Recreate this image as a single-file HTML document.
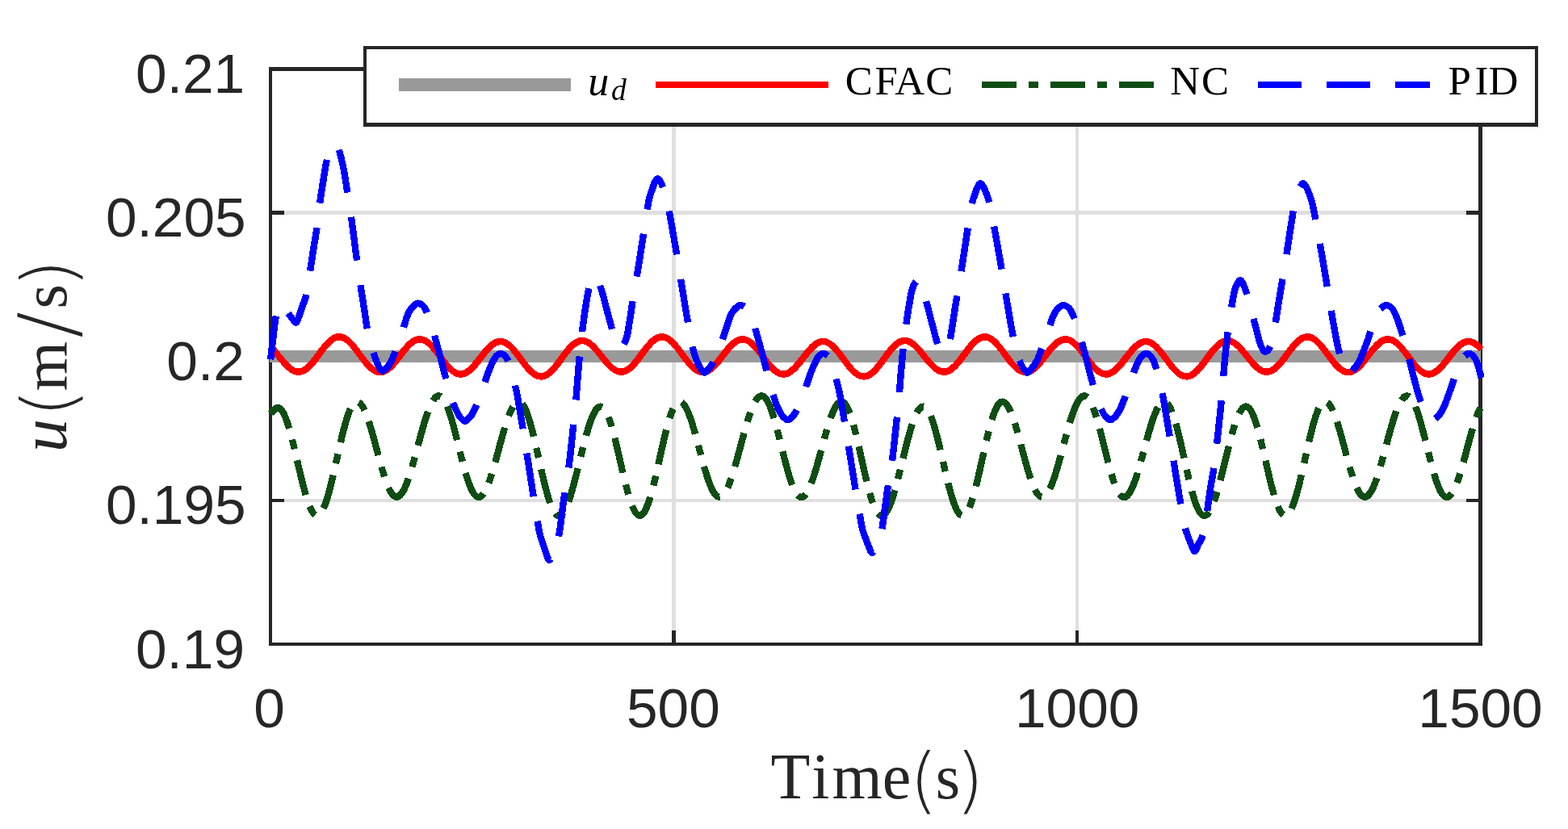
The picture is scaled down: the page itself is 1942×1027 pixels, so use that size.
<!DOCTYPE html>
<html lang="en"><head><meta charset="utf-8"><title>u (m/s) versus Time (s)</title>
<style>html,body{margin:0;padding:0;background:#fff;overflow:hidden}svg{display:block}.tk{font-family:"Liberation Sans","DejaVu Sans",sans-serif;font-size:69.4px;fill:#262626}.lb{font-family:"Liberation Serif","DejaVu Serif",serif;font-size:80px;fill:#262626}.lg{font-family:"Liberation Serif","DejaVu Serif",serif;font-size:51px;fill:#000}</style></head><body>
<svg width="1942" height="1027" viewBox="0 0 1942 1027">
<defs><clipPath id="ax"><rect x="331" y="83" width="1507" height="717"/></clipPath></defs>
<rect x="0" y="0" width="1942" height="1027" fill="#fff"/>
<g shape-rendering="crispEdges">
<rect x="832" y="88" width="5" height="708" fill="#dfdfdf"/>
<rect x="1332" y="88" width="4" height="708" fill="#dfdfdf"/>
<rect x="337" y="261" width="1494" height="5" fill="#dfdfdf"/>
<rect x="337" y="439" width="1494" height="5" fill="#dfdfdf"/>
<rect x="337" y="618" width="1494" height="4" fill="#dfdfdf"/>
<rect x="333" y="83" width="1503" height="5" fill="#262626"/>
<rect x="333" y="796" width="1503" height="4" fill="#262626"/>
<rect x="333" y="83" width="4" height="717" fill="#262626"/>
<rect x="1831" y="83" width="5" height="717" fill="#262626"/>
<rect x="832" y="781" width="5" height="15" fill="#262626"/>
<rect x="832" y="88" width="5" height="15" fill="#262626"/>
<rect x="1332" y="781" width="4" height="15" fill="#262626"/>
<rect x="1332" y="88" width="4" height="15" fill="#262626"/>
<rect x="337" y="261" width="15" height="5" fill="#262626"/>
<rect x="1816" y="261" width="15" height="5" fill="#262626"/>
<rect x="337" y="439" width="15" height="5" fill="#262626"/>
<rect x="1816" y="439" width="15" height="5" fill="#262626"/>
<rect x="337" y="618" width="15" height="4" fill="#262626"/>
<rect x="1816" y="618" width="15" height="4" fill="#262626"/>
</g>
<g clip-path="url(#ax)" fill="none" stroke-linejoin="round" stroke-linecap="butt" shape-rendering="crispEdges">
<rect x="333.6" y="434" width="1500.7" height="15" fill="#999999"/>
<path d="M335.0,429.3 L336.0,430.3 L337.0,431.4 L338.0,432.5 L339.0,433.6 L340.0,434.8 L341.0,436.0 L342.0,437.2 L343.0,438.4 L344.0,439.7 L345.0,440.9 L346.0,442.2 L347.0,443.4 L348.0,444.6 L349.0,445.9 L350.0,447.1 L351.0,448.3 L352.0,449.4 L353.0,450.5 L354.0,451.6 L355.0,452.6 L356.0,453.6 L357.0,454.5 L358.0,455.4 L359.0,456.2 L360.0,457.0 L361.0,457.7 L362.0,458.3 L363.0,458.9 L364.0,459.3 L365.0,459.7 L366.0,460.1 L367.0,460.3 L368.0,460.5 L369.0,460.5 L370.0,460.5 L371.0,460.5 L372.0,460.3 L373.0,460.0 L374.0,459.7 L375.0,459.3 L376.0,458.8 L377.0,458.3 L378.0,457.6 L379.0,456.9 L380.0,456.1 L381.0,455.3 L382.0,454.4 L383.0,453.4 L384.0,452.4 L385.0,451.3 L386.0,450.2 L387.0,449.0 L388.0,447.8 L389.0,446.5 L390.0,445.3 L391.0,444.0 L392.0,442.6 L393.0,441.3 L394.0,440.0 L395.0,438.6 L396.0,437.3 L397.0,435.9 L398.0,434.6 L399.0,433.3 L400.0,432.0 L401.0,430.7 L402.0,429.5 L403.0,428.3 L404.0,427.1 L405.0,426.0 L406.0,424.9 L407.0,423.9 L408.0,423.0 L409.0,422.1 L410.0,421.3 L411.0,420.5 L412.0,419.8 L413.0,419.2 L414.0,418.7 L415.0,418.2 L416.0,417.8 L417.0,417.5 L418.0,417.3 L419.0,417.2 L420.0,417.2 L421.0,417.2 L422.0,417.3 L423.0,417.5 L424.0,417.8 L425.0,418.2 L426.0,418.7 L427.0,419.2 L428.0,419.8 L429.0,420.5 L430.0,421.3 L431.0,422.1 L432.0,423.0 L433.0,423.9 L434.0,424.9 L435.0,426.0 L436.0,427.1 L437.0,428.3 L438.0,429.5 L439.0,430.7 L440.0,432.0 L441.0,433.3 L442.0,434.6 L443.0,436.0 L444.0,437.3 L445.0,438.7 L446.0,440.1 L447.0,441.4 L448.0,442.8 L449.0,444.1 L450.0,445.4 L451.0,446.7 L452.0,447.9 L453.0,449.2 L454.0,450.4 L455.0,451.5 L456.0,452.6 L457.0,453.6 L458.0,454.6 L459.0,455.5 L460.0,456.4 L461.0,457.2 L462.0,457.9 L463.0,458.5 L464.0,459.1 L465.0,459.6 L466.0,460.0 L467.0,460.4 L468.0,460.6 L469.0,460.8 L470.0,460.9 L471.0,460.9 L472.0,460.8 L473.0,460.6 L474.0,460.4 L475.0,460.1 L476.0,459.7 L477.0,459.2 L478.0,458.6 L479.0,458.0 L480.0,457.3 L481.0,456.5 L482.0,455.7 L483.0,454.8 L484.0,453.8 L485.0,452.8 L486.0,451.8 L487.0,450.7 L488.0,449.5 L489.0,448.3 L490.0,447.1 L491.0,445.9 L492.0,444.6 L493.0,443.3 L494.0,442.1 L495.0,440.8 L496.0,439.5 L497.0,438.2 L498.0,436.9 L499.0,435.6 L500.0,434.4 L501.0,433.2 L502.0,432.0 L503.0,430.8 L504.0,429.7 L505.0,428.6 L506.0,427.6 L507.0,426.6 L508.0,425.7 L509.0,424.8 L510.0,424.0 L511.0,423.3 L512.0,422.7 L513.0,422.1 L514.0,421.6 L515.0,421.1 L516.0,420.8 L517.0,420.5 L518.0,420.3 L519.0,420.2 L520.0,420.2 L521.0,420.2 L522.0,420.4 L523.0,420.6 L524.0,420.9 L525.0,421.3 L526.0,421.7 L527.0,422.3 L528.0,422.9 L529.0,423.6 L530.0,424.3 L531.0,425.2 L532.0,426.1 L533.0,427.0 L534.0,428.0 L535.0,429.1 L536.0,430.2 L537.0,431.4 L538.0,432.6 L539.0,433.8 L540.0,435.1 L541.0,436.3 L542.0,437.7 L543.0,439.0 L544.0,440.3 L545.0,441.7 L546.0,443.0 L547.0,444.4 L548.0,445.7 L549.0,447.0 L550.0,448.3 L551.0,449.6 L552.0,450.8 L553.0,452.0 L554.0,453.2 L555.0,454.3 L556.0,455.4 L557.0,456.4 L558.0,457.3 L559.0,458.2 L560.0,459.1 L561.0,459.8 L562.0,460.5 L563.0,461.2 L564.0,461.7 L565.0,462.2 L566.0,462.6 L567.0,462.9 L568.0,463.1 L569.0,463.3 L570.0,463.4 L571.0,463.3 L572.0,463.2 L573.0,463.1 L574.0,462.8 L575.0,462.5 L576.0,462.1 L577.0,461.6 L578.0,461.0 L579.0,460.3 L580.0,459.6 L581.0,458.8 L582.0,458.0 L583.0,457.1 L584.0,456.1 L585.0,455.1 L586.0,454.1 L587.0,452.9 L588.0,451.8 L589.0,450.6 L590.0,449.4 L591.0,448.2 L592.0,446.9 L593.0,445.6 L594.0,444.3 L595.0,443.1 L596.0,441.8 L597.0,440.5 L598.0,439.2 L599.0,438.0 L600.0,436.7 L601.0,435.5 L602.0,434.3 L603.0,433.2 L604.0,432.1 L605.0,431.0 L606.0,430.0 L607.0,429.1 L608.0,428.2 L609.0,427.3 L610.0,426.6 L611.0,425.8 L612.0,425.2 L613.0,424.7 L614.0,424.2 L615.0,423.8 L616.0,423.4 L617.0,423.2 L618.0,423.0 L619.0,422.9 L620.0,422.9 L621.0,423.0 L622.0,423.2 L623.0,423.4 L624.0,423.7 L625.0,424.2 L626.0,424.6 L627.0,425.2 L628.0,425.9 L629.0,426.6 L630.0,427.3 L631.0,428.2 L632.0,429.1 L633.0,430.1 L634.0,431.1 L635.0,432.2 L636.0,433.3 L637.0,434.5 L638.0,435.7 L639.0,437.0 L640.0,438.2 L641.0,439.5 L642.0,440.9 L643.0,442.2 L644.0,443.6 L645.0,444.9 L646.0,446.3 L647.0,447.6 L648.0,448.9 L649.0,450.2 L650.0,451.5 L651.0,452.8 L652.0,454.0 L653.0,455.2 L654.0,456.4 L655.0,457.5 L656.0,458.6 L657.0,459.6 L658.0,460.5 L659.0,461.4 L660.0,462.2 L661.0,463.0 L662.0,463.6 L663.0,464.2 L664.0,464.8 L665.0,465.2 L666.0,465.6 L667.0,465.9 L668.0,466.1 L669.0,466.2 L670.0,466.2 L671.0,466.2 L672.0,466.0 L673.0,465.8 L674.0,465.5 L675.0,465.1 L676.0,464.6 L677.0,464.1 L678.0,463.5 L679.0,462.8 L680.0,462.0 L681.0,461.2 L682.0,460.3 L683.0,459.3 L684.0,458.3 L685.0,457.2 L686.0,456.1 L687.0,454.9 L688.0,453.7 L689.0,452.4 L690.0,451.1 L691.0,449.8 L692.0,448.5 L693.0,447.1 L694.0,445.8 L695.0,444.4 L696.0,443.0 L697.0,441.7 L698.0,440.3 L699.0,439.0 L700.0,437.6 L701.0,436.3 L702.0,435.1 L703.0,433.9 L704.0,432.7 L705.0,431.5 L706.0,430.4 L707.0,429.4 L708.0,428.4 L709.0,427.4 L710.0,426.6 L711.0,425.8 L712.0,425.0 L713.0,424.4 L714.0,423.8 L715.0,423.3 L716.0,422.8 L717.0,422.5 L718.0,422.2 L719.0,422.0 L720.0,421.9 L721.0,421.9 L722.0,422.0 L723.0,422.1 L724.0,422.3 L725.0,422.6 L726.0,423.0 L727.0,423.5 L728.0,424.0 L729.0,424.6 L730.0,425.3 L731.0,426.0 L732.0,426.9 L733.0,427.7 L734.0,428.6 L735.0,429.6 L736.0,430.6 L737.0,431.7 L738.0,432.8 L739.0,434.0 L740.0,435.1 L741.0,436.3 L742.0,437.6 L743.0,438.8 L744.0,440.0 L745.0,441.3 L746.0,442.5 L747.0,443.8 L748.0,445.0 L749.0,446.2 L750.0,447.4 L751.0,448.6 L752.0,449.7 L753.0,450.8 L754.0,451.9 L755.0,452.9 L756.0,453.9 L757.0,454.8 L758.0,455.7 L759.0,456.5 L760.0,457.2 L761.0,457.9 L762.0,458.5 L763.0,459.0 L764.0,459.5 L765.0,459.8 L766.0,460.1 L767.0,460.4 L768.0,460.5 L769.0,460.6 L770.0,460.5 L771.0,460.4 L772.0,460.2 L773.0,460.0 L774.0,459.6 L775.0,459.2 L776.0,458.7 L777.0,458.1 L778.0,457.4 L779.0,456.7 L780.0,455.9 L781.0,455.0 L782.0,454.1 L783.0,453.1 L784.0,452.1 L785.0,451.0 L786.0,449.8 L787.0,448.6 L788.0,447.4 L789.0,446.2 L790.0,444.9 L791.0,443.6 L792.0,442.2 L793.0,440.9 L794.0,439.6 L795.0,438.2 L796.0,436.9 L797.0,435.5 L798.0,434.2 L799.0,432.9 L800.0,431.6 L801.0,430.3 L802.0,429.1 L803.0,427.9 L804.0,426.8 L805.0,425.7 L806.0,424.6 L807.0,423.6 L808.0,422.7 L809.0,421.8 L810.0,421.0 L811.0,420.3 L812.0,419.6 L813.0,419.0 L814.0,418.5 L815.0,418.1 L816.0,417.7 L817.0,417.5 L818.0,417.3 L819.0,417.2 L820.0,417.2 L821.0,417.2 L822.0,417.4 L823.0,417.6 L824.0,417.9 L825.0,418.3 L826.0,418.8 L827.0,419.4 L828.0,420.0 L829.0,420.7 L830.0,421.5 L831.0,422.3 L832.0,423.3 L833.0,424.2 L834.0,425.3 L835.0,426.3 L836.0,427.5 L837.0,428.7 L838.0,429.9 L839.0,431.1 L840.0,432.4 L841.0,433.7 L842.0,435.0 L843.0,436.4 L844.0,437.7 L845.0,439.1 L846.0,440.5 L847.0,441.8 L848.0,443.2 L849.0,444.5 L850.0,445.8 L851.0,447.1 L852.0,448.3 L853.0,449.5 L854.0,450.7 L855.0,451.8 L856.0,452.9 L857.0,453.9 L858.0,454.9 L859.0,455.8 L860.0,456.6 L861.0,457.4 L862.0,458.1 L863.0,458.7 L864.0,459.3 L865.0,459.8 L866.0,460.1 L867.0,460.5 L868.0,460.7 L869.0,460.8 L870.0,460.9 L871.0,460.9 L872.0,460.8 L873.0,460.6 L874.0,460.3 L875.0,460.0 L876.0,459.5 L877.0,459.0 L878.0,458.5 L879.0,457.8 L880.0,457.1 L881.0,456.3 L882.0,455.4 L883.0,454.5 L884.0,453.5 L885.0,452.5 L886.0,451.4 L887.0,450.3 L888.0,449.2 L889.0,448.0 L890.0,446.8 L891.0,445.5 L892.0,444.2 L893.0,443.0 L894.0,441.7 L895.0,440.4 L896.0,439.1 L897.0,437.8 L898.0,436.5 L899.0,435.2 L900.0,434.0 L901.0,432.8 L902.0,431.6 L903.0,430.5 L904.0,429.4 L905.0,428.3 L906.0,427.3 L907.0,426.3 L908.0,425.4 L909.0,424.6 L910.0,423.8 L911.0,423.1 L912.0,422.5 L913.0,421.9 L914.0,421.4 L915.0,421.0 L916.0,420.7 L917.0,420.4 L918.0,420.3 L919.0,420.2 L920.0,420.2 L921.0,420.3 L922.0,420.4 L923.0,420.7 L924.0,421.0 L925.0,421.4 L926.0,421.9 L927.0,422.5 L928.0,423.1 L929.0,423.8 L930.0,424.6 L931.0,425.4 L932.0,426.3 L933.0,427.3 L934.0,428.3 L935.0,429.4 L936.0,430.5 L937.0,431.7 L938.0,432.9 L939.0,434.2 L940.0,435.4 L941.0,436.7 L942.0,438.1 L943.0,439.4 L944.0,440.7 L945.0,442.1 L946.0,443.4 L947.0,444.8 L948.0,446.1 L949.0,447.4 L950.0,448.7 L951.0,449.9 L952.0,451.2 L953.0,452.4 L954.0,453.5 L955.0,454.6 L956.0,455.7 L957.0,456.7 L958.0,457.6 L959.0,458.5 L960.0,459.3 L961.0,460.1 L962.0,460.7 L963.0,461.3 L964.0,461.9 L965.0,462.3 L966.0,462.7 L967.0,463.0 L968.0,463.2 L969.0,463.3 L970.0,463.4 L971.0,463.3 L972.0,463.2 L973.0,463.0 L974.0,462.7 L975.0,462.4 L976.0,461.9 L977.0,461.4 L978.0,460.8 L979.0,460.1 L980.0,459.4 L981.0,458.6 L982.0,457.7 L983.0,456.8 L984.0,455.8 L985.0,454.8 L986.0,453.7 L987.0,452.6 L988.0,451.4 L989.0,450.3 L990.0,449.0 L991.0,447.8 L992.0,446.5 L993.0,445.2 L994.0,444.0 L995.0,442.7 L996.0,441.4 L997.0,440.1 L998.0,438.8 L999.0,437.6 L1000.0,436.4 L1001.0,435.2 L1002.0,434.0 L1003.0,432.9 L1004.0,431.8 L1005.0,430.7 L1006.0,429.7 L1007.0,428.8 L1008.0,427.9 L1009.0,427.1 L1010.0,426.3 L1011.0,425.7 L1012.0,425.0 L1013.0,424.5 L1014.0,424.0 L1015.0,423.7 L1016.0,423.3 L1017.0,423.1 L1018.0,423.0 L1019.0,422.9 L1020.0,422.9 L1021.0,423.0 L1022.0,423.2 L1023.0,423.5 L1024.0,423.9 L1025.0,424.3 L1026.0,424.8 L1027.0,425.4 L1028.0,426.1 L1029.0,426.8 L1030.0,427.6 L1031.0,428.5 L1032.0,429.4 L1033.0,430.4 L1034.0,431.4 L1035.0,432.5 L1036.0,433.7 L1037.0,434.9 L1038.0,436.1 L1039.0,437.3 L1040.0,438.6 L1041.0,439.9 L1042.0,441.3 L1043.0,442.6 L1044.0,444.0 L1045.0,445.3 L1046.0,446.7 L1047.0,448.0 L1048.0,449.3 L1049.0,450.6 L1050.0,451.9 L1051.0,453.2 L1052.0,454.4 L1053.0,455.6 L1054.0,456.7 L1055.0,457.8 L1056.0,458.9 L1057.0,459.9 L1058.0,460.8 L1059.0,461.6 L1060.0,462.4 L1061.0,463.2 L1062.0,463.8 L1063.0,464.4 L1064.0,464.9 L1065.0,465.3 L1066.0,465.7 L1067.0,465.9 L1068.0,466.1 L1069.0,466.2 L1070.0,466.2 L1071.0,466.1 L1072.0,466.0 L1073.0,465.7 L1074.0,465.4 L1075.0,465.0 L1076.0,464.5 L1077.0,463.9 L1078.0,463.3 L1079.0,462.5 L1080.0,461.8 L1081.0,460.9 L1082.0,460.0 L1083.0,459.0 L1084.0,457.9 L1085.0,456.9 L1086.0,455.7 L1087.0,454.5 L1088.0,453.3 L1089.0,452.0 L1090.0,450.7 L1091.0,449.4 L1092.0,448.1 L1093.0,446.7 L1094.0,445.4 L1095.0,444.0 L1096.0,442.6 L1097.0,441.3 L1098.0,439.9 L1099.0,438.6 L1100.0,437.3 L1101.0,436.0 L1102.0,434.7 L1103.0,433.5 L1104.0,432.3 L1105.0,431.2 L1106.0,430.1 L1107.0,429.1 L1108.0,428.1 L1109.0,427.2 L1110.0,426.3 L1111.0,425.5 L1112.0,424.8 L1113.0,424.2 L1114.0,423.6 L1115.0,423.1 L1116.0,422.7 L1117.0,422.4 L1118.0,422.2 L1119.0,422.0 L1120.0,421.9 L1121.0,421.9 L1122.0,422.0 L1123.0,422.2 L1124.0,422.4 L1125.0,422.8 L1126.0,423.2 L1127.0,423.6 L1128.0,424.2 L1129.0,424.8 L1130.0,425.5 L1131.0,426.3 L1132.0,427.1 L1133.0,428.0 L1134.0,428.9 L1135.0,429.9 L1136.0,431.0 L1137.0,432.0 L1138.0,433.2 L1139.0,434.3 L1140.0,435.5 L1141.0,436.7 L1142.0,437.9 L1143.0,439.2 L1144.0,440.4 L1145.0,441.7 L1146.0,442.9 L1147.0,444.2 L1148.0,445.4 L1149.0,446.6 L1150.0,447.8 L1151.0,448.9 L1152.0,450.1 L1153.0,451.2 L1154.0,452.2 L1155.0,453.2 L1156.0,454.2 L1157.0,455.1 L1158.0,455.9 L1159.0,456.7 L1160.0,457.4 L1161.0,458.1 L1162.0,458.7 L1163.0,459.2 L1164.0,459.6 L1165.0,459.9 L1166.0,460.2 L1167.0,460.4 L1168.0,460.5 L1169.0,460.6 L1170.0,460.5 L1171.0,460.4 L1172.0,460.2 L1173.0,459.9 L1174.0,459.5 L1175.0,459.0 L1176.0,458.5 L1177.0,457.9 L1178.0,457.2 L1179.0,456.4 L1180.0,455.6 L1181.0,454.7 L1182.0,453.8 L1183.0,452.8 L1184.0,451.7 L1185.0,450.6 L1186.0,449.5 L1187.0,448.3 L1188.0,447.0 L1189.0,445.8 L1190.0,444.5 L1191.0,443.2 L1192.0,441.8 L1193.0,440.5 L1194.0,439.1 L1195.0,437.8 L1196.0,436.5 L1197.0,435.1 L1198.0,433.8 L1199.0,432.5 L1200.0,431.2 L1201.0,430.0 L1202.0,428.7 L1203.0,427.6 L1204.0,426.4 L1205.0,425.4 L1206.0,424.3 L1207.0,423.3 L1208.0,422.4 L1209.0,421.6 L1210.0,420.8 L1211.0,420.1 L1212.0,419.4 L1213.0,418.9 L1214.0,418.4 L1215.0,418.0 L1216.0,417.6 L1217.0,417.4 L1218.0,417.2 L1219.0,417.2 L1220.0,417.2 L1221.0,417.3 L1222.0,417.4 L1223.0,417.7 L1224.0,418.0 L1225.0,418.5 L1226.0,419.0 L1227.0,419.6 L1228.0,420.2 L1229.0,420.9 L1230.0,421.7 L1231.0,422.6 L1232.0,423.5 L1233.0,424.5 L1234.0,425.6 L1235.0,426.7 L1236.0,427.8 L1237.0,429.0 L1238.0,430.2 L1239.0,431.5 L1240.0,432.8 L1241.0,434.1 L1242.0,435.4 L1243.0,436.8 L1244.0,438.2 L1245.0,439.5 L1246.0,440.9 L1247.0,442.2 L1248.0,443.6 L1249.0,444.9 L1250.0,446.2 L1251.0,447.5 L1252.0,448.7 L1253.0,449.9 L1254.0,451.0 L1255.0,452.2 L1256.0,453.2 L1257.0,454.2 L1258.0,455.2 L1259.0,456.1 L1260.0,456.9 L1261.0,457.6 L1262.0,458.3 L1263.0,458.9 L1264.0,459.4 L1265.0,459.9 L1266.0,460.2 L1267.0,460.5 L1268.0,460.7 L1269.0,460.9 L1270.0,460.9 L1271.0,460.9 L1272.0,460.7 L1273.0,460.5 L1274.0,460.2 L1275.0,459.8 L1276.0,459.4 L1277.0,458.9 L1278.0,458.3 L1279.0,457.6 L1280.0,456.8 L1281.0,456.0 L1282.0,455.2 L1283.0,454.2 L1284.0,453.2 L1285.0,452.2 L1286.0,451.1 L1287.0,450.0 L1288.0,448.8 L1289.0,447.6 L1290.0,446.4 L1291.0,445.1 L1292.0,443.9 L1293.0,442.6 L1294.0,441.3 L1295.0,440.0 L1296.0,438.7 L1297.0,437.4 L1298.0,436.1 L1299.0,434.9 L1300.0,433.6 L1301.0,432.4 L1302.0,431.3 L1303.0,430.1 L1304.0,429.0 L1305.0,428.0 L1306.0,427.0 L1307.0,426.0 L1308.0,425.2 L1309.0,424.3 L1310.0,423.6 L1311.0,422.9 L1312.0,422.3 L1313.0,421.8 L1314.0,421.3 L1315.0,420.9 L1316.0,420.6 L1317.0,420.4 L1318.0,420.2 L1319.0,420.2 L1320.0,420.2 L1321.0,420.3 L1322.0,420.5 L1323.0,420.8 L1324.0,421.1 L1325.0,421.5 L1326.0,422.1 L1327.0,422.6 L1328.0,423.3 L1329.0,424.0 L1330.0,424.8 L1331.0,425.7 L1332.0,426.6 L1333.0,427.6 L1334.0,428.7 L1335.0,429.8 L1336.0,430.9 L1337.0,432.1 L1338.0,433.3 L1339.0,434.5 L1340.0,435.8 L1341.0,437.1 L1342.0,438.5 L1343.0,439.8 L1344.0,441.1 L1345.0,442.5 L1346.0,443.8 L1347.0,445.2 L1348.0,446.5 L1349.0,447.8 L1350.0,449.1 L1351.0,450.3 L1352.0,451.5 L1353.0,452.7 L1354.0,453.8 L1355.0,454.9 L1356.0,456.0 L1357.0,457.0 L1358.0,457.9 L1359.0,458.7 L1360.0,459.5 L1361.0,460.3 L1362.0,460.9 L1363.0,461.5 L1364.0,462.0 L1365.0,462.4 L1366.0,462.8 L1367.0,463.1 L1368.0,463.2 L1369.0,463.3 L1370.0,463.4 L1371.0,463.3 L1372.0,463.2 L1373.0,462.9 L1374.0,462.6 L1375.0,462.2 L1376.0,461.8 L1377.0,461.2 L1378.0,460.6 L1379.0,459.9 L1380.0,459.2 L1381.0,458.3 L1382.0,457.5 L1383.0,456.5 L1384.0,455.5 L1385.0,454.5 L1386.0,453.4 L1387.0,452.3 L1388.0,451.1 L1389.0,449.9 L1390.0,448.7 L1391.0,447.4 L1392.0,446.1 L1393.0,444.9 L1394.0,443.6 L1395.0,442.3 L1396.0,441.0 L1397.0,439.7 L1398.0,438.5 L1399.0,437.2 L1400.0,436.0 L1401.0,434.8 L1402.0,433.6 L1403.0,432.5 L1404.0,431.4 L1405.0,430.4 L1406.0,429.4 L1407.0,428.5 L1408.0,427.7 L1409.0,426.9 L1410.0,426.1 L1411.0,425.5 L1412.0,424.9 L1413.0,424.4 L1414.0,423.9 L1415.0,423.6 L1416.0,423.3 L1417.0,423.1 L1418.0,423.0 L1419.0,422.9 L1420.0,423.0 L1421.0,423.1 L1422.0,423.3 L1423.0,423.6 L1424.0,424.0 L1425.0,424.4 L1426.0,425.0 L1427.0,425.6 L1428.0,426.3 L1429.0,427.0 L1430.0,427.9 L1431.0,428.7 L1432.0,429.7 L1433.0,430.7 L1434.0,431.8 L1435.0,432.9 L1436.0,434.0 L1437.0,435.2 L1438.0,436.5 L1439.0,437.7 L1440.0,439.0 L1441.0,440.3 L1442.0,441.7 L1443.0,443.0 L1444.0,444.4 L1445.0,445.7 L1446.0,447.1 L1447.0,448.4 L1448.0,449.7 L1449.0,451.0 L1450.0,452.3 L1451.0,453.5 L1452.0,454.8 L1453.0,455.9 L1454.0,457.1 L1455.0,458.1 L1456.0,459.2 L1457.0,460.1 L1458.0,461.0 L1459.0,461.9 L1460.0,462.7 L1461.0,463.4 L1462.0,464.0 L1463.0,464.6 L1464.0,465.0 L1465.0,465.4 L1466.0,465.8 L1467.0,466.0 L1468.0,466.1 L1469.0,466.2 L1470.0,466.2 L1471.0,466.1 L1472.0,465.9 L1473.0,465.6 L1474.0,465.3 L1475.0,464.8 L1476.0,464.3 L1477.0,463.7 L1478.0,463.1 L1479.0,462.3 L1480.0,461.5 L1481.0,460.6 L1482.0,459.7 L1483.0,458.7 L1484.0,457.6 L1485.0,456.5 L1486.0,455.4 L1487.0,454.2 L1488.0,452.9 L1489.0,451.6 L1490.0,450.3 L1491.0,449.0 L1492.0,447.7 L1493.0,446.3 L1494.0,444.9 L1495.0,443.6 L1496.0,442.2 L1497.0,440.9 L1498.0,439.5 L1499.0,438.2 L1500.0,436.9 L1501.0,435.6 L1502.0,434.3 L1503.0,433.1 L1504.0,432.0 L1505.0,430.8 L1506.0,429.8 L1507.0,428.8 L1508.0,427.8 L1509.0,426.9 L1510.0,426.1 L1511.0,425.3 L1512.0,424.6 L1513.0,424.0 L1514.0,423.5 L1515.0,423.0 L1516.0,422.6 L1517.0,422.3 L1518.0,422.1 L1519.0,422.0 L1520.0,421.9 L1521.0,421.9 L1522.0,422.0 L1523.0,422.2 L1524.0,422.5 L1525.0,422.9 L1526.0,423.3 L1527.0,423.8 L1528.0,424.4 L1529.0,425.0 L1530.0,425.7 L1531.0,426.5 L1532.0,427.4 L1533.0,428.3 L1534.0,429.2 L1535.0,430.2 L1536.0,431.3 L1537.0,432.4 L1538.0,433.5 L1539.0,434.7 L1540.0,435.9 L1541.0,437.1 L1542.0,438.3 L1543.0,439.5 L1544.0,440.8 L1545.0,442.0 L1546.0,443.3 L1547.0,444.5 L1548.0,445.7 L1549.0,447.0 L1550.0,448.1 L1551.0,449.3 L1552.0,450.4 L1553.0,451.5 L1554.0,452.5 L1555.0,453.5 L1556.0,454.5 L1557.0,455.3 L1558.0,456.2 L1559.0,456.9 L1560.0,457.6 L1561.0,458.3 L1562.0,458.8 L1563.0,459.3 L1564.0,459.7 L1565.0,460.0 L1566.0,460.3 L1567.0,460.5 L1568.0,460.5 L1569.0,460.5 L1570.0,460.5 L1571.0,460.3 L1572.0,460.1 L1573.0,459.7 L1574.0,459.3 L1575.0,458.9 L1576.0,458.3 L1577.0,457.7 L1578.0,457.0 L1579.0,456.2 L1580.0,455.4 L1581.0,454.5 L1582.0,453.5 L1583.0,452.5 L1584.0,451.4 L1585.0,450.3 L1586.0,449.1 L1587.0,447.9 L1588.0,446.7 L1589.0,445.4 L1590.0,444.1 L1591.0,442.8 L1592.0,441.4 L1593.0,440.1 L1594.0,438.7 L1595.0,437.4 L1596.0,436.0 L1597.0,434.7 L1598.0,433.4 L1599.0,432.1 L1600.0,430.8 L1601.0,429.6 L1602.0,428.4 L1603.0,427.2 L1604.0,426.1 L1605.0,425.0 L1606.0,424.0 L1607.0,423.1 L1608.0,422.2 L1609.0,421.3 L1610.0,420.6 L1611.0,419.9 L1612.0,419.3 L1613.0,418.7 L1614.0,418.3 L1615.0,417.9 L1616.0,417.6 L1617.0,417.3 L1618.0,417.2 L1619.0,417.2 L1620.0,417.2 L1621.0,417.3 L1622.0,417.5 L1623.0,417.8 L1624.0,418.2 L1625.0,418.6 L1626.0,419.1 L1627.0,419.7 L1628.0,420.4 L1629.0,421.2 L1630.0,422.0 L1631.0,422.9 L1632.0,423.8 L1633.0,424.8 L1634.0,425.9 L1635.0,427.0 L1636.0,428.2 L1637.0,429.4 L1638.0,430.6 L1639.0,431.9 L1640.0,433.2 L1641.0,434.5 L1642.0,435.9 L1643.0,437.2 L1644.0,438.6 L1645.0,439.9 L1646.0,441.3 L1647.0,442.6 L1648.0,444.0 L1649.0,445.3 L1650.0,446.6 L1651.0,447.8 L1652.0,449.1 L1653.0,450.2 L1654.0,451.4 L1655.0,452.5 L1656.0,453.5 L1657.0,454.5 L1658.0,455.4 L1659.0,456.3 L1660.0,457.1 L1661.0,457.8 L1662.0,458.5 L1663.0,459.1 L1664.0,459.6 L1665.0,460.0 L1666.0,460.3 L1667.0,460.6 L1668.0,460.8 L1669.0,460.9 L1670.0,460.9 L1671.0,460.8 L1672.0,460.7 L1673.0,460.4 L1674.0,460.1 L1675.0,459.7 L1676.0,459.2 L1677.0,458.7 L1678.0,458.1 L1679.0,457.4 L1680.0,456.6 L1681.0,455.8 L1682.0,454.9 L1683.0,453.9 L1684.0,452.9 L1685.0,451.9 L1686.0,450.8 L1687.0,449.6 L1688.0,448.5 L1689.0,447.2 L1690.0,446.0 L1691.0,444.7 L1692.0,443.5 L1693.0,442.2 L1694.0,440.9 L1695.0,439.6 L1696.0,438.3 L1697.0,437.0 L1698.0,435.7 L1699.0,434.5 L1700.0,433.3 L1701.0,432.1 L1702.0,430.9 L1703.0,429.8 L1704.0,428.7 L1705.0,427.7 L1706.0,426.7 L1707.0,425.8 L1708.0,424.9 L1709.0,424.1 L1710.0,423.4 L1711.0,422.7 L1712.0,422.1 L1713.0,421.6 L1714.0,421.2 L1715.0,420.8 L1716.0,420.5 L1717.0,420.3 L1718.0,420.2 L1719.0,420.2 L1720.0,420.2 L1721.0,420.4 L1722.0,420.6 L1723.0,420.9 L1724.0,421.2 L1725.0,421.7 L1726.0,422.2 L1727.0,422.8 L1728.0,423.5 L1729.0,424.3 L1730.0,425.1 L1731.0,426.0 L1732.0,426.9 L1733.0,427.9 L1734.0,429.0 L1735.0,430.1 L1736.0,431.2 L1737.0,432.4 L1738.0,433.7 L1739.0,434.9 L1740.0,436.2 L1741.0,437.5 L1742.0,438.9 L1743.0,440.2 L1744.0,441.5 L1745.0,442.9 L1746.0,444.2 L1747.0,445.6 L1748.0,446.9 L1749.0,448.2 L1750.0,449.4 L1751.0,450.7 L1752.0,451.9 L1753.0,453.0 L1754.0,454.2 L1755.0,455.2 L1756.0,456.3 L1757.0,457.2 L1758.0,458.1 L1759.0,459.0 L1760.0,459.8 L1761.0,460.5 L1762.0,461.1 L1763.0,461.7 L1764.0,462.1 L1765.0,462.6 L1766.0,462.9 L1767.0,463.1 L1768.0,463.3 L1769.0,463.4 L1770.0,463.4 L1771.0,463.3 L1772.0,463.1 L1773.0,462.8 L1774.0,462.5 L1775.0,462.1 L1776.0,461.6 L1777.0,461.0 L1778.0,460.4 L1779.0,459.7 L1780.0,458.9 L1781.0,458.1 L1782.0,457.2 L1783.0,456.2 L1784.0,455.2 L1785.0,454.2 L1786.0,453.1 L1787.0,451.9 L1788.0,450.7 L1789.0,449.5 L1790.0,448.3 L1791.0,447.0 L1792.0,445.8 L1793.0,444.5 L1794.0,443.2 L1795.0,441.9 L1796.0,440.6 L1797.0,439.3 L1798.0,438.1 L1799.0,436.8 L1800.0,435.6 L1801.0,434.4 L1802.0,433.3 L1803.0,432.2 L1804.0,431.1 L1805.0,430.1 L1806.0,429.2 L1807.0,428.3 L1808.0,427.4 L1809.0,426.6 L1810.0,425.9 L1811.0,425.3 L1812.0,424.7 L1813.0,424.2 L1814.0,423.8 L1815.0,423.5 L1816.0,423.2 L1817.0,423.0 L1818.0,422.9 L1819.0,422.9 L1820.0,423.0 L1821.0,423.2 L1822.0,423.4 L1823.0,423.7 L1824.0,424.1 L1825.0,424.6 L1826.0,425.2 L1827.0,425.8 L1828.0,426.5 L1829.0,427.3 L1830.0,428.1 L1831.0,429.0 L1832.0,430.0 L1833.0,431.0 L1834.0,432.1 L1834.4,432.5" stroke="#ff0000" stroke-width="8.1"/>
<path d="M335.0,429.3 L336.0,430.3 L337.0,431.4 L338.0,432.5 L339.0,433.6 L340.0,434.8 L341.0,436.0 L342.0,437.2 L343.0,438.4 L344.0,439.7 L345.0,440.9 L346.0,442.2 L347.0,443.4 L348.0,444.6 L349.0,445.9 L350.0,447.1 L351.0,448.3 L352.0,449.4 L353.0,450.5 L354.0,451.6 L355.0,452.6 L356.0,453.6 L357.0,454.5 L358.0,455.4 L359.0,456.2 L360.0,457.0 L361.0,457.7 L362.0,458.3 L363.0,458.9 L364.0,459.3 L365.0,459.7 L366.0,460.1 L367.0,460.3 L368.0,460.5 L369.0,460.5 L370.0,460.5 L371.0,460.5 L372.0,460.3 L373.0,460.0 L374.0,459.7 L375.0,459.3 L376.0,458.8 L377.0,458.3 L378.0,457.6 L379.0,456.9 L380.0,456.1 L381.0,455.3 L382.0,454.4 L383.0,453.4 L384.0,452.4 L385.0,451.3 L386.0,450.2 L387.0,449.0 L388.0,447.8 L389.0,446.5 L390.0,445.3 L391.0,444.0 L392.0,442.6 L393.0,441.3 L394.0,440.0 L395.0,438.6 L396.0,437.3 L397.0,435.9 L398.0,434.6 L399.0,433.3 L400.0,432.0 L401.0,430.7 L402.0,429.5 L403.0,428.3 L404.0,427.1 L405.0,426.0 L406.0,424.9 L407.0,423.9 L408.0,423.0 L409.0,422.1 L410.0,421.3 L411.0,420.5 L412.0,419.8 L413.0,419.2 L414.0,418.7 L415.0,418.2 L416.0,417.8 L417.0,417.5 L418.0,417.3 L419.0,417.2 L420.0,417.2 L421.0,417.2 L422.0,417.3 L423.0,417.5 L424.0,417.8 L425.0,418.2 L426.0,418.7 L427.0,419.2 L428.0,419.8 L429.0,420.5 L430.0,421.3 L431.0,422.1 L432.0,423.0 L433.0,423.9 L434.0,424.9 L435.0,426.0 L436.0,427.1 L437.0,428.3 L438.0,429.5 L439.0,430.7 L440.0,432.0 L441.0,433.3 L442.0,434.6 L443.0,436.0 L444.0,437.3 L445.0,438.7 L446.0,440.1 L447.0,441.4 L448.0,442.8 L449.0,444.1 L450.0,445.4 L451.0,446.7 L452.0,447.9 L453.0,449.2 L454.0,450.4 L455.0,451.5 L456.0,452.6 L457.0,453.6 L458.0,454.6 L459.0,455.5 L460.0,456.4 L461.0,457.2 L462.0,457.9 L463.0,458.5 L464.0,459.1 L465.0,459.6 L466.0,460.0 L467.0,460.4 L468.0,460.6 L469.0,460.8 L470.0,460.9 L471.0,460.9 L472.0,460.8 L473.0,460.6 L474.0,460.4 L475.0,460.1 L476.0,459.7 L477.0,459.2 L478.0,458.6 L479.0,458.0 L480.0,457.3 L481.0,456.5 L482.0,455.7 L483.0,454.8 L484.0,453.8 L485.0,452.8 L486.0,451.8 L487.0,450.7 L488.0,449.5 L489.0,448.3 L490.0,447.1 L491.0,445.9 L492.0,444.6 L493.0,443.3 L494.0,442.1 L495.0,440.8 L496.0,439.5 L497.0,438.2 L498.0,436.9 L499.0,435.6 L500.0,434.4 L501.0,433.2 L502.0,432.0 L503.0,430.8 L504.0,429.7 L505.0,428.6 L506.0,427.6 L507.0,426.6 L508.0,425.7 L509.0,424.8 L510.0,424.0 L511.0,423.3 L512.0,422.7 L513.0,422.1 L514.0,421.6 L515.0,421.1 L516.0,420.8 L517.0,420.5 L518.0,420.3 L519.0,420.2 L520.0,420.2 L521.0,420.2 L522.0,420.4 L523.0,420.6 L524.0,420.9 L525.0,421.3 L526.0,421.7 L527.0,422.3 L528.0,422.9 L529.0,423.6 L530.0,424.3 L531.0,425.2 L532.0,426.1 L533.0,427.0 L534.0,428.0 L535.0,429.1 L536.0,430.2 L537.0,431.4 L538.0,432.6 L539.0,433.8 L540.0,435.1 L541.0,436.3 L542.0,437.7 L543.0,439.0 L544.0,440.3 L545.0,441.7 L546.0,443.0 L547.0,444.4 L548.0,445.7 L549.0,447.0 L550.0,448.3 L551.0,449.6 L552.0,450.8 L553.0,452.0 L554.0,453.2 L555.0,454.3 L556.0,455.4 L557.0,456.4 L558.0,457.3 L559.0,458.2 L560.0,459.1 L561.0,459.8 L562.0,460.5 L563.0,461.2 L564.0,461.7 L565.0,462.2 L566.0,462.6 L567.0,462.9 L568.0,463.1 L569.0,463.3 L570.0,463.4 L571.0,463.3 L572.0,463.2 L573.0,463.1 L574.0,462.8 L575.0,462.5 L576.0,462.1 L577.0,461.6 L578.0,461.0 L579.0,460.3 L580.0,459.6 L581.0,458.8 L582.0,458.0 L583.0,457.1 L584.0,456.1 L585.0,455.1 L586.0,454.1 L587.0,452.9 L588.0,451.8 L589.0,450.6 L590.0,449.4 L591.0,448.2 L592.0,446.9 L593.0,445.6 L594.0,444.3 L595.0,443.1 L596.0,441.8 L597.0,440.5 L598.0,439.2 L599.0,438.0 L600.0,436.7 L601.0,435.5 L602.0,434.3 L603.0,433.2 L604.0,432.1 L605.0,431.0 L606.0,430.0 L607.0,429.1 L608.0,428.2 L609.0,427.3 L610.0,426.6 L611.0,425.8 L612.0,425.2 L613.0,424.7 L614.0,424.2 L615.0,423.8 L616.0,423.4 L617.0,423.2 L618.0,423.0 L619.0,422.9 L620.0,422.9 L621.0,423.0 L622.0,423.2 L623.0,423.4 L624.0,423.7 L625.0,424.2 L626.0,424.6 L627.0,425.2 L628.0,425.9 L629.0,426.6 L630.0,427.3 L631.0,428.2 L632.0,429.1 L633.0,430.1 L634.0,431.1 L635.0,432.2 L636.0,433.3 L637.0,434.5 L638.0,435.7 L639.0,437.0 L640.0,438.2 L641.0,439.5 L642.0,440.9 L643.0,442.2 L644.0,443.6 L645.0,444.9 L646.0,446.3 L647.0,447.6 L648.0,448.9 L649.0,450.2 L650.0,451.5 L651.0,452.8 L652.0,454.0 L653.0,455.2 L654.0,456.4 L655.0,457.5 L656.0,458.6 L657.0,459.6 L658.0,460.5 L659.0,461.4 L660.0,462.2 L661.0,463.0 L662.0,463.6 L663.0,464.2 L664.0,464.8 L665.0,465.2 L666.0,465.6 L667.0,465.9 L668.0,466.1 L669.0,466.2 L670.0,466.2 L671.0,466.2 L672.0,466.0 L673.0,465.8 L674.0,465.5 L675.0,465.1 L676.0,464.6 L677.0,464.1 L678.0,463.5 L679.0,462.8 L680.0,462.0 L681.0,461.2 L682.0,460.3 L683.0,459.3 L684.0,458.3 L685.0,457.2 L686.0,456.1 L687.0,454.9 L688.0,453.7 L689.0,452.4 L690.0,451.1 L691.0,449.8 L692.0,448.5 L693.0,447.1 L694.0,445.8 L695.0,444.4 L696.0,443.0 L697.0,441.7 L698.0,440.3 L699.0,439.0 L700.0,437.6 L701.0,436.3 L702.0,435.1 L703.0,433.9 L704.0,432.7 L705.0,431.5 L706.0,430.4 L707.0,429.4 L708.0,428.4 L709.0,427.4 L710.0,426.6 L711.0,425.8 L712.0,425.0 L713.0,424.4 L714.0,423.8 L715.0,423.3 L716.0,422.8 L717.0,422.5 L718.0,422.2 L719.0,422.0 L720.0,421.9 L721.0,421.9 L722.0,422.0 L723.0,422.1 L724.0,422.3 L725.0,422.6 L726.0,423.0 L727.0,423.5 L728.0,424.0 L729.0,424.6 L730.0,425.3 L731.0,426.0 L732.0,426.9 L733.0,427.7 L734.0,428.6 L735.0,429.6 L736.0,430.6 L737.0,431.7 L738.0,432.8 L739.0,434.0 L740.0,435.1 L741.0,436.3 L742.0,437.6 L743.0,438.8 L744.0,440.0 L745.0,441.3 L746.0,442.5 L747.0,443.8 L748.0,445.0 L749.0,446.2 L750.0,447.4 L751.0,448.6 L752.0,449.7 L753.0,450.8 L754.0,451.9 L755.0,452.9 L756.0,453.9 L757.0,454.8 L758.0,455.7 L759.0,456.5 L760.0,457.2 L761.0,457.9 L762.0,458.5 L763.0,459.0 L764.0,459.5 L765.0,459.8 L766.0,460.1 L767.0,460.4 L768.0,460.5 L769.0,460.6 L770.0,460.5 L771.0,460.4 L772.0,460.2 L773.0,460.0 L774.0,459.6 L775.0,459.2 L776.0,458.7 L777.0,458.1 L778.0,457.4 L779.0,456.7 L780.0,455.9 L781.0,455.0 L782.0,454.1 L783.0,453.1 L784.0,452.1 L785.0,451.0 L786.0,449.8 L787.0,448.6 L788.0,447.4 L789.0,446.2 L790.0,444.9 L791.0,443.6 L792.0,442.2 L793.0,440.9 L794.0,439.6 L795.0,438.2 L796.0,436.9 L797.0,435.5 L798.0,434.2 L799.0,432.9 L800.0,431.6 L801.0,430.3 L802.0,429.1 L803.0,427.9 L804.0,426.8 L805.0,425.7 L806.0,424.6 L807.0,423.6 L808.0,422.7 L809.0,421.8 L810.0,421.0 L811.0,420.3 L812.0,419.6 L813.0,419.0 L814.0,418.5 L815.0,418.1 L816.0,417.7 L817.0,417.5 L818.0,417.3 L819.0,417.2 L820.0,417.2 L821.0,417.2 L822.0,417.4 L823.0,417.6 L824.0,417.9 L825.0,418.3 L826.0,418.8 L827.0,419.4 L828.0,420.0 L829.0,420.7 L830.0,421.5 L831.0,422.3 L832.0,423.3 L833.0,424.2 L834.0,425.3 L835.0,426.3 L836.0,427.5 L837.0,428.7 L838.0,429.9 L839.0,431.1 L840.0,432.4 L841.0,433.7 L842.0,435.0 L843.0,436.4 L844.0,437.7 L845.0,439.1 L846.0,440.5 L847.0,441.8 L848.0,443.2 L849.0,444.5 L850.0,445.8 L851.0,447.1 L852.0,448.3 L853.0,449.5 L854.0,450.7 L855.0,451.8 L856.0,452.9 L857.0,453.9 L858.0,454.9 L859.0,455.8 L860.0,456.6 L861.0,457.4 L862.0,458.1 L863.0,458.7 L864.0,459.3 L865.0,459.8 L866.0,460.1 L867.0,460.5 L868.0,460.7 L869.0,460.8 L870.0,460.9 L871.0,460.9 L872.0,460.8 L873.0,460.6 L874.0,460.3 L875.0,460.0 L876.0,459.5 L877.0,459.0 L878.0,458.5 L879.0,457.8 L880.0,457.1 L881.0,456.3 L882.0,455.4 L883.0,454.5 L884.0,453.5 L885.0,452.5 L886.0,451.4 L887.0,450.3 L888.0,449.2 L889.0,448.0 L890.0,446.8 L891.0,445.5 L892.0,444.2 L893.0,443.0 L894.0,441.7 L895.0,440.4 L896.0,439.1 L897.0,437.8 L898.0,436.5 L899.0,435.2 L900.0,434.0 L901.0,432.8 L902.0,431.6 L903.0,430.5 L904.0,429.4 L905.0,428.3 L906.0,427.3 L907.0,426.3 L908.0,425.4 L909.0,424.6 L910.0,423.8 L911.0,423.1 L912.0,422.5 L913.0,421.9 L914.0,421.4 L915.0,421.0 L916.0,420.7 L917.0,420.4 L918.0,420.3 L919.0,420.2 L920.0,420.2 L921.0,420.3 L922.0,420.4 L923.0,420.7 L924.0,421.0 L925.0,421.4 L926.0,421.9 L927.0,422.5 L928.0,423.1 L929.0,423.8 L930.0,424.6 L931.0,425.4 L932.0,426.3 L933.0,427.3 L934.0,428.3 L935.0,429.4 L936.0,430.5 L937.0,431.7 L938.0,432.9 L939.0,434.2 L940.0,435.4 L941.0,436.7 L942.0,438.1 L943.0,439.4 L944.0,440.7 L945.0,442.1 L946.0,443.4 L947.0,444.8 L948.0,446.1 L949.0,447.4 L950.0,448.7 L951.0,449.9 L952.0,451.2 L953.0,452.4 L954.0,453.5 L955.0,454.6 L956.0,455.7 L957.0,456.7 L958.0,457.6 L959.0,458.5 L960.0,459.3 L961.0,460.1 L962.0,460.7 L963.0,461.3 L964.0,461.9 L965.0,462.3 L966.0,462.7 L967.0,463.0 L968.0,463.2 L969.0,463.3 L970.0,463.4 L971.0,463.3 L972.0,463.2 L973.0,463.0 L974.0,462.7 L975.0,462.4 L976.0,461.9 L977.0,461.4 L978.0,460.8 L979.0,460.1 L980.0,459.4 L981.0,458.6 L982.0,457.7 L983.0,456.8 L984.0,455.8 L985.0,454.8 L986.0,453.7 L987.0,452.6 L988.0,451.4 L989.0,450.3 L990.0,449.0 L991.0,447.8 L992.0,446.5 L993.0,445.2 L994.0,444.0 L995.0,442.7 L996.0,441.4 L997.0,440.1 L998.0,438.8 L999.0,437.6 L1000.0,436.4 L1001.0,435.2 L1002.0,434.0 L1003.0,432.9 L1004.0,431.8 L1005.0,430.7 L1006.0,429.7 L1007.0,428.8 L1008.0,427.9 L1009.0,427.1 L1010.0,426.3 L1011.0,425.7 L1012.0,425.0 L1013.0,424.5 L1014.0,424.0 L1015.0,423.7 L1016.0,423.3 L1017.0,423.1 L1018.0,423.0 L1019.0,422.9 L1020.0,422.9 L1021.0,423.0 L1022.0,423.2 L1023.0,423.5 L1024.0,423.9 L1025.0,424.3 L1026.0,424.8 L1027.0,425.4 L1028.0,426.1 L1029.0,426.8 L1030.0,427.6 L1031.0,428.5 L1032.0,429.4 L1033.0,430.4 L1034.0,431.4 L1035.0,432.5 L1036.0,433.7 L1037.0,434.9 L1038.0,436.1 L1039.0,437.3 L1040.0,438.6 L1041.0,439.9 L1042.0,441.3 L1043.0,442.6 L1044.0,444.0 L1045.0,445.3 L1046.0,446.7 L1047.0,448.0 L1048.0,449.3 L1049.0,450.6 L1050.0,451.9 L1051.0,453.2 L1052.0,454.4 L1053.0,455.6 L1054.0,456.7 L1055.0,457.8 L1056.0,458.9 L1057.0,459.9 L1058.0,460.8 L1059.0,461.6 L1060.0,462.4 L1061.0,463.2 L1062.0,463.8 L1063.0,464.4 L1064.0,464.9 L1065.0,465.3 L1066.0,465.7 L1067.0,465.9 L1068.0,466.1 L1069.0,466.2 L1070.0,466.2 L1071.0,466.1 L1072.0,466.0 L1073.0,465.7 L1074.0,465.4 L1075.0,465.0 L1076.0,464.5 L1077.0,463.9 L1078.0,463.3 L1079.0,462.5 L1080.0,461.8 L1081.0,460.9 L1082.0,460.0 L1083.0,459.0 L1084.0,457.9 L1085.0,456.9 L1086.0,455.7 L1087.0,454.5 L1088.0,453.3 L1089.0,452.0 L1090.0,450.7 L1091.0,449.4 L1092.0,448.1 L1093.0,446.7 L1094.0,445.4 L1095.0,444.0 L1096.0,442.6 L1097.0,441.3 L1098.0,439.9 L1099.0,438.6 L1100.0,437.3 L1101.0,436.0 L1102.0,434.7 L1103.0,433.5 L1104.0,432.3 L1105.0,431.2 L1106.0,430.1 L1107.0,429.1 L1108.0,428.1 L1109.0,427.2 L1110.0,426.3 L1111.0,425.5 L1112.0,424.8 L1113.0,424.2 L1114.0,423.6 L1115.0,423.1 L1116.0,422.7 L1117.0,422.4 L1118.0,422.2 L1119.0,422.0 L1120.0,421.9 L1121.0,421.9 L1122.0,422.0 L1123.0,422.2 L1124.0,422.4 L1125.0,422.8 L1126.0,423.2 L1127.0,423.6 L1128.0,424.2 L1129.0,424.8 L1130.0,425.5 L1131.0,426.3 L1132.0,427.1 L1133.0,428.0 L1134.0,428.9 L1135.0,429.9 L1136.0,431.0 L1137.0,432.0 L1138.0,433.2 L1139.0,434.3 L1140.0,435.5 L1141.0,436.7 L1142.0,437.9 L1143.0,439.2 L1144.0,440.4 L1145.0,441.7 L1146.0,442.9 L1147.0,444.2 L1148.0,445.4 L1149.0,446.6 L1150.0,447.8 L1151.0,448.9 L1152.0,450.1 L1153.0,451.2 L1154.0,452.2 L1155.0,453.2 L1156.0,454.2 L1157.0,455.1 L1158.0,455.9 L1159.0,456.7 L1160.0,457.4 L1161.0,458.1 L1162.0,458.7 L1163.0,459.2 L1164.0,459.6 L1165.0,459.9 L1166.0,460.2 L1167.0,460.4 L1168.0,460.5 L1169.0,460.6 L1170.0,460.5 L1171.0,460.4 L1172.0,460.2 L1173.0,459.9 L1174.0,459.5 L1175.0,459.0 L1176.0,458.5 L1177.0,457.9 L1178.0,457.2 L1179.0,456.4 L1180.0,455.6 L1181.0,454.7 L1182.0,453.8 L1183.0,452.8 L1184.0,451.7 L1185.0,450.6 L1186.0,449.5 L1187.0,448.3 L1188.0,447.0 L1189.0,445.8 L1190.0,444.5 L1191.0,443.2 L1192.0,441.8 L1193.0,440.5 L1194.0,439.1 L1195.0,437.8 L1196.0,436.5 L1197.0,435.1 L1198.0,433.8 L1199.0,432.5 L1200.0,431.2 L1201.0,430.0 L1202.0,428.7 L1203.0,427.6 L1204.0,426.4 L1205.0,425.4 L1206.0,424.3 L1207.0,423.3 L1208.0,422.4 L1209.0,421.6 L1210.0,420.8 L1211.0,420.1 L1212.0,419.4 L1213.0,418.9 L1214.0,418.4 L1215.0,418.0 L1216.0,417.6 L1217.0,417.4 L1218.0,417.2 L1219.0,417.2 L1220.0,417.2 L1221.0,417.3 L1222.0,417.4 L1223.0,417.7 L1224.0,418.0 L1225.0,418.5 L1226.0,419.0 L1227.0,419.6 L1228.0,420.2 L1229.0,420.9 L1230.0,421.7 L1231.0,422.6 L1232.0,423.5 L1233.0,424.5 L1234.0,425.6 L1235.0,426.7 L1236.0,427.8 L1237.0,429.0 L1238.0,430.2 L1239.0,431.5 L1240.0,432.8 L1241.0,434.1 L1242.0,435.4 L1243.0,436.8 L1244.0,438.2 L1245.0,439.5 L1246.0,440.9 L1247.0,442.2 L1248.0,443.6 L1249.0,444.9 L1250.0,446.2 L1251.0,447.5 L1252.0,448.7 L1253.0,449.9 L1254.0,451.0 L1255.0,452.2 L1256.0,453.2 L1257.0,454.2 L1258.0,455.2 L1259.0,456.1 L1260.0,456.9 L1261.0,457.6 L1262.0,458.3 L1263.0,458.9 L1264.0,459.4 L1265.0,459.9 L1266.0,460.2 L1267.0,460.5 L1268.0,460.7 L1269.0,460.9 L1270.0,460.9 L1271.0,460.9 L1272.0,460.7 L1273.0,460.5 L1274.0,460.2 L1275.0,459.8 L1276.0,459.4 L1277.0,458.9 L1278.0,458.3 L1279.0,457.6 L1280.0,456.8 L1281.0,456.0 L1282.0,455.2 L1283.0,454.2 L1284.0,453.2 L1285.0,452.2 L1286.0,451.1 L1287.0,450.0 L1288.0,448.8 L1289.0,447.6 L1290.0,446.4 L1291.0,445.1 L1292.0,443.9 L1293.0,442.6 L1294.0,441.3 L1295.0,440.0 L1296.0,438.7 L1297.0,437.4 L1298.0,436.1 L1299.0,434.9 L1300.0,433.6 L1301.0,432.4 L1302.0,431.3 L1303.0,430.1 L1304.0,429.0 L1305.0,428.0 L1306.0,427.0 L1307.0,426.0 L1308.0,425.2 L1309.0,424.3 L1310.0,423.6 L1311.0,422.9 L1312.0,422.3 L1313.0,421.8 L1314.0,421.3 L1315.0,420.9 L1316.0,420.6 L1317.0,420.4 L1318.0,420.2 L1319.0,420.2 L1320.0,420.2 L1321.0,420.3 L1322.0,420.5 L1323.0,420.8 L1324.0,421.1 L1325.0,421.5 L1326.0,422.1 L1327.0,422.6 L1328.0,423.3 L1329.0,424.0 L1330.0,424.8 L1331.0,425.7 L1332.0,426.6 L1333.0,427.6 L1334.0,428.7 L1335.0,429.8 L1336.0,430.9 L1337.0,432.1 L1338.0,433.3 L1339.0,434.5 L1340.0,435.8 L1341.0,437.1 L1342.0,438.5 L1343.0,439.8 L1344.0,441.1 L1345.0,442.5 L1346.0,443.8 L1347.0,445.2 L1348.0,446.5 L1349.0,447.8 L1350.0,449.1 L1351.0,450.3 L1352.0,451.5 L1353.0,452.7 L1354.0,453.8 L1355.0,454.9 L1356.0,456.0 L1357.0,457.0 L1358.0,457.9 L1359.0,458.7 L1360.0,459.5 L1361.0,460.3 L1362.0,460.9 L1363.0,461.5 L1364.0,462.0 L1365.0,462.4 L1366.0,462.8 L1367.0,463.1 L1368.0,463.2 L1369.0,463.3 L1370.0,463.4 L1371.0,463.3 L1372.0,463.2 L1373.0,462.9 L1374.0,462.6 L1375.0,462.2 L1376.0,461.8 L1377.0,461.2 L1378.0,460.6 L1379.0,459.9 L1380.0,459.2 L1381.0,458.3 L1382.0,457.5 L1383.0,456.5 L1384.0,455.5 L1385.0,454.5 L1386.0,453.4 L1387.0,452.3 L1388.0,451.1 L1389.0,449.9 L1390.0,448.7 L1391.0,447.4 L1392.0,446.1 L1393.0,444.9 L1394.0,443.6 L1395.0,442.3 L1396.0,441.0 L1397.0,439.7 L1398.0,438.5 L1399.0,437.2 L1400.0,436.0 L1401.0,434.8 L1402.0,433.6 L1403.0,432.5 L1404.0,431.4 L1405.0,430.4 L1406.0,429.4 L1407.0,428.5 L1408.0,427.7 L1409.0,426.9 L1410.0,426.1 L1411.0,425.5 L1412.0,424.9 L1413.0,424.4 L1414.0,423.9 L1415.0,423.6 L1416.0,423.3 L1417.0,423.1 L1418.0,423.0 L1419.0,422.9 L1420.0,423.0 L1421.0,423.1 L1422.0,423.3 L1423.0,423.6 L1424.0,424.0 L1425.0,424.4 L1426.0,425.0 L1427.0,425.6 L1428.0,426.3 L1429.0,427.0 L1430.0,427.9 L1431.0,428.7 L1432.0,429.7 L1433.0,430.7 L1434.0,431.8 L1435.0,432.9 L1436.0,434.0 L1437.0,435.2 L1438.0,436.5 L1439.0,437.7 L1440.0,439.0 L1441.0,440.3 L1442.0,441.7 L1443.0,443.0 L1444.0,444.4 L1445.0,445.7 L1446.0,447.1 L1447.0,448.4 L1448.0,449.7 L1449.0,451.0 L1450.0,452.3 L1451.0,453.5 L1452.0,454.8 L1453.0,455.9 L1454.0,457.1 L1455.0,458.1 L1456.0,459.2 L1457.0,460.1 L1458.0,461.0 L1459.0,461.9 L1460.0,462.7 L1461.0,463.4 L1462.0,464.0 L1463.0,464.6 L1464.0,465.0 L1465.0,465.4 L1466.0,465.8 L1467.0,466.0 L1468.0,466.1 L1469.0,466.2 L1470.0,466.2 L1471.0,466.1 L1472.0,465.9 L1473.0,465.6 L1474.0,465.3 L1475.0,464.8 L1476.0,464.3 L1477.0,463.7 L1478.0,463.1 L1479.0,462.3 L1480.0,461.5 L1481.0,460.6 L1482.0,459.7 L1483.0,458.7 L1484.0,457.6 L1485.0,456.5 L1486.0,455.4 L1487.0,454.2 L1488.0,452.9 L1489.0,451.6 L1490.0,450.3 L1491.0,449.0 L1492.0,447.7 L1493.0,446.3 L1494.0,444.9 L1495.0,443.6 L1496.0,442.2 L1497.0,440.9 L1498.0,439.5 L1499.0,438.2 L1500.0,436.9 L1501.0,435.6 L1502.0,434.3 L1503.0,433.1 L1504.0,432.0 L1505.0,430.8 L1506.0,429.8 L1507.0,428.8 L1508.0,427.8 L1509.0,426.9 L1510.0,426.1 L1511.0,425.3 L1512.0,424.6 L1513.0,424.0 L1514.0,423.5 L1515.0,423.0 L1516.0,422.6 L1517.0,422.3 L1518.0,422.1 L1519.0,422.0 L1520.0,421.9 L1521.0,421.9 L1522.0,422.0 L1523.0,422.2 L1524.0,422.5 L1525.0,422.9 L1526.0,423.3 L1527.0,423.8 L1528.0,424.4 L1529.0,425.0 L1530.0,425.7 L1531.0,426.5 L1532.0,427.4 L1533.0,428.3 L1534.0,429.2 L1535.0,430.2 L1536.0,431.3 L1537.0,432.4 L1538.0,433.5 L1539.0,434.7 L1540.0,435.9 L1541.0,437.1 L1542.0,438.3 L1543.0,439.5 L1544.0,440.8 L1545.0,442.0 L1546.0,443.3 L1547.0,444.5 L1548.0,445.7 L1549.0,447.0 L1550.0,448.1 L1551.0,449.3 L1552.0,450.4 L1553.0,451.5 L1554.0,452.5 L1555.0,453.5 L1556.0,454.5 L1557.0,455.3 L1558.0,456.2 L1559.0,456.9 L1560.0,457.6 L1561.0,458.3 L1562.0,458.8 L1563.0,459.3 L1564.0,459.7 L1565.0,460.0 L1566.0,460.3 L1567.0,460.5 L1568.0,460.5 L1569.0,460.5 L1570.0,460.5 L1571.0,460.3 L1572.0,460.1 L1573.0,459.7 L1574.0,459.3 L1575.0,458.9 L1576.0,458.3 L1577.0,457.7 L1578.0,457.0 L1579.0,456.2 L1580.0,455.4 L1581.0,454.5 L1582.0,453.5 L1583.0,452.5 L1584.0,451.4 L1585.0,450.3 L1586.0,449.1 L1587.0,447.9 L1588.0,446.7 L1589.0,445.4 L1590.0,444.1 L1591.0,442.8 L1592.0,441.4 L1593.0,440.1 L1594.0,438.7 L1595.0,437.4 L1596.0,436.0 L1597.0,434.7 L1598.0,433.4 L1599.0,432.1 L1600.0,430.8 L1601.0,429.6 L1602.0,428.4 L1603.0,427.2 L1604.0,426.1 L1605.0,425.0 L1606.0,424.0 L1607.0,423.1 L1608.0,422.2 L1609.0,421.3 L1610.0,420.6 L1611.0,419.9 L1612.0,419.3 L1613.0,418.7 L1614.0,418.3 L1615.0,417.9 L1616.0,417.6 L1617.0,417.3 L1618.0,417.2 L1619.0,417.2 L1620.0,417.2 L1621.0,417.3 L1622.0,417.5 L1623.0,417.8 L1624.0,418.2 L1625.0,418.6 L1626.0,419.1 L1627.0,419.7 L1628.0,420.4 L1629.0,421.2 L1630.0,422.0 L1631.0,422.9 L1632.0,423.8 L1633.0,424.8 L1634.0,425.9 L1635.0,427.0 L1636.0,428.2 L1637.0,429.4 L1638.0,430.6 L1639.0,431.9 L1640.0,433.2 L1641.0,434.5 L1642.0,435.9 L1643.0,437.2 L1644.0,438.6 L1645.0,439.9 L1646.0,441.3 L1647.0,442.6 L1648.0,444.0 L1649.0,445.3 L1650.0,446.6 L1651.0,447.8 L1652.0,449.1 L1653.0,450.2 L1654.0,451.4 L1655.0,452.5 L1656.0,453.5 L1657.0,454.5 L1658.0,455.4 L1659.0,456.3 L1660.0,457.1 L1661.0,457.8 L1662.0,458.5 L1663.0,459.1 L1664.0,459.6 L1665.0,460.0 L1666.0,460.3 L1667.0,460.6 L1668.0,460.8 L1669.0,460.9 L1670.0,460.9 L1671.0,460.8 L1672.0,460.7 L1673.0,460.4 L1674.0,460.1 L1675.0,459.7 L1676.0,459.2 L1677.0,458.7 L1678.0,458.1 L1679.0,457.4 L1680.0,456.6 L1681.0,455.8 L1682.0,454.9 L1683.0,453.9 L1684.0,452.9 L1685.0,451.9 L1686.0,450.8 L1687.0,449.6 L1688.0,448.5 L1689.0,447.2 L1690.0,446.0 L1691.0,444.7 L1692.0,443.5 L1693.0,442.2 L1694.0,440.9 L1695.0,439.6 L1696.0,438.3 L1697.0,437.0 L1698.0,435.7 L1699.0,434.5 L1700.0,433.3 L1701.0,432.1 L1702.0,430.9 L1703.0,429.8 L1704.0,428.7 L1705.0,427.7 L1706.0,426.7 L1707.0,425.8 L1708.0,424.9 L1709.0,424.1 L1710.0,423.4 L1711.0,422.7 L1712.0,422.1 L1713.0,421.6 L1714.0,421.2 L1715.0,420.8 L1716.0,420.5 L1717.0,420.3 L1718.0,420.2 L1719.0,420.2 L1720.0,420.2 L1721.0,420.4 L1722.0,420.6 L1723.0,420.9 L1724.0,421.2 L1725.0,421.7 L1726.0,422.2 L1727.0,422.8 L1728.0,423.5 L1729.0,424.3 L1730.0,425.1 L1731.0,426.0 L1732.0,426.9 L1733.0,427.9 L1734.0,429.0 L1735.0,430.1 L1736.0,431.2 L1737.0,432.4 L1738.0,433.7 L1739.0,434.9 L1740.0,436.2 L1741.0,437.5 L1742.0,438.9 L1743.0,440.2 L1744.0,441.5 L1745.0,442.9 L1746.0,444.2 L1747.0,445.6 L1748.0,446.9 L1749.0,448.2 L1750.0,449.4 L1751.0,450.7 L1752.0,451.9 L1753.0,453.0 L1754.0,454.2 L1755.0,455.2 L1756.0,456.3 L1757.0,457.2 L1758.0,458.1 L1759.0,459.0 L1760.0,459.8 L1761.0,460.5 L1762.0,461.1 L1763.0,461.7 L1764.0,462.1 L1765.0,462.6 L1766.0,462.9 L1767.0,463.1 L1768.0,463.3 L1769.0,463.4 L1770.0,463.4 L1771.0,463.3 L1772.0,463.1 L1773.0,462.8 L1774.0,462.5 L1775.0,462.1 L1776.0,461.6 L1777.0,461.0 L1778.0,460.4 L1779.0,459.7 L1780.0,458.9 L1781.0,458.1 L1782.0,457.2 L1783.0,456.2 L1784.0,455.2 L1785.0,454.2 L1786.0,453.1 L1787.0,451.9 L1788.0,450.7 L1789.0,449.5 L1790.0,448.3 L1791.0,447.0 L1792.0,445.8 L1793.0,444.5 L1794.0,443.2 L1795.0,441.9 L1796.0,440.6 L1797.0,439.3 L1798.0,438.1 L1799.0,436.8 L1800.0,435.6 L1801.0,434.4 L1802.0,433.3 L1803.0,432.2 L1804.0,431.1 L1805.0,430.1 L1806.0,429.2 L1807.0,428.3 L1808.0,427.4 L1809.0,426.6 L1810.0,425.9 L1811.0,425.3 L1812.0,424.7 L1813.0,424.2 L1814.0,423.8 L1815.0,423.5 L1816.0,423.2 L1817.0,423.0 L1818.0,422.9 L1819.0,422.9 L1820.0,423.0 L1821.0,423.2 L1822.0,423.4 L1823.0,423.7 L1824.0,424.1 L1825.0,424.6 L1826.0,425.2 L1827.0,425.8 L1828.0,426.5 L1829.0,427.3 L1830.0,428.1 L1831.0,429.0 L1832.0,430.0 L1833.0,431.0 L1834.0,432.1 L1834.4,432.5" stroke="#ff0000" stroke-width="8.1" transform="translate(0.3,0.3)"/>
<g stroke="#0f4d14" stroke-width="8.1">
<path d="M335.0,512.2 L336.0,511.0 L337.0,509.8 L338.0,508.7 L339.0,507.7 L340.0,506.8 L341.0,506.0 L342.0,505.5 L343.0,505.1 L344.0,505.0 L345.0,505.1 L346.0,505.6 L347.0,506.3 L348.0,507.2 L349.0,508.5 L350.0,510.0 L351.0,511.7 L352.0,513.8 L353.0,516.0 L354.0,518.5 L355.0,521.2 L356.0,524.2 L357.0,527.3 L358.0,530.6 L359.0,534.1 L360.0,537.8 L361.0,541.5 L362.0,545.5 L363.0,549.5 L364.0,553.6 L365.0,557.8 L366.0,562.1 L367.0,566.4 L367.9,570.2" stroke-dasharray="41.98 14.65 11.72 14.65"/>
<path d="M367.9,570.2 L368.9,574.6 L369.9,578.9 L370.9,583.2 L371.9,587.4 L372.9,591.6 L373.9,595.6 L374.9,599.6 L375.9,603.5 L376.9,607.2 L377.9,610.8 L378.9,614.2 L379.9,617.5 L380.9,620.5 L381.9,623.4 L382.9,626.0 L383.9,628.4 L384.9,630.6 L385.9,632.5 L386.9,634.2 L387.9,635.6 L388.9,636.7 L389.9,637.6 L390.9,638.1 L391.9,638.4 L392.9,638.5 L393.9,638.2 L394.9,637.7 L395.9,636.9 L396.9,635.7 L397.9,634.4 L398.9,632.7 L399.9,630.8 L400.5,629.5" stroke-dasharray="43.92 15.32 12.26 15.32"/>
<path d="M400.5,629.5 L401.5,627.2 L402.5,624.7 L403.5,621.9 L404.5,618.9 L405.5,615.7 L406.5,612.3 L407.5,608.7 L408.5,604.9 L409.5,601.0 L410.5,597.0 L411.5,592.8 L412.5,588.6 L413.5,584.3 L414.5,579.8 L415.5,575.4 L416.5,570.9 L417.5,566.4 L418.5,561.9 L419.5,557.5 L420.5,553.1 L421.5,548.7 L421.7,547.8" stroke-dasharray="42.75 14.91 11.93 14.91"/>
<path d="M421.7,547.8 L422.7,543.6 L423.7,539.4 L424.7,535.4 L425.7,531.5 L426.7,527.7 L427.7,524.1 L428.7,520.7 L429.7,517.4 L430.7,514.4 L431.7,511.6 L432.7,509.0 L433.7,506.7 L434.7,504.6 L435.7,502.8 L436.7,501.2 L437.7,499.9 L438.7,498.9 L439.7,498.1 L440.7,497.7 L441.7,497.5 L442.7,497.6 L443.7,497.9 L444.7,498.5 L445.7,499.3 L446.7,500.4 L447.7,501.6 L448.7,503.1 L449.7,504.8 L450.7,506.8 L451.7,508.9 L452.7,511.2 L453.7,513.7 L454.7,516.4 L455.7,519.3 L456.6,521.9" stroke-dasharray="43.23 15.08 12.06 15.08"/>
<path d="M456.6,521.9 L457.6,525.1 L458.6,528.3 L459.6,531.7 L460.6,535.1 L461.6,538.7 L462.6,542.3 L463.6,546.0 L464.6,549.7 L465.6,553.5 L466.6,557.3 L467.6,561.0 L468.6,564.8 L469.6,568.5 L470.6,572.1 L471.6,575.7 L472.6,579.3 L473.6,582.7 L474.6,586.0 L475.6,589.2 L476.6,592.3 L477.6,595.2 L478.6,598.0 L479.6,600.5 L480.6,603.0 L481.2,604.3" stroke-dasharray="43.52 15.18 12.15 15.18"/>
<path d="M481.2,604.3 L482.2,606.4 L483.2,608.3 L484.2,610.0 L485.2,611.5 L486.2,612.8 L487.2,613.8 L488.2,614.6 L489.2,615.1 L490.2,615.4 L491.2,615.5 L492.2,615.3 L493.2,615.0 L494.2,614.4 L495.2,613.5 L496.2,612.5 L497.2,611.2 L498.2,609.8 L499.2,608.1 L500.2,606.3 L501.2,604.2 L502.2,602.0 L503.2,599.5 L504.2,597.0 L505.2,594.2 L506.2,591.3 L507.2,588.3 L508.2,585.2 L509.2,581.9 L510.2,578.5 L511.2,575.1 L512.2,571.5 L513.2,567.9 L514.2,564.3 L515.2,560.6 L516.2,556.8 L517.2,553.1 L517.6,551.6" stroke-dasharray="43.81 15.28 12.23 15.28"/>
<path d="M517.6,551.6 L518.6,547.8 L519.6,544.1 L520.6,540.4 L521.6,536.8 L522.6,533.2 L523.6,529.7 L524.6,526.2 L525.6,522.9 L526.6,519.7 L527.6,516.6 L528.6,513.6 L529.6,510.7 L530.6,508.0 L531.6,505.5 L532.6,503.2 L533.6,501.0 L534.6,499.0 L535.6,497.2 L536.6,495.6 L537.6,494.2 L538.6,493.0 L539.6,492.0 L540.6,491.2 L541.6,490.7 L542.6,490.4 L543.6,490.3 L544.6,490.5 L545.6,490.9 L546.6,491.5 L547.6,492.5 L548.6,493.6 L549.6,495.0 L550.6,496.7 L551.6,498.6 L552.6,500.7 L553.6,503.0 L553.8,503.5" stroke-dasharray="43.43 15.15 12.12 15.15"/>
<path d="M553.8,503.5 L554.8,506.1 L555.8,508.8 L556.8,511.8 L557.8,514.9 L558.8,518.1 L559.8,521.6 L560.8,525.1 L561.8,528.8 L562.8,532.5 L563.8,536.4 L564.8,540.3 L565.8,544.2 L566.8,548.2 L567.8,552.2 L568.8,556.3 L569.8,560.3 L570.8,564.3 L571.8,568.2 L572.8,572.1 L573.8,575.9 L574.8,579.5 L575.8,583.1 L576.6,585.9" stroke-dasharray="43.29 15.10 12.08 15.10"/>
<path d="M576.6,585.9 L577.6,589.3 L578.6,592.5 L579.6,595.5 L580.6,598.4 L581.6,601.1 L582.6,603.6 L583.6,605.9 L584.6,607.9 L585.6,609.8 L586.6,611.4 L587.6,612.7 L588.6,613.8 L589.6,614.7 L590.6,615.3 L591.6,615.7 L592.6,615.8 L593.6,615.7 L594.6,615.3 L595.6,614.7 L596.6,613.8 L597.6,612.8 L598.6,611.5 L599.6,610.0 L600.6,608.3 L601.6,606.4 L602.6,604.3 L603.6,602.0 L604.6,599.5 L605.6,596.9 L606.6,594.1 L607.6,591.1 L608.6,588.0 L609.6,584.8 L610.6,581.5 L611.6,578.1 L612.6,574.6 L613.2,572.4" stroke-dasharray="42.85 14.95 11.96 14.95"/>
<path d="M613.2,572.4 L614.2,568.8 L615.2,565.2 L616.2,561.5 L617.2,557.8 L618.2,554.0 L619.2,550.3 L620.2,546.7 L621.2,543.0 L622.2,539.4 L623.2,535.9 L624.2,532.5 L625.2,529.1 L626.2,525.9 L627.2,522.8 L628.2,519.8 L629.2,517.0 L630.2,514.3 L631.2,511.8 L632.2,509.5 L633.2,507.3 L634.2,505.4 L635.2,503.6 L636.2,502.1 L637.2,500.7 L638.2,499.6 L639.2,498.8 L640.2,498.1 L641.2,497.7 L642.2,497.5 L643.2,497.6 L644.2,497.9 L645.2,498.5 L646.2,499.5 L646.8,500.1" stroke-dasharray="44.28 15.45 12.36 15.45"/>
<path d="M646.8,500.1 L647.8,501.5 L648.8,503.1 L649.8,505.0 L650.8,507.1 L651.8,509.5 L652.8,512.2 L653.8,515.0 L654.8,518.1 L655.8,521.4 L656.8,524.8 L657.8,528.5 L658.8,532.3 L659.8,536.2 L660.8,540.3 L661.8,544.5 L662.8,548.8 L663.8,553.1 L664.8,557.6 L665.8,562.0 L666.8,566.5 L667.8,571.0 L668.8,575.5 L669.8,580.0 L670.1,581.3" stroke-dasharray="42.90 14.96 11.97 14.96"/>
<path d="M670.1,581.3 L671.1,585.7 L672.1,590.0 L673.1,594.2 L674.1,598.4 L675.1,602.4 L676.1,606.2 L677.1,609.9 L678.1,613.5 L679.1,616.8 L680.1,620.0 L681.1,622.9 L682.1,625.6 L683.1,628.1 L684.1,630.4 L685.1,632.4 L686.1,634.1 L687.1,635.6 L688.1,636.7 L689.1,637.7 L690.1,638.3 L691.1,638.6 L692.1,638.7 L693.1,638.5 L694.1,638.0 L695.1,637.4 L696.1,636.4 L697.1,635.3 L698.1,633.8 L699.1,632.2 L700.1,630.3 L701.1,628.3 L702.1,626.0 L703.1,623.5 L703.9,621.4" stroke-dasharray="43.02 15.01 12.00 15.01"/>
<path d="M703.9,621.4 L704.9,618.5 L705.9,615.5 L706.9,612.4 L707.9,609.1 L708.9,605.6 L709.9,602.0 L710.9,598.3 L711.9,594.5 L712.9,590.7 L713.9,586.7 L714.9,582.7 L715.9,578.7 L716.9,574.6 L717.9,570.5 L718.9,566.4 L719.9,562.3 L720.9,558.3 L721.9,554.3 L722.9,550.4 L723.9,546.5 L724.9,542.7 L725.8,539.4" stroke-dasharray="42.91 14.97 11.97 14.97"/>
<path d="M725.8,539.4 L726.8,535.9 L727.8,532.5 L728.8,529.2 L729.8,526.0 L730.8,523.1 L731.8,520.3 L732.8,517.7 L733.8,515.3 L734.8,513.1 L735.8,511.1 L736.8,509.3 L737.8,507.8 L738.8,506.5 L739.8,505.4 L740.8,504.5 L741.8,503.9 L742.8,503.6 L743.8,503.5 L744.8,503.7 L745.8,504.1 L746.8,504.9 L747.8,505.9 L748.8,507.1 L749.8,508.7 L750.8,510.5 L751.8,512.6 L752.8,514.9 L753.8,517.4 L754.8,520.2 L755.8,523.2 L756.8,526.4 L757.8,529.7 L758.8,533.3 L759.8,537.0 L760.8,540.8 L761.3,542.8" stroke-dasharray="43.51 15.18 12.14 15.18"/>
<path d="M761.3,542.8 L762.3,546.8 L763.3,551.0 L764.3,555.2 L765.3,559.5 L766.3,563.8 L767.3,568.2 L768.3,572.5 L769.3,576.9 L770.3,581.2 L771.3,585.5 L772.3,589.8 L773.3,593.9 L774.3,598.0 L775.3,601.9 L776.3,605.8 L777.3,609.4 L778.3,612.9 L779.3,616.3 L780.3,619.4 L781.3,622.4 L782.3,625.1 L782.9,626.6" stroke-dasharray="43.81 15.28 12.23 15.28"/>
<path d="M782.9,626.6 L783.9,629.0 L784.9,631.1 L785.9,633.0 L786.9,634.6 L787.9,635.9 L788.9,637.0 L789.9,637.8 L790.9,638.3 L791.9,638.5 L792.9,638.4 L793.9,638.1 L794.9,637.5 L795.9,636.5 L796.9,635.4 L797.9,633.9 L798.9,632.2 L799.9,630.2 L800.9,627.9 L801.9,625.5 L802.9,622.7 L803.9,619.8 L804.9,616.6 L805.9,613.3 L806.9,609.8 L807.9,606.1 L808.9,602.2 L809.9,598.2 L810.9,594.1 L811.9,589.9 L812.9,585.6 L813.9,581.2 L814.9,576.7 L815.3,575.0" stroke-dasharray="43.02 15.01 12.01 15.01"/>
<path d="M815.3,575.0 L816.3,570.5 L817.3,566.0 L818.3,561.5 L819.3,557.0 L820.3,552.6 L821.3,548.3 L822.3,544.0 L823.3,539.8 L824.3,535.8 L825.3,531.8 L826.3,528.1 L827.3,524.4 L828.3,521.0 L829.3,517.8 L830.3,514.7 L831.3,511.9 L832.3,509.3 L833.3,506.9 L834.3,504.8 L835.3,502.9 L836.3,501.3 L837.3,500.0 L838.3,499.0 L839.3,498.2 L840.3,497.7 L841.3,497.5 L842.3,497.6 L843.3,497.9 L844.2,498.4" stroke-dasharray="43.71 15.25 12.20 15.25"/>
<path d="M844.2,498.4 L845.2,499.1 L846.2,500.1 L847.2,501.4 L848.2,502.8 L849.2,504.5 L850.2,506.4 L851.2,508.5 L852.2,510.7 L853.2,513.2 L854.2,515.9 L855.2,518.7 L856.2,521.6 L857.2,524.7 L858.2,528.0 L859.2,531.3 L860.2,534.8 L861.2,538.3 L862.2,542.0 L863.2,545.6 L864.2,549.4 L865.2,553.1 L866.2,556.9 L867.2,560.6 L868.2,564.4 L869.2,568.1 L870.2,571.8 L871.2,575.4 L871.9,577.9" stroke-dasharray="42.95 14.98 11.98 14.98"/>
<path d="M871.9,577.9 L872.9,581.3 L873.9,584.7 L874.9,587.9 L875.9,591.1 L876.9,594.0 L877.9,596.9 L878.9,599.5 L879.9,602.0 L880.9,604.3 L881.9,606.4 L882.9,608.3 L883.9,610.0 L884.9,611.5 L885.9,612.8 L886.9,613.8 L887.9,614.6 L888.9,615.1 L889.9,615.4 L890.9,615.5 L891.9,615.3 L892.9,615.0 L893.9,614.4 L894.9,613.5 L895.9,612.5 L896.9,611.2 L897.9,609.8 L898.9,608.1 L899.9,606.3 L900.9,604.2 L901.9,602.0 L902.9,599.5 L903.9,597.0 L904.9,594.2 L905.9,591.3 L906.9,588.3 L907.9,585.2 L908.9,581.9 L909.9,578.5 L910.1,577.8" stroke-dasharray="44.19 15.42 12.33 15.42"/>
<path d="M910.1,577.8 L911.1,574.4 L912.1,570.8 L913.1,567.2 L914.1,563.5 L915.1,559.8 L916.1,556.1 L917.1,552.3 L918.1,548.6 L919.1,544.9 L920.1,541.2 L921.1,537.5 L922.1,533.9 L923.1,530.4 L924.1,526.9 L925.1,523.6 L926.1,520.3 L927.1,517.2 L928.1,514.2 L929.1,511.3 L930.1,508.6 L931.1,506.0 L932.1,503.6 L933.1,501.4 L934.1,499.4 L935.1,497.5 L935.2,497.3" stroke-dasharray="42.74 14.91 11.93 14.91"/>
<path d="M935.2,497.3 L936.2,495.7 L937.2,494.3 L938.2,493.1 L939.2,492.1 L940.2,491.3 L941.2,490.7 L942.2,490.4 L943.2,490.3 L944.2,490.4 L945.2,490.8 L946.2,491.5 L947.2,492.4 L948.2,493.5 L949.2,494.9 L950.2,496.5 L951.2,498.4 L952.2,500.5 L953.2,502.8 L954.2,505.3 L955.2,508.0 L956.2,510.9 L957.2,513.9 L958.2,517.1 L959.2,520.5 L960.2,524.0 L961.2,527.6 L962.2,531.4 L963.2,535.2 L964.2,539.1 L965.2,543.0 L966.2,547.0 L967.2,551.0 L968.2,555.1 L969.2,559.1" stroke-dasharray="43.70 15.25 12.20 15.25"/>
<path d="M969.2,559.1 L970.2,563.1 L971.2,567.0 L972.2,570.9 L973.2,574.7 L974.2,578.5 L975.2,582.1 L976.2,585.6 L977.2,589.0 L978.2,592.2 L979.2,595.2 L980.2,598.1 L981.2,600.8 L982.2,603.3 L983.2,605.6 L984.2,607.7 L985.2,609.6 L986.2,611.2 L987.2,612.6 L988.2,613.7 L989.2,614.6 L990.2,615.3 L991.2,615.7 L992.2,615.8 L993.2,615.7 L994.2,615.3 L995.2,614.8 L996.2,613.9 L997.2,612.9 L998.2,611.6 L999.2,610.2 L1000.2,608.5 L1001.2,606.6 L1002.2,604.5 L1003.2,602.2 L1004.2,599.8 L1004.6,598.7" stroke-dasharray="42.94 14.98 11.98 14.98"/>
<path d="M1004.6,598.7 L1005.6,596.0 L1006.6,593.2 L1007.6,590.2 L1008.6,587.1 L1009.6,583.8 L1010.6,580.5 L1011.6,577.0 L1012.6,573.5 L1013.6,569.9 L1014.6,566.3 L1015.6,562.6 L1016.6,558.9 L1017.6,555.2 L1018.6,551.5 L1019.6,547.8 L1020.6,544.1 L1021.6,540.5 L1022.6,537.0 L1023.6,533.5 L1024.6,530.1 L1025.6,526.9 L1026.6,523.7 L1027.6,520.7 L1028.6,517.8" stroke-dasharray="42.71 14.90 11.92 14.90"/>
<path d="M1028.6,517.8 L1029.6,515.1 L1030.6,512.5 L1031.6,510.1 L1032.6,507.9 L1033.6,505.9 L1034.6,504.1 L1035.6,502.5 L1036.6,501.1 L1037.6,500.0 L1038.6,499.0 L1039.6,498.3 L1040.6,497.8 L1041.6,497.5 L1042.6,497.5 L1043.6,497.8 L1044.6,498.3 L1045.6,499.2 L1046.6,500.3 L1047.6,501.6 L1048.6,503.3 L1049.6,505.2 L1050.6,507.4 L1051.6,509.8 L1052.6,512.4 L1053.6,515.3 L1054.6,518.4 L1055.6,521.7 L1056.6,525.2 L1057.6,528.9 L1058.6,532.7 L1059.6,536.6 L1060.6,540.7 L1061.6,544.9 L1062.6,549.2 L1063.5,553.1" stroke-dasharray="43.83 15.29 12.23 15.29"/>
<path d="M1063.5,553.1 L1064.5,557.6 L1065.5,562.0 L1066.5,566.5 L1067.5,571.0 L1068.5,575.5 L1069.5,580.0 L1070.5,584.4 L1071.5,588.7 L1072.5,593.0 L1073.5,597.1 L1074.5,601.2 L1075.5,605.1 L1076.5,608.8 L1077.5,612.4 L1078.5,615.8 L1079.5,619.0 L1080.5,622.1 L1081.5,624.8 L1082.5,627.4 L1083.5,629.7 L1084.5,631.8 L1085.5,633.6 L1086.5,635.1 L1087.5,636.4" stroke-dasharray="44.05 15.37 12.29 15.37"/>
<path d="M1087.5,636.4 L1088.5,637.4 L1089.5,638.1 L1090.5,638.6 L1091.5,638.7 L1092.5,638.6 L1093.5,638.2 L1094.5,637.6 L1095.5,636.7 L1096.5,635.6 L1097.5,634.3 L1098.5,632.7 L1099.5,630.9 L1100.5,628.9 L1101.5,626.7 L1102.5,624.3 L1103.5,621.6 L1104.5,618.8 L1105.5,615.8 L1106.5,612.7 L1107.5,609.4 L1108.5,606.0 L1109.5,602.4 L1110.5,598.7 L1111.5,594.9 L1112.5,591.1 L1113.5,587.1 L1114.5,583.1 L1115.5,579.1 L1116.5,575.0 L1117.5,570.9 L1118.3,567.6" stroke-dasharray="41.76 14.57 11.65 14.57"/>
<path d="M1118.3,567.6 L1119.3,563.5 L1120.3,559.5 L1121.3,555.5 L1122.3,551.5 L1123.3,547.7 L1124.3,543.9 L1125.3,540.2 L1126.3,536.6 L1127.3,533.1 L1128.3,529.8 L1129.3,526.7 L1130.3,523.7 L1131.3,520.8 L1132.3,518.2 L1133.3,515.7 L1134.3,513.5 L1135.3,511.5 L1136.3,509.6 L1137.3,508.1 L1138.3,506.7 L1139.3,505.6 L1140.3,504.7 L1141.3,504.0 L1142.3,503.6 L1143.3,503.5 L1144.3,503.6 L1145.3,504.0 L1146.3,504.7 L1147.3,505.6 L1148.3,506.9 L1149.3,508.4 L1150.3,510.1 L1151.3,512.1 L1152.3,514.4 L1152.7,515.4" stroke-dasharray="43.71 15.25 12.20 15.25"/>
<path d="M1152.7,515.4 L1153.7,518.0 L1154.7,520.8 L1155.7,523.8 L1156.7,527.0 L1157.7,530.4 L1158.7,534.0 L1159.7,537.8 L1160.7,541.6 L1161.7,545.6 L1162.7,549.7 L1163.7,553.9 L1164.7,558.2 L1165.7,562.5 L1166.7,566.8 L1167.7,571.2 L1168.7,575.6 L1169.7,579.9 L1170.7,584.2 L1171.7,588.5 L1172.7,592.7 L1173.7,596.8 L1174.1,598.4" stroke-dasharray="43.39 15.14 12.11 15.14"/>
<path d="M1174.1,598.4 L1175.1,602.3 L1176.1,606.1 L1177.1,609.8 L1178.1,613.3 L1179.1,616.6 L1180.1,619.7 L1181.1,622.6 L1182.1,625.4 L1183.1,627.8 L1184.1,630.1 L1185.1,632.1 L1186.1,633.8 L1187.1,635.3 L1188.1,636.5 L1189.1,637.4 L1190.1,638.0 L1191.1,638.4 L1192.1,638.5 L1193.1,638.3 L1194.1,637.8 L1195.1,637.0 L1196.1,636.0 L1197.1,634.7 L1198.1,633.1 L1199.1,631.2 L1200.1,629.1 L1201.1,626.7 L1202.1,624.1 L1203.1,621.3 L1204.1,618.2 L1205.1,615.0 L1206.1,611.6 L1207.1,607.9 L1208.1,604.2 L1208.6,602.2" stroke-dasharray="43.78 15.27 12.22 15.27"/>
<path d="M1208.6,602.2 L1209.6,598.2 L1210.6,594.1 L1211.6,589.9 L1212.6,585.6 L1213.6,581.2 L1214.6,576.7 L1215.6,572.3 L1216.6,567.8 L1217.6,563.3 L1218.6,558.8 L1219.6,554.4 L1220.6,550.0 L1221.6,545.7 L1222.6,541.5 L1223.6,537.4 L1224.6,533.4 L1225.6,529.6 L1226.6,525.9 L1227.6,522.4 L1228.4,519.7" stroke-dasharray="42.94 14.98 11.98 14.98"/>
<path d="M1228.4,519.7 L1229.4,516.5 L1230.4,513.5 L1231.4,510.8 L1232.4,508.3 L1233.4,506.0 L1234.4,504.0 L1235.4,502.3 L1236.4,500.8 L1237.4,499.6 L1238.4,498.6 L1239.4,498.0 L1240.4,497.6 L1241.4,497.5 L1242.4,497.7 L1243.4,498.1 L1244.4,498.7 L1245.4,499.6 L1246.4,500.7 L1247.4,502.1 L1248.4,503.6 L1249.4,505.4 L1250.4,507.4 L1251.4,509.6 L1252.4,512.0 L1253.4,514.5 L1254.4,517.2 L1255.4,520.1 L1256.4,523.2 L1257.4,526.3 L1258.4,529.6 L1259.4,533.1 L1260.4,536.6 L1261.4,540.1 L1262.4,543.8 L1263.4,547.5 L1264.2,550.5" stroke-dasharray="43.53 15.19 12.15 15.19"/>
<path d="M1264.2,550.5 L1265.2,554.2 L1266.2,558.0 L1267.2,561.8 L1268.2,565.5 L1269.2,569.2 L1270.2,572.9 L1271.2,576.4 L1272.2,579.9 L1273.2,583.4 L1274.2,586.7 L1275.2,589.8 L1276.2,592.9 L1277.2,595.8 L1278.2,598.5 L1279.2,601.0 L1280.2,603.4 L1281.2,605.6 L1282.2,607.6 L1283.2,609.4 L1284.2,610.9 L1285.2,612.3 L1286.2,613.4 L1287.2,614.3 L1288.2,614.9 L1289.2,615.3 L1290.2,615.5 L1291.2,615.4 L1292.2,615.1 L1293.2,614.6 L1294.2,613.9 L1295.2,612.9 L1296.2,611.8 L1297.2,610.4 L1298.2,608.8 L1299.2,607.0 L1300.1,605.2" stroke-dasharray="43.82 15.29 12.23 15.29"/>
<path d="M1300.1,605.2 L1301.1,603.1 L1302.1,600.8 L1303.1,598.3 L1304.1,595.6 L1305.1,592.8 L1306.1,589.8 L1307.1,586.8 L1308.1,583.5 L1309.1,580.2 L1310.1,576.8 L1311.1,573.3 L1312.1,569.7 L1313.1,566.1 L1314.1,562.4 L1315.1,558.7 L1316.1,555.0 L1317.1,551.2 L1318.1,547.5 L1319.1,543.8 L1320.1,540.1 L1321.1,536.4 L1322.1,532.8 L1323.1,529.3 L1324.1,525.9 L1324.8,523.6" stroke-dasharray="43.21 15.07 12.06 15.07"/>
<path d="M1324.8,523.6 L1325.8,520.3 L1326.8,517.2 L1327.8,514.2 L1328.8,511.3 L1329.8,508.6 L1330.8,506.0 L1331.8,503.6 L1332.8,501.4 L1333.8,499.4 L1334.8,497.5 L1335.8,495.9 L1336.8,494.4 L1337.8,493.2 L1338.8,492.2 L1339.8,491.4 L1340.8,490.8 L1341.8,490.4 L1342.8,490.3 L1343.8,490.4 L1344.8,490.8 L1345.8,491.4 L1346.8,492.3 L1347.8,493.4 L1348.8,494.7 L1349.8,496.3 L1350.8,498.2 L1351.8,500.2 L1352.8,502.5 L1353.8,505.0 L1354.8,507.7 L1355.8,510.6 L1356.8,513.6 L1357.8,516.8 L1358.8,520.2 L1359.8,523.7 L1360.8,527.3 L1361.8,531.0" stroke-dasharray="43.30 15.10 12.08 15.10"/>
<path d="M1361.8,531.0 L1362.8,534.8 L1363.8,538.7 L1364.8,542.6 L1365.8,546.6 L1366.8,550.6 L1367.8,554.7 L1368.8,558.7 L1369.8,562.7 L1370.8,566.6 L1371.8,570.5 L1372.8,574.3 L1373.8,578.1 L1374.8,581.7 L1375.8,585.2 L1376.8,588.6 L1377.8,591.9 L1378.8,594.9 L1379.8,597.8 L1380.8,600.6 L1381.8,603.1 L1382.8,605.4 L1383.8,607.5 L1384.8,609.4 L1385.8,611.1 L1386.6,612.2" stroke-dasharray="43.10 15.03 12.03 15.03"/>
<path d="M1386.6,612.2 L1387.6,613.4 L1388.6,614.4 L1389.6,615.1 L1390.6,615.6 L1391.6,615.8 L1392.6,615.7 L1393.6,615.5 L1394.6,615.0 L1395.6,614.2 L1396.6,613.2 L1397.6,612.0 L1398.6,610.6 L1399.6,609.0 L1400.6,607.2 L1401.6,605.2 L1402.6,602.9 L1403.6,600.5 L1404.6,597.9 L1405.6,595.2 L1406.6,592.3 L1407.6,589.3 L1408.6,586.1 L1409.6,582.8 L1410.6,579.5 L1411.6,576.0 L1412.6,572.4 L1413.6,568.8 L1414.6,565.2 L1415.6,561.5 L1416.6,557.8 L1417.6,554.0 L1418.6,550.3 L1419.6,546.7 L1419.9,545.6" stroke-dasharray="42.53 14.84 11.87 14.84"/>
<path d="M1419.9,545.6 L1420.9,541.9 L1421.9,538.4 L1422.9,534.9 L1423.9,531.5 L1424.9,528.2 L1425.9,525.0 L1426.9,521.9 L1427.9,518.9 L1428.9,516.2 L1429.9,513.5 L1430.9,511.1 L1431.9,508.8 L1432.9,506.7 L1433.9,504.8 L1434.9,503.1 L1435.9,501.7 L1436.9,500.4 L1437.9,499.4 L1438.9,498.5 L1439.9,498.0 L1440.9,497.6 L1441.9,497.5 L1442.9,497.6 L1443.9,498.1 L1444.9,498.8 L1445.9,499.8 L1446.9,501.1 L1447.9,502.6 L1448.9,504.4 L1449.9,506.5 L1450.9,508.8 L1451.9,511.4 L1452.9,514.1 L1453.9,517.2 L1454.9,520.4 L1455.9,523.8 L1456.2,524.8" stroke-dasharray="43.75 15.26 12.21 15.26"/>
<path d="M1456.2,524.8 L1457.2,528.5 L1458.2,532.3 L1459.2,536.2 L1460.2,540.3 L1461.2,544.5 L1462.2,548.8 L1463.2,553.1 L1464.2,557.6 L1465.2,562.0 L1466.2,566.5 L1467.2,571.0 L1468.2,575.5 L1469.2,580.0 L1470.2,584.4 L1471.2,588.7 L1472.2,593.0 L1473.2,597.1 L1474.2,601.2 L1475.2,605.1 L1476.1,608.5" stroke-dasharray="43.49 15.17 12.14 15.17"/>
<path d="M1476.1,608.5 L1477.1,612.1 L1478.1,615.5 L1479.1,618.7 L1480.1,621.8 L1481.1,624.6 L1482.1,627.2 L1483.1,629.5 L1484.1,631.6 L1485.1,633.4 L1486.1,635.0 L1487.1,636.3 L1488.1,637.3 L1489.1,638.1 L1490.1,638.5 L1491.1,638.7 L1492.1,638.6 L1493.1,638.3 L1494.1,637.7 L1495.1,636.8 L1496.1,635.7 L1497.1,634.4 L1498.1,632.9 L1499.1,631.1 L1500.1,629.1 L1501.1,626.9 L1502.1,624.5 L1503.1,621.9 L1504.1,619.1 L1505.1,616.2 L1506.1,613.0 L1507.1,609.7 L1508.1,606.3 L1509.1,602.8 L1510.1,599.1 L1511.1,595.3 L1511.2,594.9" stroke-dasharray="42.84 14.94 11.95 14.94"/>
<path d="M1511.2,594.9 L1512.2,591.1 L1513.2,587.1 L1514.2,583.1 L1515.2,579.1 L1516.2,575.0 L1517.2,570.9 L1518.2,566.8 L1519.2,562.7 L1520.2,558.7 L1521.2,554.7 L1522.2,550.8 L1523.2,546.9 L1524.2,543.1 L1525.2,539.4 L1526.2,535.9 L1527.2,532.5 L1528.2,529.2 L1529.2,526.0 L1530.2,523.1 L1531.2,520.3 L1532.2,517.7 L1533.2,515.3 L1534.2,513.1 L1534.6,512.3" stroke-dasharray="43.52 15.18 12.15 15.18"/>
<path d="M1534.6,512.3 L1535.6,510.3 L1536.6,508.7 L1537.6,507.2 L1538.6,506.0 L1539.6,505.0 L1540.6,504.3 L1541.6,503.8 L1542.6,503.5 L1543.6,503.5 L1544.6,503.8 L1545.6,504.4 L1546.6,505.2 L1547.6,506.3 L1548.6,507.7 L1549.6,509.4 L1550.6,511.3 L1551.6,513.5 L1552.6,515.9 L1553.6,518.5 L1554.6,521.4 L1555.6,524.4 L1556.6,527.7 L1557.6,531.1 L1558.6,534.8 L1559.6,538.5 L1560.6,542.4 L1561.6,546.4 L1562.6,550.6 L1563.6,554.8 L1564.6,559.0 L1565.6,563.4 L1566.6,567.7 L1567.3,570.8" stroke-dasharray="43.47 15.16 12.13 15.16"/>
<path d="M1567.3,570.8 L1568.3,575.2 L1569.3,579.5 L1570.3,583.8 L1571.3,588.1 L1572.3,592.3 L1573.3,596.4 L1574.3,600.4 L1575.3,604.2 L1576.3,608.0 L1577.3,611.6 L1578.3,615.0 L1579.3,618.2 L1580.3,621.2 L1581.3,624.0 L1582.3,626.6 L1583.3,629.0 L1584.3,631.1 L1585.3,633.0 L1586.3,634.6 L1587.3,635.9 L1588.3,637.0 L1589.3,637.8 L1590.3,638.3 L1591.3,638.5 L1592.3,638.4 L1593.3,638.1 L1594.3,637.5 L1595.3,636.5 L1596.3,635.4 L1597.3,633.9 L1598.3,632.2 L1599.3,630.2 L1599.5,629.8" stroke-dasharray="43.48 15.17 12.14 15.17"/>
<path d="M1599.5,629.8 L1600.5,627.5 L1601.5,624.9 L1602.5,622.2 L1603.5,619.2 L1604.5,616.0 L1605.5,612.6 L1606.5,609.0 L1607.5,605.3 L1608.5,601.4 L1609.5,597.4 L1610.5,593.3 L1611.5,589.0 L1612.5,584.7 L1613.5,580.3 L1614.5,575.8 L1615.5,571.4 L1616.5,566.9 L1617.5,562.4 L1618.5,557.9 L1619.5,553.5 L1620.5,549.1 L1621.0,547.0" stroke-dasharray="43.31 15.11 12.09 15.11"/>
<path d="M1621.0,547.0 L1622.0,542.7 L1623.0,538.6 L1624.0,534.6 L1625.0,530.7 L1626.0,527.0 L1627.0,523.4 L1628.0,520.0 L1629.0,516.8 L1630.0,513.8 L1631.0,511.1 L1632.0,508.5 L1633.0,506.2 L1634.0,504.2 L1635.0,502.4 L1636.0,500.9 L1637.0,499.7 L1638.0,498.7 L1639.0,498.0 L1640.0,497.6 L1641.0,497.5 L1642.0,497.6 L1643.0,498.0 L1644.0,498.7 L1645.0,499.5 L1646.0,500.6 L1647.0,501.9 L1648.0,503.5 L1649.0,505.2 L1650.0,507.2 L1651.0,509.4 L1652.0,511.7 L1653.0,514.3 L1654.0,517.0 L1655.0,519.8 L1655.9,522.6" stroke-dasharray="43.11 15.04 12.03 15.04"/>
<path d="M1655.9,522.6 L1656.9,525.7 L1657.9,529.0 L1658.9,532.4 L1659.9,535.8 L1660.9,539.4 L1661.9,543.1 L1662.9,546.7 L1663.9,550.5 L1664.9,554.2 L1665.9,558.0 L1666.9,561.8 L1667.9,565.5 L1668.9,569.2 L1669.9,572.9 L1670.9,576.4 L1671.9,579.9 L1672.9,583.4 L1673.9,586.7 L1674.9,589.8 L1675.9,592.9 L1676.9,595.8 L1677.9,598.5 L1678.9,601.0 L1679.9,603.4 L1680.3,604.3" stroke-dasharray="43.19 15.07 12.05 15.07"/>
<path d="M1680.3,604.3 L1681.3,606.4 L1682.3,608.3 L1683.3,610.0 L1684.3,611.5 L1685.3,612.8 L1686.3,613.8 L1687.3,614.6 L1688.3,615.1 L1689.3,615.4 L1690.3,615.5 L1691.3,615.3 L1692.3,615.0 L1693.3,614.4 L1694.3,613.5 L1695.3,612.5 L1696.3,611.2 L1697.3,609.8 L1698.3,608.1 L1699.3,606.3 L1700.3,604.2 L1701.3,602.0 L1702.3,599.5 L1703.3,597.0 L1704.3,594.2 L1705.3,591.3 L1706.3,588.3 L1707.3,585.2 L1708.3,581.9 L1709.3,578.5 L1710.3,575.1 L1711.3,571.5 L1712.3,567.9 L1713.3,564.3 L1714.3,560.6 L1715.3,556.8 L1716.3,553.1 L1717.0,550.5" stroke-dasharray="44.40 15.49 12.39 15.49"/>
<path d="M1717.0,550.5 L1718.0,546.7 L1719.0,543.0 L1720.0,539.3 L1721.0,535.7 L1722.0,532.1 L1723.0,528.6 L1724.0,525.2 L1725.0,521.9 L1726.0,518.7 L1727.0,515.7 L1728.0,512.7 L1729.0,509.9 L1730.0,507.3 L1731.0,504.8 L1732.0,502.5 L1733.0,500.3 L1734.0,498.4 L1735.0,496.7 L1736.0,495.1 L1737.0,493.8 L1738.0,492.7 L1739.0,491.7 L1740.0,491.1 L1741.0,490.6 L1742.0,490.3 L1743.0,490.3 L1744.0,490.6 L1745.0,491.0 L1746.0,491.8 L1747.0,492.8 L1748.0,494.0 L1749.0,495.5 L1750.0,497.2 L1751.0,499.2 L1752.0,501.4 L1753.0,503.7 L1753.1,504.0" stroke-dasharray="43.11 15.04 12.03 15.04"/>
<path d="M1753.1,504.0 L1754.1,506.6 L1755.1,509.4 L1756.1,512.4 L1757.1,515.5 L1758.1,518.8 L1759.1,522.3 L1760.1,525.8 L1761.1,529.5 L1762.1,533.3 L1763.1,537.1 L1764.1,541.1 L1765.1,545.0 L1766.1,549.0 L1767.1,553.1 L1768.1,557.1 L1769.1,561.1 L1770.1,565.0 L1771.1,569.0 L1772.1,572.8 L1773.1,576.6 L1774.1,580.3 L1775.1,583.8 L1775.9,586.6" stroke-dasharray="43.38 15.13 12.11 15.13"/>
<path d="M1775.9,586.6 L1776.9,589.9 L1777.9,593.1 L1778.9,596.1 L1779.9,599.0 L1780.9,601.6 L1781.9,604.1 L1782.9,606.3 L1783.9,608.3 L1784.9,610.1 L1785.9,611.7 L1786.9,613.0 L1787.9,614.0 L1788.9,614.9 L1789.9,615.4 L1790.9,615.7 L1791.9,615.8 L1792.9,615.6 L1793.9,615.2 L1794.9,614.5 L1795.9,613.7 L1796.9,612.6 L1797.9,611.2 L1798.9,609.7 L1799.9,607.9 L1800.9,606.0 L1801.9,603.8 L1802.9,601.5 L1803.9,599.0 L1804.9,596.3 L1805.9,593.5 L1806.9,590.5 L1807.9,587.4 L1808.9,584.2 L1809.9,580.8 L1810.9,577.4 L1811.9,573.9 L1812.3,572.4" stroke-dasharray="42.49 14.82 11.86 14.82"/>
<path d="M1812.3,572.4 L1813.3,568.8 L1814.3,565.2 L1815.3,561.5 L1816.3,557.8 L1817.3,554.0 L1818.3,550.3 L1819.3,546.7 L1820.3,543.0 L1821.3,539.4 L1822.3,535.9 L1823.3,532.5 L1824.3,529.1 L1825.3,525.9 L1826.3,522.8 L1827.3,519.8 L1828.3,517.0 L1829.3,514.3 L1830.3,511.8 L1831.3,509.5 L1832.3,507.3 L1833.3,505.4 L1834.3,503.6 L1834.4,503.5" stroke-dasharray="43.00 15.00 12.00 15.00"/>
</g>
<g stroke="#0f4d14" stroke-width="8.1" transform="translate(0.3,0.3)">
<path d="M335.0,512.2 L336.0,511.0 L337.0,509.8 L338.0,508.7 L339.0,507.7 L340.0,506.8 L341.0,506.0 L342.0,505.5 L343.0,505.1 L344.0,505.0 L345.0,505.1 L346.0,505.6 L347.0,506.3 L348.0,507.2 L349.0,508.5 L350.0,510.0 L351.0,511.7 L352.0,513.8 L353.0,516.0 L354.0,518.5 L355.0,521.2 L356.0,524.2 L357.0,527.3 L358.0,530.6 L359.0,534.1 L360.0,537.8 L361.0,541.5 L362.0,545.5 L363.0,549.5 L364.0,553.6 L365.0,557.8 L366.0,562.1 L367.0,566.4 L367.9,570.2" stroke-dasharray="41.98 14.65 11.72 14.65"/>
<path d="M367.9,570.2 L368.9,574.6 L369.9,578.9 L370.9,583.2 L371.9,587.4 L372.9,591.6 L373.9,595.6 L374.9,599.6 L375.9,603.5 L376.9,607.2 L377.9,610.8 L378.9,614.2 L379.9,617.5 L380.9,620.5 L381.9,623.4 L382.9,626.0 L383.9,628.4 L384.9,630.6 L385.9,632.5 L386.9,634.2 L387.9,635.6 L388.9,636.7 L389.9,637.6 L390.9,638.1 L391.9,638.4 L392.9,638.5 L393.9,638.2 L394.9,637.7 L395.9,636.9 L396.9,635.7 L397.9,634.4 L398.9,632.7 L399.9,630.8 L400.5,629.5" stroke-dasharray="43.92 15.32 12.26 15.32"/>
<path d="M400.5,629.5 L401.5,627.2 L402.5,624.7 L403.5,621.9 L404.5,618.9 L405.5,615.7 L406.5,612.3 L407.5,608.7 L408.5,604.9 L409.5,601.0 L410.5,597.0 L411.5,592.8 L412.5,588.6 L413.5,584.3 L414.5,579.8 L415.5,575.4 L416.5,570.9 L417.5,566.4 L418.5,561.9 L419.5,557.5 L420.5,553.1 L421.5,548.7 L421.7,547.8" stroke-dasharray="42.75 14.91 11.93 14.91"/>
<path d="M421.7,547.8 L422.7,543.6 L423.7,539.4 L424.7,535.4 L425.7,531.5 L426.7,527.7 L427.7,524.1 L428.7,520.7 L429.7,517.4 L430.7,514.4 L431.7,511.6 L432.7,509.0 L433.7,506.7 L434.7,504.6 L435.7,502.8 L436.7,501.2 L437.7,499.9 L438.7,498.9 L439.7,498.1 L440.7,497.7 L441.7,497.5 L442.7,497.6 L443.7,497.9 L444.7,498.5 L445.7,499.3 L446.7,500.4 L447.7,501.6 L448.7,503.1 L449.7,504.8 L450.7,506.8 L451.7,508.9 L452.7,511.2 L453.7,513.7 L454.7,516.4 L455.7,519.3 L456.6,521.9" stroke-dasharray="43.23 15.08 12.06 15.08"/>
<path d="M456.6,521.9 L457.6,525.1 L458.6,528.3 L459.6,531.7 L460.6,535.1 L461.6,538.7 L462.6,542.3 L463.6,546.0 L464.6,549.7 L465.6,553.5 L466.6,557.3 L467.6,561.0 L468.6,564.8 L469.6,568.5 L470.6,572.1 L471.6,575.7 L472.6,579.3 L473.6,582.7 L474.6,586.0 L475.6,589.2 L476.6,592.3 L477.6,595.2 L478.6,598.0 L479.6,600.5 L480.6,603.0 L481.2,604.3" stroke-dasharray="43.52 15.18 12.15 15.18"/>
<path d="M481.2,604.3 L482.2,606.4 L483.2,608.3 L484.2,610.0 L485.2,611.5 L486.2,612.8 L487.2,613.8 L488.2,614.6 L489.2,615.1 L490.2,615.4 L491.2,615.5 L492.2,615.3 L493.2,615.0 L494.2,614.4 L495.2,613.5 L496.2,612.5 L497.2,611.2 L498.2,609.8 L499.2,608.1 L500.2,606.3 L501.2,604.2 L502.2,602.0 L503.2,599.5 L504.2,597.0 L505.2,594.2 L506.2,591.3 L507.2,588.3 L508.2,585.2 L509.2,581.9 L510.2,578.5 L511.2,575.1 L512.2,571.5 L513.2,567.9 L514.2,564.3 L515.2,560.6 L516.2,556.8 L517.2,553.1 L517.6,551.6" stroke-dasharray="43.81 15.28 12.23 15.28"/>
<path d="M517.6,551.6 L518.6,547.8 L519.6,544.1 L520.6,540.4 L521.6,536.8 L522.6,533.2 L523.6,529.7 L524.6,526.2 L525.6,522.9 L526.6,519.7 L527.6,516.6 L528.6,513.6 L529.6,510.7 L530.6,508.0 L531.6,505.5 L532.6,503.2 L533.6,501.0 L534.6,499.0 L535.6,497.2 L536.6,495.6 L537.6,494.2 L538.6,493.0 L539.6,492.0 L540.6,491.2 L541.6,490.7 L542.6,490.4 L543.6,490.3 L544.6,490.5 L545.6,490.9 L546.6,491.5 L547.6,492.5 L548.6,493.6 L549.6,495.0 L550.6,496.7 L551.6,498.6 L552.6,500.7 L553.6,503.0 L553.8,503.5" stroke-dasharray="43.43 15.15 12.12 15.15"/>
<path d="M553.8,503.5 L554.8,506.1 L555.8,508.8 L556.8,511.8 L557.8,514.9 L558.8,518.1 L559.8,521.6 L560.8,525.1 L561.8,528.8 L562.8,532.5 L563.8,536.4 L564.8,540.3 L565.8,544.2 L566.8,548.2 L567.8,552.2 L568.8,556.3 L569.8,560.3 L570.8,564.3 L571.8,568.2 L572.8,572.1 L573.8,575.9 L574.8,579.5 L575.8,583.1 L576.6,585.9" stroke-dasharray="43.29 15.10 12.08 15.10"/>
<path d="M576.6,585.9 L577.6,589.3 L578.6,592.5 L579.6,595.5 L580.6,598.4 L581.6,601.1 L582.6,603.6 L583.6,605.9 L584.6,607.9 L585.6,609.8 L586.6,611.4 L587.6,612.7 L588.6,613.8 L589.6,614.7 L590.6,615.3 L591.6,615.7 L592.6,615.8 L593.6,615.7 L594.6,615.3 L595.6,614.7 L596.6,613.8 L597.6,612.8 L598.6,611.5 L599.6,610.0 L600.6,608.3 L601.6,606.4 L602.6,604.3 L603.6,602.0 L604.6,599.5 L605.6,596.9 L606.6,594.1 L607.6,591.1 L608.6,588.0 L609.6,584.8 L610.6,581.5 L611.6,578.1 L612.6,574.6 L613.2,572.4" stroke-dasharray="42.85 14.95 11.96 14.95"/>
<path d="M613.2,572.4 L614.2,568.8 L615.2,565.2 L616.2,561.5 L617.2,557.8 L618.2,554.0 L619.2,550.3 L620.2,546.7 L621.2,543.0 L622.2,539.4 L623.2,535.9 L624.2,532.5 L625.2,529.1 L626.2,525.9 L627.2,522.8 L628.2,519.8 L629.2,517.0 L630.2,514.3 L631.2,511.8 L632.2,509.5 L633.2,507.3 L634.2,505.4 L635.2,503.6 L636.2,502.1 L637.2,500.7 L638.2,499.6 L639.2,498.8 L640.2,498.1 L641.2,497.7 L642.2,497.5 L643.2,497.6 L644.2,497.9 L645.2,498.5 L646.2,499.5 L646.8,500.1" stroke-dasharray="44.28 15.45 12.36 15.45"/>
<path d="M646.8,500.1 L647.8,501.5 L648.8,503.1 L649.8,505.0 L650.8,507.1 L651.8,509.5 L652.8,512.2 L653.8,515.0 L654.8,518.1 L655.8,521.4 L656.8,524.8 L657.8,528.5 L658.8,532.3 L659.8,536.2 L660.8,540.3 L661.8,544.5 L662.8,548.8 L663.8,553.1 L664.8,557.6 L665.8,562.0 L666.8,566.5 L667.8,571.0 L668.8,575.5 L669.8,580.0 L670.1,581.3" stroke-dasharray="42.90 14.96 11.97 14.96"/>
<path d="M670.1,581.3 L671.1,585.7 L672.1,590.0 L673.1,594.2 L674.1,598.4 L675.1,602.4 L676.1,606.2 L677.1,609.9 L678.1,613.5 L679.1,616.8 L680.1,620.0 L681.1,622.9 L682.1,625.6 L683.1,628.1 L684.1,630.4 L685.1,632.4 L686.1,634.1 L687.1,635.6 L688.1,636.7 L689.1,637.7 L690.1,638.3 L691.1,638.6 L692.1,638.7 L693.1,638.5 L694.1,638.0 L695.1,637.4 L696.1,636.4 L697.1,635.3 L698.1,633.8 L699.1,632.2 L700.1,630.3 L701.1,628.3 L702.1,626.0 L703.1,623.5 L703.9,621.4" stroke-dasharray="43.02 15.01 12.00 15.01"/>
<path d="M703.9,621.4 L704.9,618.5 L705.9,615.5 L706.9,612.4 L707.9,609.1 L708.9,605.6 L709.9,602.0 L710.9,598.3 L711.9,594.5 L712.9,590.7 L713.9,586.7 L714.9,582.7 L715.9,578.7 L716.9,574.6 L717.9,570.5 L718.9,566.4 L719.9,562.3 L720.9,558.3 L721.9,554.3 L722.9,550.4 L723.9,546.5 L724.9,542.7 L725.8,539.4" stroke-dasharray="42.91 14.97 11.97 14.97"/>
<path d="M725.8,539.4 L726.8,535.9 L727.8,532.5 L728.8,529.2 L729.8,526.0 L730.8,523.1 L731.8,520.3 L732.8,517.7 L733.8,515.3 L734.8,513.1 L735.8,511.1 L736.8,509.3 L737.8,507.8 L738.8,506.5 L739.8,505.4 L740.8,504.5 L741.8,503.9 L742.8,503.6 L743.8,503.5 L744.8,503.7 L745.8,504.1 L746.8,504.9 L747.8,505.9 L748.8,507.1 L749.8,508.7 L750.8,510.5 L751.8,512.6 L752.8,514.9 L753.8,517.4 L754.8,520.2 L755.8,523.2 L756.8,526.4 L757.8,529.7 L758.8,533.3 L759.8,537.0 L760.8,540.8 L761.3,542.8" stroke-dasharray="43.51 15.18 12.14 15.18"/>
<path d="M761.3,542.8 L762.3,546.8 L763.3,551.0 L764.3,555.2 L765.3,559.5 L766.3,563.8 L767.3,568.2 L768.3,572.5 L769.3,576.9 L770.3,581.2 L771.3,585.5 L772.3,589.8 L773.3,593.9 L774.3,598.0 L775.3,601.9 L776.3,605.8 L777.3,609.4 L778.3,612.9 L779.3,616.3 L780.3,619.4 L781.3,622.4 L782.3,625.1 L782.9,626.6" stroke-dasharray="43.81 15.28 12.23 15.28"/>
<path d="M782.9,626.6 L783.9,629.0 L784.9,631.1 L785.9,633.0 L786.9,634.6 L787.9,635.9 L788.9,637.0 L789.9,637.8 L790.9,638.3 L791.9,638.5 L792.9,638.4 L793.9,638.1 L794.9,637.5 L795.9,636.5 L796.9,635.4 L797.9,633.9 L798.9,632.2 L799.9,630.2 L800.9,627.9 L801.9,625.5 L802.9,622.7 L803.9,619.8 L804.9,616.6 L805.9,613.3 L806.9,609.8 L807.9,606.1 L808.9,602.2 L809.9,598.2 L810.9,594.1 L811.9,589.9 L812.9,585.6 L813.9,581.2 L814.9,576.7 L815.3,575.0" stroke-dasharray="43.02 15.01 12.01 15.01"/>
<path d="M815.3,575.0 L816.3,570.5 L817.3,566.0 L818.3,561.5 L819.3,557.0 L820.3,552.6 L821.3,548.3 L822.3,544.0 L823.3,539.8 L824.3,535.8 L825.3,531.8 L826.3,528.1 L827.3,524.4 L828.3,521.0 L829.3,517.8 L830.3,514.7 L831.3,511.9 L832.3,509.3 L833.3,506.9 L834.3,504.8 L835.3,502.9 L836.3,501.3 L837.3,500.0 L838.3,499.0 L839.3,498.2 L840.3,497.7 L841.3,497.5 L842.3,497.6 L843.3,497.9 L844.2,498.4" stroke-dasharray="43.71 15.25 12.20 15.25"/>
<path d="M844.2,498.4 L845.2,499.1 L846.2,500.1 L847.2,501.4 L848.2,502.8 L849.2,504.5 L850.2,506.4 L851.2,508.5 L852.2,510.7 L853.2,513.2 L854.2,515.9 L855.2,518.7 L856.2,521.6 L857.2,524.7 L858.2,528.0 L859.2,531.3 L860.2,534.8 L861.2,538.3 L862.2,542.0 L863.2,545.6 L864.2,549.4 L865.2,553.1 L866.2,556.9 L867.2,560.6 L868.2,564.4 L869.2,568.1 L870.2,571.8 L871.2,575.4 L871.9,577.9" stroke-dasharray="42.95 14.98 11.98 14.98"/>
<path d="M871.9,577.9 L872.9,581.3 L873.9,584.7 L874.9,587.9 L875.9,591.1 L876.9,594.0 L877.9,596.9 L878.9,599.5 L879.9,602.0 L880.9,604.3 L881.9,606.4 L882.9,608.3 L883.9,610.0 L884.9,611.5 L885.9,612.8 L886.9,613.8 L887.9,614.6 L888.9,615.1 L889.9,615.4 L890.9,615.5 L891.9,615.3 L892.9,615.0 L893.9,614.4 L894.9,613.5 L895.9,612.5 L896.9,611.2 L897.9,609.8 L898.9,608.1 L899.9,606.3 L900.9,604.2 L901.9,602.0 L902.9,599.5 L903.9,597.0 L904.9,594.2 L905.9,591.3 L906.9,588.3 L907.9,585.2 L908.9,581.9 L909.9,578.5 L910.1,577.8" stroke-dasharray="44.19 15.42 12.33 15.42"/>
<path d="M910.1,577.8 L911.1,574.4 L912.1,570.8 L913.1,567.2 L914.1,563.5 L915.1,559.8 L916.1,556.1 L917.1,552.3 L918.1,548.6 L919.1,544.9 L920.1,541.2 L921.1,537.5 L922.1,533.9 L923.1,530.4 L924.1,526.9 L925.1,523.6 L926.1,520.3 L927.1,517.2 L928.1,514.2 L929.1,511.3 L930.1,508.6 L931.1,506.0 L932.1,503.6 L933.1,501.4 L934.1,499.4 L935.1,497.5 L935.2,497.3" stroke-dasharray="42.74 14.91 11.93 14.91"/>
<path d="M935.2,497.3 L936.2,495.7 L937.2,494.3 L938.2,493.1 L939.2,492.1 L940.2,491.3 L941.2,490.7 L942.2,490.4 L943.2,490.3 L944.2,490.4 L945.2,490.8 L946.2,491.5 L947.2,492.4 L948.2,493.5 L949.2,494.9 L950.2,496.5 L951.2,498.4 L952.2,500.5 L953.2,502.8 L954.2,505.3 L955.2,508.0 L956.2,510.9 L957.2,513.9 L958.2,517.1 L959.2,520.5 L960.2,524.0 L961.2,527.6 L962.2,531.4 L963.2,535.2 L964.2,539.1 L965.2,543.0 L966.2,547.0 L967.2,551.0 L968.2,555.1 L969.2,559.1" stroke-dasharray="43.70 15.25 12.20 15.25"/>
<path d="M969.2,559.1 L970.2,563.1 L971.2,567.0 L972.2,570.9 L973.2,574.7 L974.2,578.5 L975.2,582.1 L976.2,585.6 L977.2,589.0 L978.2,592.2 L979.2,595.2 L980.2,598.1 L981.2,600.8 L982.2,603.3 L983.2,605.6 L984.2,607.7 L985.2,609.6 L986.2,611.2 L987.2,612.6 L988.2,613.7 L989.2,614.6 L990.2,615.3 L991.2,615.7 L992.2,615.8 L993.2,615.7 L994.2,615.3 L995.2,614.8 L996.2,613.9 L997.2,612.9 L998.2,611.6 L999.2,610.2 L1000.2,608.5 L1001.2,606.6 L1002.2,604.5 L1003.2,602.2 L1004.2,599.8 L1004.6,598.7" stroke-dasharray="42.94 14.98 11.98 14.98"/>
<path d="M1004.6,598.7 L1005.6,596.0 L1006.6,593.2 L1007.6,590.2 L1008.6,587.1 L1009.6,583.8 L1010.6,580.5 L1011.6,577.0 L1012.6,573.5 L1013.6,569.9 L1014.6,566.3 L1015.6,562.6 L1016.6,558.9 L1017.6,555.2 L1018.6,551.5 L1019.6,547.8 L1020.6,544.1 L1021.6,540.5 L1022.6,537.0 L1023.6,533.5 L1024.6,530.1 L1025.6,526.9 L1026.6,523.7 L1027.6,520.7 L1028.6,517.8" stroke-dasharray="42.71 14.90 11.92 14.90"/>
<path d="M1028.6,517.8 L1029.6,515.1 L1030.6,512.5 L1031.6,510.1 L1032.6,507.9 L1033.6,505.9 L1034.6,504.1 L1035.6,502.5 L1036.6,501.1 L1037.6,500.0 L1038.6,499.0 L1039.6,498.3 L1040.6,497.8 L1041.6,497.5 L1042.6,497.5 L1043.6,497.8 L1044.6,498.3 L1045.6,499.2 L1046.6,500.3 L1047.6,501.6 L1048.6,503.3 L1049.6,505.2 L1050.6,507.4 L1051.6,509.8 L1052.6,512.4 L1053.6,515.3 L1054.6,518.4 L1055.6,521.7 L1056.6,525.2 L1057.6,528.9 L1058.6,532.7 L1059.6,536.6 L1060.6,540.7 L1061.6,544.9 L1062.6,549.2 L1063.5,553.1" stroke-dasharray="43.83 15.29 12.23 15.29"/>
<path d="M1063.5,553.1 L1064.5,557.6 L1065.5,562.0 L1066.5,566.5 L1067.5,571.0 L1068.5,575.5 L1069.5,580.0 L1070.5,584.4 L1071.5,588.7 L1072.5,593.0 L1073.5,597.1 L1074.5,601.2 L1075.5,605.1 L1076.5,608.8 L1077.5,612.4 L1078.5,615.8 L1079.5,619.0 L1080.5,622.1 L1081.5,624.8 L1082.5,627.4 L1083.5,629.7 L1084.5,631.8 L1085.5,633.6 L1086.5,635.1 L1087.5,636.4" stroke-dasharray="44.05 15.37 12.29 15.37"/>
<path d="M1087.5,636.4 L1088.5,637.4 L1089.5,638.1 L1090.5,638.6 L1091.5,638.7 L1092.5,638.6 L1093.5,638.2 L1094.5,637.6 L1095.5,636.7 L1096.5,635.6 L1097.5,634.3 L1098.5,632.7 L1099.5,630.9 L1100.5,628.9 L1101.5,626.7 L1102.5,624.3 L1103.5,621.6 L1104.5,618.8 L1105.5,615.8 L1106.5,612.7 L1107.5,609.4 L1108.5,606.0 L1109.5,602.4 L1110.5,598.7 L1111.5,594.9 L1112.5,591.1 L1113.5,587.1 L1114.5,583.1 L1115.5,579.1 L1116.5,575.0 L1117.5,570.9 L1118.3,567.6" stroke-dasharray="41.76 14.57 11.65 14.57"/>
<path d="M1118.3,567.6 L1119.3,563.5 L1120.3,559.5 L1121.3,555.5 L1122.3,551.5 L1123.3,547.7 L1124.3,543.9 L1125.3,540.2 L1126.3,536.6 L1127.3,533.1 L1128.3,529.8 L1129.3,526.7 L1130.3,523.7 L1131.3,520.8 L1132.3,518.2 L1133.3,515.7 L1134.3,513.5 L1135.3,511.5 L1136.3,509.6 L1137.3,508.1 L1138.3,506.7 L1139.3,505.6 L1140.3,504.7 L1141.3,504.0 L1142.3,503.6 L1143.3,503.5 L1144.3,503.6 L1145.3,504.0 L1146.3,504.7 L1147.3,505.6 L1148.3,506.9 L1149.3,508.4 L1150.3,510.1 L1151.3,512.1 L1152.3,514.4 L1152.7,515.4" stroke-dasharray="43.71 15.25 12.20 15.25"/>
<path d="M1152.7,515.4 L1153.7,518.0 L1154.7,520.8 L1155.7,523.8 L1156.7,527.0 L1157.7,530.4 L1158.7,534.0 L1159.7,537.8 L1160.7,541.6 L1161.7,545.6 L1162.7,549.7 L1163.7,553.9 L1164.7,558.2 L1165.7,562.5 L1166.7,566.8 L1167.7,571.2 L1168.7,575.6 L1169.7,579.9 L1170.7,584.2 L1171.7,588.5 L1172.7,592.7 L1173.7,596.8 L1174.1,598.4" stroke-dasharray="43.39 15.14 12.11 15.14"/>
<path d="M1174.1,598.4 L1175.1,602.3 L1176.1,606.1 L1177.1,609.8 L1178.1,613.3 L1179.1,616.6 L1180.1,619.7 L1181.1,622.6 L1182.1,625.4 L1183.1,627.8 L1184.1,630.1 L1185.1,632.1 L1186.1,633.8 L1187.1,635.3 L1188.1,636.5 L1189.1,637.4 L1190.1,638.0 L1191.1,638.4 L1192.1,638.5 L1193.1,638.3 L1194.1,637.8 L1195.1,637.0 L1196.1,636.0 L1197.1,634.7 L1198.1,633.1 L1199.1,631.2 L1200.1,629.1 L1201.1,626.7 L1202.1,624.1 L1203.1,621.3 L1204.1,618.2 L1205.1,615.0 L1206.1,611.6 L1207.1,607.9 L1208.1,604.2 L1208.6,602.2" stroke-dasharray="43.78 15.27 12.22 15.27"/>
<path d="M1208.6,602.2 L1209.6,598.2 L1210.6,594.1 L1211.6,589.9 L1212.6,585.6 L1213.6,581.2 L1214.6,576.7 L1215.6,572.3 L1216.6,567.8 L1217.6,563.3 L1218.6,558.8 L1219.6,554.4 L1220.6,550.0 L1221.6,545.7 L1222.6,541.5 L1223.6,537.4 L1224.6,533.4 L1225.6,529.6 L1226.6,525.9 L1227.6,522.4 L1228.4,519.7" stroke-dasharray="42.94 14.98 11.98 14.98"/>
<path d="M1228.4,519.7 L1229.4,516.5 L1230.4,513.5 L1231.4,510.8 L1232.4,508.3 L1233.4,506.0 L1234.4,504.0 L1235.4,502.3 L1236.4,500.8 L1237.4,499.6 L1238.4,498.6 L1239.4,498.0 L1240.4,497.6 L1241.4,497.5 L1242.4,497.7 L1243.4,498.1 L1244.4,498.7 L1245.4,499.6 L1246.4,500.7 L1247.4,502.1 L1248.4,503.6 L1249.4,505.4 L1250.4,507.4 L1251.4,509.6 L1252.4,512.0 L1253.4,514.5 L1254.4,517.2 L1255.4,520.1 L1256.4,523.2 L1257.4,526.3 L1258.4,529.6 L1259.4,533.1 L1260.4,536.6 L1261.4,540.1 L1262.4,543.8 L1263.4,547.5 L1264.2,550.5" stroke-dasharray="43.53 15.19 12.15 15.19"/>
<path d="M1264.2,550.5 L1265.2,554.2 L1266.2,558.0 L1267.2,561.8 L1268.2,565.5 L1269.2,569.2 L1270.2,572.9 L1271.2,576.4 L1272.2,579.9 L1273.2,583.4 L1274.2,586.7 L1275.2,589.8 L1276.2,592.9 L1277.2,595.8 L1278.2,598.5 L1279.2,601.0 L1280.2,603.4 L1281.2,605.6 L1282.2,607.6 L1283.2,609.4 L1284.2,610.9 L1285.2,612.3 L1286.2,613.4 L1287.2,614.3 L1288.2,614.9 L1289.2,615.3 L1290.2,615.5 L1291.2,615.4 L1292.2,615.1 L1293.2,614.6 L1294.2,613.9 L1295.2,612.9 L1296.2,611.8 L1297.2,610.4 L1298.2,608.8 L1299.2,607.0 L1300.1,605.2" stroke-dasharray="43.82 15.29 12.23 15.29"/>
<path d="M1300.1,605.2 L1301.1,603.1 L1302.1,600.8 L1303.1,598.3 L1304.1,595.6 L1305.1,592.8 L1306.1,589.8 L1307.1,586.8 L1308.1,583.5 L1309.1,580.2 L1310.1,576.8 L1311.1,573.3 L1312.1,569.7 L1313.1,566.1 L1314.1,562.4 L1315.1,558.7 L1316.1,555.0 L1317.1,551.2 L1318.1,547.5 L1319.1,543.8 L1320.1,540.1 L1321.1,536.4 L1322.1,532.8 L1323.1,529.3 L1324.1,525.9 L1324.8,523.6" stroke-dasharray="43.21 15.07 12.06 15.07"/>
<path d="M1324.8,523.6 L1325.8,520.3 L1326.8,517.2 L1327.8,514.2 L1328.8,511.3 L1329.8,508.6 L1330.8,506.0 L1331.8,503.6 L1332.8,501.4 L1333.8,499.4 L1334.8,497.5 L1335.8,495.9 L1336.8,494.4 L1337.8,493.2 L1338.8,492.2 L1339.8,491.4 L1340.8,490.8 L1341.8,490.4 L1342.8,490.3 L1343.8,490.4 L1344.8,490.8 L1345.8,491.4 L1346.8,492.3 L1347.8,493.4 L1348.8,494.7 L1349.8,496.3 L1350.8,498.2 L1351.8,500.2 L1352.8,502.5 L1353.8,505.0 L1354.8,507.7 L1355.8,510.6 L1356.8,513.6 L1357.8,516.8 L1358.8,520.2 L1359.8,523.7 L1360.8,527.3 L1361.8,531.0" stroke-dasharray="43.30 15.10 12.08 15.10"/>
<path d="M1361.8,531.0 L1362.8,534.8 L1363.8,538.7 L1364.8,542.6 L1365.8,546.6 L1366.8,550.6 L1367.8,554.7 L1368.8,558.7 L1369.8,562.7 L1370.8,566.6 L1371.8,570.5 L1372.8,574.3 L1373.8,578.1 L1374.8,581.7 L1375.8,585.2 L1376.8,588.6 L1377.8,591.9 L1378.8,594.9 L1379.8,597.8 L1380.8,600.6 L1381.8,603.1 L1382.8,605.4 L1383.8,607.5 L1384.8,609.4 L1385.8,611.1 L1386.6,612.2" stroke-dasharray="43.10 15.03 12.03 15.03"/>
<path d="M1386.6,612.2 L1387.6,613.4 L1388.6,614.4 L1389.6,615.1 L1390.6,615.6 L1391.6,615.8 L1392.6,615.7 L1393.6,615.5 L1394.6,615.0 L1395.6,614.2 L1396.6,613.2 L1397.6,612.0 L1398.6,610.6 L1399.6,609.0 L1400.6,607.2 L1401.6,605.2 L1402.6,602.9 L1403.6,600.5 L1404.6,597.9 L1405.6,595.2 L1406.6,592.3 L1407.6,589.3 L1408.6,586.1 L1409.6,582.8 L1410.6,579.5 L1411.6,576.0 L1412.6,572.4 L1413.6,568.8 L1414.6,565.2 L1415.6,561.5 L1416.6,557.8 L1417.6,554.0 L1418.6,550.3 L1419.6,546.7 L1419.9,545.6" stroke-dasharray="42.53 14.84 11.87 14.84"/>
<path d="M1419.9,545.6 L1420.9,541.9 L1421.9,538.4 L1422.9,534.9 L1423.9,531.5 L1424.9,528.2 L1425.9,525.0 L1426.9,521.9 L1427.9,518.9 L1428.9,516.2 L1429.9,513.5 L1430.9,511.1 L1431.9,508.8 L1432.9,506.7 L1433.9,504.8 L1434.9,503.1 L1435.9,501.7 L1436.9,500.4 L1437.9,499.4 L1438.9,498.5 L1439.9,498.0 L1440.9,497.6 L1441.9,497.5 L1442.9,497.6 L1443.9,498.1 L1444.9,498.8 L1445.9,499.8 L1446.9,501.1 L1447.9,502.6 L1448.9,504.4 L1449.9,506.5 L1450.9,508.8 L1451.9,511.4 L1452.9,514.1 L1453.9,517.2 L1454.9,520.4 L1455.9,523.8 L1456.2,524.8" stroke-dasharray="43.75 15.26 12.21 15.26"/>
<path d="M1456.2,524.8 L1457.2,528.5 L1458.2,532.3 L1459.2,536.2 L1460.2,540.3 L1461.2,544.5 L1462.2,548.8 L1463.2,553.1 L1464.2,557.6 L1465.2,562.0 L1466.2,566.5 L1467.2,571.0 L1468.2,575.5 L1469.2,580.0 L1470.2,584.4 L1471.2,588.7 L1472.2,593.0 L1473.2,597.1 L1474.2,601.2 L1475.2,605.1 L1476.1,608.5" stroke-dasharray="43.49 15.17 12.14 15.17"/>
<path d="M1476.1,608.5 L1477.1,612.1 L1478.1,615.5 L1479.1,618.7 L1480.1,621.8 L1481.1,624.6 L1482.1,627.2 L1483.1,629.5 L1484.1,631.6 L1485.1,633.4 L1486.1,635.0 L1487.1,636.3 L1488.1,637.3 L1489.1,638.1 L1490.1,638.5 L1491.1,638.7 L1492.1,638.6 L1493.1,638.3 L1494.1,637.7 L1495.1,636.8 L1496.1,635.7 L1497.1,634.4 L1498.1,632.9 L1499.1,631.1 L1500.1,629.1 L1501.1,626.9 L1502.1,624.5 L1503.1,621.9 L1504.1,619.1 L1505.1,616.2 L1506.1,613.0 L1507.1,609.7 L1508.1,606.3 L1509.1,602.8 L1510.1,599.1 L1511.1,595.3 L1511.2,594.9" stroke-dasharray="42.84 14.94 11.95 14.94"/>
<path d="M1511.2,594.9 L1512.2,591.1 L1513.2,587.1 L1514.2,583.1 L1515.2,579.1 L1516.2,575.0 L1517.2,570.9 L1518.2,566.8 L1519.2,562.7 L1520.2,558.7 L1521.2,554.7 L1522.2,550.8 L1523.2,546.9 L1524.2,543.1 L1525.2,539.4 L1526.2,535.9 L1527.2,532.5 L1528.2,529.2 L1529.2,526.0 L1530.2,523.1 L1531.2,520.3 L1532.2,517.7 L1533.2,515.3 L1534.2,513.1 L1534.6,512.3" stroke-dasharray="43.52 15.18 12.15 15.18"/>
<path d="M1534.6,512.3 L1535.6,510.3 L1536.6,508.7 L1537.6,507.2 L1538.6,506.0 L1539.6,505.0 L1540.6,504.3 L1541.6,503.8 L1542.6,503.5 L1543.6,503.5 L1544.6,503.8 L1545.6,504.4 L1546.6,505.2 L1547.6,506.3 L1548.6,507.7 L1549.6,509.4 L1550.6,511.3 L1551.6,513.5 L1552.6,515.9 L1553.6,518.5 L1554.6,521.4 L1555.6,524.4 L1556.6,527.7 L1557.6,531.1 L1558.6,534.8 L1559.6,538.5 L1560.6,542.4 L1561.6,546.4 L1562.6,550.6 L1563.6,554.8 L1564.6,559.0 L1565.6,563.4 L1566.6,567.7 L1567.3,570.8" stroke-dasharray="43.47 15.16 12.13 15.16"/>
<path d="M1567.3,570.8 L1568.3,575.2 L1569.3,579.5 L1570.3,583.8 L1571.3,588.1 L1572.3,592.3 L1573.3,596.4 L1574.3,600.4 L1575.3,604.2 L1576.3,608.0 L1577.3,611.6 L1578.3,615.0 L1579.3,618.2 L1580.3,621.2 L1581.3,624.0 L1582.3,626.6 L1583.3,629.0 L1584.3,631.1 L1585.3,633.0 L1586.3,634.6 L1587.3,635.9 L1588.3,637.0 L1589.3,637.8 L1590.3,638.3 L1591.3,638.5 L1592.3,638.4 L1593.3,638.1 L1594.3,637.5 L1595.3,636.5 L1596.3,635.4 L1597.3,633.9 L1598.3,632.2 L1599.3,630.2 L1599.5,629.8" stroke-dasharray="43.48 15.17 12.14 15.17"/>
<path d="M1599.5,629.8 L1600.5,627.5 L1601.5,624.9 L1602.5,622.2 L1603.5,619.2 L1604.5,616.0 L1605.5,612.6 L1606.5,609.0 L1607.5,605.3 L1608.5,601.4 L1609.5,597.4 L1610.5,593.3 L1611.5,589.0 L1612.5,584.7 L1613.5,580.3 L1614.5,575.8 L1615.5,571.4 L1616.5,566.9 L1617.5,562.4 L1618.5,557.9 L1619.5,553.5 L1620.5,549.1 L1621.0,547.0" stroke-dasharray="43.31 15.11 12.09 15.11"/>
<path d="M1621.0,547.0 L1622.0,542.7 L1623.0,538.6 L1624.0,534.6 L1625.0,530.7 L1626.0,527.0 L1627.0,523.4 L1628.0,520.0 L1629.0,516.8 L1630.0,513.8 L1631.0,511.1 L1632.0,508.5 L1633.0,506.2 L1634.0,504.2 L1635.0,502.4 L1636.0,500.9 L1637.0,499.7 L1638.0,498.7 L1639.0,498.0 L1640.0,497.6 L1641.0,497.5 L1642.0,497.6 L1643.0,498.0 L1644.0,498.7 L1645.0,499.5 L1646.0,500.6 L1647.0,501.9 L1648.0,503.5 L1649.0,505.2 L1650.0,507.2 L1651.0,509.4 L1652.0,511.7 L1653.0,514.3 L1654.0,517.0 L1655.0,519.8 L1655.9,522.6" stroke-dasharray="43.11 15.04 12.03 15.04"/>
<path d="M1655.9,522.6 L1656.9,525.7 L1657.9,529.0 L1658.9,532.4 L1659.9,535.8 L1660.9,539.4 L1661.9,543.1 L1662.9,546.7 L1663.9,550.5 L1664.9,554.2 L1665.9,558.0 L1666.9,561.8 L1667.9,565.5 L1668.9,569.2 L1669.9,572.9 L1670.9,576.4 L1671.9,579.9 L1672.9,583.4 L1673.9,586.7 L1674.9,589.8 L1675.9,592.9 L1676.9,595.8 L1677.9,598.5 L1678.9,601.0 L1679.9,603.4 L1680.3,604.3" stroke-dasharray="43.19 15.07 12.05 15.07"/>
<path d="M1680.3,604.3 L1681.3,606.4 L1682.3,608.3 L1683.3,610.0 L1684.3,611.5 L1685.3,612.8 L1686.3,613.8 L1687.3,614.6 L1688.3,615.1 L1689.3,615.4 L1690.3,615.5 L1691.3,615.3 L1692.3,615.0 L1693.3,614.4 L1694.3,613.5 L1695.3,612.5 L1696.3,611.2 L1697.3,609.8 L1698.3,608.1 L1699.3,606.3 L1700.3,604.2 L1701.3,602.0 L1702.3,599.5 L1703.3,597.0 L1704.3,594.2 L1705.3,591.3 L1706.3,588.3 L1707.3,585.2 L1708.3,581.9 L1709.3,578.5 L1710.3,575.1 L1711.3,571.5 L1712.3,567.9 L1713.3,564.3 L1714.3,560.6 L1715.3,556.8 L1716.3,553.1 L1717.0,550.5" stroke-dasharray="44.40 15.49 12.39 15.49"/>
<path d="M1717.0,550.5 L1718.0,546.7 L1719.0,543.0 L1720.0,539.3 L1721.0,535.7 L1722.0,532.1 L1723.0,528.6 L1724.0,525.2 L1725.0,521.9 L1726.0,518.7 L1727.0,515.7 L1728.0,512.7 L1729.0,509.9 L1730.0,507.3 L1731.0,504.8 L1732.0,502.5 L1733.0,500.3 L1734.0,498.4 L1735.0,496.7 L1736.0,495.1 L1737.0,493.8 L1738.0,492.7 L1739.0,491.7 L1740.0,491.1 L1741.0,490.6 L1742.0,490.3 L1743.0,490.3 L1744.0,490.6 L1745.0,491.0 L1746.0,491.8 L1747.0,492.8 L1748.0,494.0 L1749.0,495.5 L1750.0,497.2 L1751.0,499.2 L1752.0,501.4 L1753.0,503.7 L1753.1,504.0" stroke-dasharray="43.11 15.04 12.03 15.04"/>
<path d="M1753.1,504.0 L1754.1,506.6 L1755.1,509.4 L1756.1,512.4 L1757.1,515.5 L1758.1,518.8 L1759.1,522.3 L1760.1,525.8 L1761.1,529.5 L1762.1,533.3 L1763.1,537.1 L1764.1,541.1 L1765.1,545.0 L1766.1,549.0 L1767.1,553.1 L1768.1,557.1 L1769.1,561.1 L1770.1,565.0 L1771.1,569.0 L1772.1,572.8 L1773.1,576.6 L1774.1,580.3 L1775.1,583.8 L1775.9,586.6" stroke-dasharray="43.38 15.13 12.11 15.13"/>
<path d="M1775.9,586.6 L1776.9,589.9 L1777.9,593.1 L1778.9,596.1 L1779.9,599.0 L1780.9,601.6 L1781.9,604.1 L1782.9,606.3 L1783.9,608.3 L1784.9,610.1 L1785.9,611.7 L1786.9,613.0 L1787.9,614.0 L1788.9,614.9 L1789.9,615.4 L1790.9,615.7 L1791.9,615.8 L1792.9,615.6 L1793.9,615.2 L1794.9,614.5 L1795.9,613.7 L1796.9,612.6 L1797.9,611.2 L1798.9,609.7 L1799.9,607.9 L1800.9,606.0 L1801.9,603.8 L1802.9,601.5 L1803.9,599.0 L1804.9,596.3 L1805.9,593.5 L1806.9,590.5 L1807.9,587.4 L1808.9,584.2 L1809.9,580.8 L1810.9,577.4 L1811.9,573.9 L1812.3,572.4" stroke-dasharray="42.49 14.82 11.86 14.82"/>
<path d="M1812.3,572.4 L1813.3,568.8 L1814.3,565.2 L1815.3,561.5 L1816.3,557.8 L1817.3,554.0 L1818.3,550.3 L1819.3,546.7 L1820.3,543.0 L1821.3,539.4 L1822.3,535.9 L1823.3,532.5 L1824.3,529.1 L1825.3,525.9 L1826.3,522.8 L1827.3,519.8 L1828.3,517.0 L1829.3,514.3 L1830.3,511.8 L1831.3,509.5 L1832.3,507.3 L1833.3,505.4 L1834.3,503.6 L1834.4,503.5" stroke-dasharray="43.00 15.00 12.00 15.00"/>
</g>
<g stroke="#0000ff" stroke-width="8.1">
<path d="M335.0,445.0 L336.0,436.5 L337.0,428.0 L338.0,419.4 L339.0,411.0 L340.0,402.8 L341.0,395.4 L342.0,390.0 L343.0,385.7 L344.0,382.5 L345.0,380.2 L346.0,378.5 L347.0,377.6 L348.0,377.1 L349.0,377.1 L350.0,377.7 L351.0,378.5 L352.0,379.7 L353.0,381.3 L354.0,383.0 L355.0,384.7 L356.0,386.5 L356.9,388.0" stroke-dasharray="53.94 30.96"/>
<path d="M356.9,388.0 L357.9,389.5 L358.9,390.8 L359.9,392.1 L360.9,393.4 L361.9,394.7 L362.9,396.1 L363.9,397.4 L364.9,398.6 L365.9,399.5 L366.9,399.4 L367.9,397.4 L368.9,395.1 L369.9,392.5 L370.9,389.7 L371.9,386.9 L372.9,383.9 L373.9,380.8 L374.9,377.8 L375.9,375.1 L376.9,372.7 L377.9,370.0 L378.9,366.6 L379.9,362.0 L380.9,356.1 L381.9,349.5 L382.9,342.7 L383.9,336.0 L384.0,335.4" stroke-dasharray="52.31 30.03"/>
<path d="M384.0,335.4 L385.0,328.9 L386.0,322.2 L387.0,315.5 L388.0,309.0 L389.0,302.8 L390.0,296.9 L391.0,290.8 L392.0,284.2 L393.0,276.6 L394.0,268.1 L395.0,259.4 L396.0,251.4" stroke-dasharray="53.92 30.95"/>
<path d="M396.0,251.4 L397.0,244.3 L398.0,237.6 L399.0,231.2 L400.0,225.0 L401.0,218.8 L402.0,212.5 L403.0,206.6 L404.0,201.4 L405.0,197.2 L406.0,193.7 L407.0,190.6 L408.0,188.0 L409.0,185.6 L410.0,183.4 L411.0,181.7 L412.0,180.4 L413.0,179.3 L414.0,178.6 L415.0,178.6 L416.0,179.4 L417.0,180.5 L418.0,182.1 L419.0,184.3 L419.5,185.6" stroke-dasharray="54.31 31.18"/>
<path d="M419.5,185.6 L420.5,188.5 L421.5,192.0 L422.5,196.0 L423.5,200.1 L424.5,204.6 L425.5,209.6 L426.5,215.0 L427.5,221.1 L428.5,227.8 L429.5,234.7 L430.5,241.2 L431.5,247.5 L432.5,253.8 L433.5,260.1 L434.5,266.7 L434.8,268.8" stroke-dasharray="53.80 30.89"/>
<path d="M434.8,268.8 L435.8,275.9 L436.8,283.5 L437.8,291.2 L438.8,299.1 L439.8,306.9 L440.8,314.6 L441.8,322.0 L442.8,329.1 L443.8,336.1 L444.8,343.0 L445.8,349.8 L446.3,353.1" stroke-dasharray="54.05 31.03"/>
<path d="M446.3,353.1 L447.3,359.6 L448.3,366.0 L449.3,372.4 L450.3,378.7 L451.3,385.3 L452.3,392.0 L453.3,398.7 L454.3,404.7 L455.3,410.1 L456.3,415.1 L457.3,419.7 L458.3,423.9 L459.3,427.5 L460.3,430.8 L461.3,433.8 L462.3,436.7 L462.4,437.0" stroke-dasharray="54.36 31.21"/>
<path d="M462.4,437.0 L463.4,439.9 L464.4,442.8 L465.4,445.5 L466.4,448.0 L467.4,450.5 L468.4,452.9 L469.4,454.8 L470.4,456.5 L471.4,458.1 L472.4,459.1 L473.4,459.3 L474.4,459.0 L475.4,458.5 L476.4,457.8 L477.4,457.0 L478.4,456.2 L479.4,455.1 L480.4,453.8 L481.4,452.3 L482.4,450.7 L483.4,448.9 L484.4,447.1 L485.4,445.1 L486.4,442.8 L487.4,440.3 L488.4,437.7 L489.4,435.0 L490.4,432.5 L491.4,430.0 L492.4,427.4 L493.4,424.9 L494.4,422.2 L495.4,419.3 L496.4,416.3 L497.4,413.0 L498.4,409.6 L499.4,406.3 L499.7,405.3" stroke-dasharray="55.18 31.68"/>
<path d="M499.7,405.3 L500.7,402.1 L501.7,398.9 L502.7,395.7 L503.7,392.7 L504.7,390.2 L505.7,388.0 L506.7,386.0 L507.7,384.2 L508.7,382.6 L509.7,381.3 L510.7,380.2 L511.7,379.2 L512.7,378.2 L513.7,377.3 L514.7,376.6 L515.7,376.0 L516.7,375.6 L517.7,375.5 L518.7,375.6 L519.7,375.9 L520.7,376.4 L521.7,377.1 L522.7,377.8 L523.7,378.6 L524.7,379.6 L525.7,381.1 L526.7,382.9 L527.7,385.0 L528.7,387.2 L529.7,389.5 L530.7,392.0 L531.7,394.7 L532.7,397.6 L533.7,400.6 L534.7,403.8 L535.7,407.1 L536.7,410.6 L537.7,414.3 L538.1,415.8" stroke-dasharray="52.96 30.40"/>
<path d="M538.1,415.8 L539.1,419.6 L540.1,423.3 L541.1,426.9 L542.1,430.6 L543.1,434.2 L544.1,437.9 L545.1,441.6 L546.1,445.4 L547.1,449.2 L548.1,453.2 L549.1,457.2 L550.1,461.2 L551.1,465.1 L552.1,468.9 L553.1,472.6 L554.1,476.4 L555.1,480.1 L556.1,483.7 L557.1,487.1 L558.1,490.3 L559.1,493.3 L560.1,496.2 L561.1,499.0" stroke-dasharray="54.87 31.50"/>
<path d="M561.1,499.0 L562.1,501.6 L563.1,504.1 L564.1,506.3 L565.1,508.5 L566.1,510.6 L567.1,512.5 L568.1,514.3 L569.1,515.8 L570.1,517.0 L571.1,518.2 L572.1,519.3 L573.1,520.2 L574.1,521.0 L575.1,521.4 L576.1,521.5 L577.1,521.1 L578.1,520.4 L579.1,519.5 L580.1,518.5 L581.1,517.5 L582.1,516.4 L583.1,515.1 L584.1,513.6 L585.1,511.9 L586.1,510.1 L587.1,508.2 L588.1,506.2 L589.1,503.9 L590.1,501.4 L591.1,498.9 L592.1,496.3 L593.1,493.7 L594.1,491.1 L595.1,488.3 L596.1,485.4 L597.1,482.5 L598.1,479.6 L599.1,476.7 L600.1,473.8 L600.4,473.0" stroke-dasharray="52.87 30.35"/>
<path d="M600.4,473.0 L601.4,470.0 L602.4,467.1 L603.4,464.3 L604.4,461.6 L605.4,459.0 L606.4,456.5 L607.4,454.1 L608.4,451.8 L609.4,449.7 L610.4,447.7 L611.4,445.8 L612.4,444.0 L613.4,442.4 L614.4,441.1 L615.4,440.2 L616.4,439.4 L617.4,438.7 L618.4,438.2 L619.4,437.9 L620.4,437.8 L621.4,438.1 L622.4,438.5 L623.4,439.1 L624.4,439.8 L625.4,440.7 L626.4,442.0 L627.4,443.5 L628.4,445.2 L629.4,447.5 L630.4,450.2 L631.4,453.1 L632.4,456.3 L633.4,459.9 L634.4,463.9 L635.4,468.1 L636.4,472.1 L637.4,476.0 L637.8,477.6" stroke-dasharray="55.25 31.72"/>
<path d="M637.8,477.6 L638.8,481.6 L639.8,486.1 L640.8,491.1 L641.8,496.7 L642.8,502.7 L643.8,508.9 L644.8,515.0 L645.8,521.1 L646.8,527.1 L647.8,533.3 L648.8,539.4 L649.8,545.7 L650.8,552.0 L651.8,558.3 L652.3,561.5" stroke-dasharray="54.15 31.09"/>
<path d="M652.3,561.5 L653.3,568.0 L654.3,574.4 L655.3,580.8 L656.3,587.3 L657.3,593.8 L658.3,600.2 L659.3,606.6 L660.3,612.9 L661.3,619.1 L662.3,625.3 L663.3,631.5 L664.3,637.6 L665.3,643.7 L665.6,645.5" stroke-dasharray="54.03 31.02"/>
<path d="M665.6,645.5 L666.6,651.8 L667.6,657.4 L668.6,661.8 L669.6,665.4 L670.6,668.7 L671.6,671.8 L672.6,674.8 L673.6,677.9 L674.6,680.8 L675.6,683.6 L676.6,686.3 L677.6,689.3 L678.6,691.9 L679.6,693.5 L680.6,693.4 L681.6,691.9 L682.6,689.5 L683.6,686.8 L684.6,684.4 L685.6,682.2 L686.6,680.2 L687.6,678.0 L688.6,675.5 L689.6,672.7 L690.6,669.4 L691.6,665.5 L691.9,664.2" stroke-dasharray="52.57 30.18"/>
<path d="M691.9,664.2 L692.9,658.8 L693.9,651.5 L694.9,643.3 L695.9,635.2 L696.9,627.6 L697.9,619.8 L698.9,612.3 L699.9,605.3 L700.9,599.2 L701.9,593.5 L702.9,587.8 L703.9,581.4 L704.2,579.2" stroke-dasharray="54.57 31.33"/>
<path d="M704.2,579.2 L705.2,571.4 L706.2,562.9 L707.2,553.8 L708.2,544.3 L709.2,534.6 L710.2,525.1 L711.2,515.6 L712.2,505.7 L713.2,495.2" stroke-dasharray="53.69 30.82"/>
<path d="M713.2,495.2 L714.2,483.3 L715.2,470.4 L716.2,457.9 L717.2,445.8 L718.2,434.7 L719.2,425.2 L720.2,416.4 L720.9,410.7" stroke-dasharray="53.89 30.94"/>
<path d="M720.9,410.7 L721.9,402.9 L722.9,395.4 L723.9,388.2 L724.9,381.6 L725.9,375.4 L726.9,369.4 L727.9,363.5 L728.9,358.4 L729.9,354.3 L730.9,351.2 L731.9,348.6 L732.9,346.5 L733.9,344.8 L734.9,343.5 L735.9,342.4 L736.9,342.0 L737.9,342.8 L738.9,344.3 L739.9,346.3 L740.9,348.3 L741.9,350.6 L742.9,353.3 L743.1,353.9" stroke-dasharray="54.18 31.10"/>
<path d="M743.1,353.9 L744.1,356.8 L745.1,360.0 L746.1,363.5 L747.1,367.2 L748.1,370.8 L749.1,374.6 L750.1,378.5 L751.1,382.4 L752.1,386.3 L753.1,390.1 L754.1,393.8 L755.1,397.5 L756.1,401.2 L757.1,405.0 L758.1,408.9 L759.1,413.0 L760.1,416.6 L761.1,419.7 L762.1,422.5 L763.1,425.0 L764.1,426.9 L765.1,428.3 L766.1,429.6 L767.1,430.0 L768.1,429.8 L769.1,429.3 L770.1,428.7 L771.1,427.7 L772.1,426.4 L772.4,426.0" stroke-dasharray="55.52 31.87"/>
<path d="M772.4,426.0 L773.4,424.3 L774.4,422.1 L775.4,419.5 L776.4,416.1 L777.4,411.8 L778.4,405.8 L779.4,399.2 L780.4,392.9 L781.4,386.3 L782.4,379.6 L783.4,373.1 L784.4,366.9 L785.4,360.9 L786.4,355.0 L787.4,349.0 L788.4,343.0 L788.5,342.4" stroke-dasharray="54.26 31.15"/>
<path d="M788.5,342.4 L789.5,336.5 L790.5,330.5 L791.5,324.4 L792.5,318.1 L793.5,311.6 L794.5,305.0 L795.5,298.4 L796.5,291.9 L797.5,285.3 L798.5,278.7 L799.5,272.3 L800.5,265.9 L801.5,259.4" stroke-dasharray="53.41 30.66"/>
<path d="M801.5,259.4 L802.5,253.2 L803.5,247.8 L804.5,243.7 L805.5,240.4 L806.5,237.4 L807.5,234.6 L808.5,231.7 L809.5,228.8 L810.5,226.4 L811.5,224.5 L812.5,222.7 L813.5,221.5 L814.5,221.1 L815.5,221.7 L816.5,222.8 L817.5,224.1 L818.5,225.9 L819.5,228.3 L820.5,231.0 L821.5,233.6 L822.5,236.3 L823.5,239.2 L824.5,242.4 L825.5,246.2 L826.5,250.7 L827.5,255.7 L828.5,260.9 L828.6,261.4" stroke-dasharray="53.74 30.85"/>
<path d="M828.6,261.4 L829.6,266.8 L830.6,272.4 L831.6,278.3 L832.6,284.0 L833.6,289.7 L834.6,295.4 L835.6,301.1 L836.6,306.9 L837.6,312.8 L838.6,318.8 L839.6,324.9 L840.6,331.1 L841.6,337.3 L842.6,343.5 L843.0,346.0" stroke-dasharray="54.48 31.28"/>
<path d="M843.0,346.0 L844.0,352.1 L845.0,358.3 L846.0,364.4 L847.0,370.5 L848.0,376.6 L849.0,382.6 L850.0,388.6 L851.0,394.6 L852.0,400.3 L853.0,405.9 L854.0,411.4 L855.0,416.9 L856.0,422.2 L857.0,427.2 L857.5,429.4" stroke-dasharray="53.82 30.90"/>
<path d="M857.5,429.4 L858.5,433.5 L859.5,437.1 L860.5,440.4 L861.5,443.3 L862.5,446.0 L863.5,448.4 L864.5,450.7 L865.5,452.7 L866.5,454.6 L867.5,456.2 L868.5,457.7 L869.5,459.2 L870.5,460.5 L871.5,461.3 L872.5,461.5 L873.5,461.1 L874.5,460.2 L875.5,459.1 L876.5,457.9 L877.5,456.7 L878.5,455.6 L879.5,454.3 L880.5,452.9 L881.5,451.4 L882.5,449.9 L883.5,448.1 L884.5,446.3 L885.5,444.2 L886.5,441.8 L887.5,439.3 L888.5,436.6 L889.5,434.0 L890.5,431.5 L891.5,429.0 L892.5,426.4 L893.5,423.8 L894.5,421.1 L894.8,420.2" stroke-dasharray="53.31 30.61"/>
<path d="M894.8,420.2 L895.8,417.2 L896.8,414.1 L897.8,410.9 L898.8,407.7 L899.8,404.7 L900.8,401.7 L901.8,398.6 L902.8,395.7 L903.8,393.0 L904.8,390.8 L905.8,388.8 L906.8,387.0 L907.8,385.4 L908.8,384.0 L909.8,382.9 L910.8,381.9 L911.8,381.0 L912.8,380.1 L913.8,379.4 L914.8,378.7 L915.8,378.3 L916.8,378.0 L917.8,378.0 L918.8,378.2 L919.8,378.6 L920.8,379.1 L921.8,379.7 L922.8,380.3 L923.8,381.1 L924.8,382.2 L925.8,383.7 L926.8,385.6 L927.8,387.6 L928.8,389.7 L929.8,391.9 L930.8,394.4 L931.8,397.0 L932.8,399.9 L933.8,402.8 L934.8,405.8 L935.1,406.7" stroke-dasharray="54.10 31.06"/>
<path d="M935.1,406.7 L936.1,410.0 L937.1,413.6 L938.1,417.2 L939.1,420.8 L940.1,424.4 L941.1,428.0 L942.1,431.7 L943.1,435.3 L944.1,439.0 L945.1,442.7 L946.1,446.5 L947.1,450.4 L948.1,454.4 L949.1,458.4 L950.1,462.3 L951.1,466.2 L952.1,470.0 L953.1,473.8 L954.1,477.5 L955.1,481.2 L956.1,484.8 L957.1,488.1 L957.4,489.1" stroke-dasharray="54.19 31.11"/>
<path d="M957.4,489.1 L958.4,492.1 L959.4,495.1 L960.4,497.9 L961.4,500.6 L962.4,503.1 L963.4,505.4 L964.4,507.4 L965.4,509.4 L966.4,511.3 L967.4,513.0 L968.4,514.5 L969.4,515.7 L970.4,516.7 L971.4,517.7 L972.4,518.6 L973.4,519.4 L974.4,519.8 L975.4,520.0 L976.4,519.8 L977.4,519.3 L978.4,518.5 L979.4,517.7 L980.4,516.8 L981.4,515.8 L982.4,514.7 L983.4,513.3 L984.4,511.9 L985.4,510.2 L986.4,508.5 L987.4,506.7 L988.4,504.6 L989.4,502.3 L990.4,499.9 L991.4,497.3 L992.4,494.8 L993.4,492.2 L994.4,489.4 L995.4,486.6 L996.4,483.7 L997.4,480.7 L998.0,479.0" stroke-dasharray="53.99 30.99"/>
<path d="M998.0,479.0 L999.0,476.1 L1000.0,473.2 L1001.0,470.3 L1002.0,467.4 L1003.0,464.6 L1004.0,461.8 L1005.0,459.2 L1006.0,456.7 L1007.0,454.3 L1008.0,452.0 L1009.0,449.9 L1010.0,447.9 L1011.0,446.0 L1012.0,444.2 L1013.0,442.5 L1014.0,441.2 L1015.0,440.3 L1016.0,439.5 L1017.0,438.8 L1018.0,438.2 L1019.0,437.9 L1020.0,437.8 L1021.0,438.0 L1022.0,438.5 L1023.0,439.1 L1024.0,439.7 L1025.0,440.6 L1026.0,441.9 L1027.0,443.4 L1028.0,445.0 L1029.0,447.2 L1030.0,449.9 L1031.0,452.8 L1032.0,456.0 L1033.0,459.6 L1034.0,463.5 L1035.0,467.7 L1035.4,469.3" stroke-dasharray="53.90 30.94"/>
<path d="M1035.4,469.3 L1036.4,473.3 L1037.4,477.2 L1038.4,481.2 L1039.4,485.6 L1040.4,490.5 L1041.4,496.1 L1042.4,502.0 L1043.4,508.1 L1044.4,514.2 L1045.4,520.1 L1046.4,526.1 L1047.4,532.1 L1048.4,538.1 L1049.4,544.2 L1050.4,550.3 L1051.4,556.5 L1052.4,562.7 L1053.4,568.9 L1054.4,575.1 L1055.4,581.4 L1056.4,587.6 L1057.4,593.9 L1058.4,600.2 L1059.4,606.4 L1060.4,612.4 L1061.4,618.5 L1062.4,624.4 L1063.4,630.3 L1064.4,636.0 L1064.5,636.6" stroke-dasharray="53.95 30.97"/>
<path d="M1064.5,636.6 L1065.5,642.4 L1066.5,648.2 L1067.5,653.2 L1068.5,657.0 L1069.5,660.2 L1070.5,663.0 L1071.5,665.8 L1072.5,668.5 L1073.5,671.2 L1074.5,673.8 L1075.5,676.2 L1076.5,678.7 L1077.5,681.4 L1078.5,683.6 L1079.5,684.8 L1080.5,684.3 L1081.5,682.6 L1082.5,680.2 L1083.5,677.6 L1084.5,675.5 L1085.5,673.5 L1086.5,671.7 L1087.5,669.7 L1088.5,667.4 L1089.5,664.9 L1090.5,662.0 L1091.5,658.5 L1092.3,654.9" stroke-dasharray="53.23 30.56"/>
<path d="M1092.3,654.9 L1093.3,648.7 L1094.3,641.2 L1095.3,633.4 L1096.3,626.2 L1097.3,618.8 L1098.3,611.4 L1099.3,604.5 L1100.3,598.4 L1101.3,592.9 L1102.3,587.5 L1103.3,581.6 L1104.3,574.7 L1105.3,566.9 L1106.3,558.4 L1107.3,549.3 L1108.3,540.0 L1109.3,530.7 L1110.3,521.5 L1111.3,512.2 L1112.3,502.3 L1113.3,491.6 L1113.8,485.7" stroke-dasharray="54.21 31.12"/>
<path d="M1113.8,485.7 L1114.8,473.1 L1115.8,460.8 L1116.8,449.0 L1117.8,438.0 L1118.8,428.6 L1119.8,420.0 L1120.8,412.1 L1121.8,404.5 L1122.2,401.6" stroke-dasharray="53.73 30.84"/>
<path d="M1122.2,401.6 L1123.2,394.5 L1124.2,387.8 L1125.2,381.6 L1126.2,375.7 L1127.2,369.8 L1128.2,364.5 L1129.2,360.1 L1130.2,356.8 L1131.2,354.2 L1132.2,352.0 L1133.2,350.2 L1134.2,348.9 L1135.2,347.7 L1136.2,347.0 L1137.2,347.4 L1138.2,348.7 L1139.2,350.6 L1140.2,352.6 L1141.2,354.7 L1142.2,357.3 L1143.2,360.2 L1144.2,363.2 L1145.2,366.6 L1146.2,370.2 L1147.0,373.2" stroke-dasharray="54.66 31.38"/>
<path d="M1147.0,373.2 L1148.0,376.9 L1149.0,380.7 L1150.0,384.6 L1151.0,388.5 L1152.0,392.4 L1153.0,396.2 L1154.0,399.9 L1155.0,403.6 L1156.0,407.4 L1157.0,411.1 L1158.0,415.2 L1159.0,419.1 L1160.0,422.8 L1161.0,425.8 L1162.0,428.5 L1163.0,430.9 L1164.0,432.6 L1165.0,434.1 L1166.0,435.2 L1167.0,435.5 L1168.0,435.2 L1169.0,434.7 L1170.0,434.1 L1171.0,433.0 L1172.0,431.7 L1173.0,430.1 L1174.0,428.0 L1175.0,425.4 L1176.0,422.1 L1176.6,419.8" stroke-dasharray="54.39 31.22"/>
<path d="M1176.6,419.8 L1177.6,414.6 L1178.6,408.2 L1179.6,401.7 L1180.6,395.3 L1181.6,388.7 L1182.6,382.1 L1183.6,375.8 L1184.6,369.7 L1185.6,363.7 L1186.6,357.8 L1187.6,351.8 L1188.6,345.9 L1189.6,339.9 L1190.3,335.7" stroke-dasharray="54.11 31.06"/>
<path d="M1190.3,335.7 L1191.3,329.6 L1192.3,323.3 L1193.3,316.8 L1194.3,310.2 L1195.3,303.7 L1196.3,297.1 L1197.3,290.5 L1198.3,284.0 L1199.3,277.6 L1200.3,271.2 L1201.3,264.7 L1202.3,258.5 L1203.3,253.3 L1203.6,252.0" stroke-dasharray="53.87 30.93"/>
<path d="M1203.6,252.0 L1204.6,248.3 L1205.6,245.1 L1206.6,242.3 L1207.6,239.4 L1208.6,236.5 L1209.6,233.7 L1210.6,231.6 L1211.6,229.8 L1212.6,228.1 L1213.6,227.2 L1214.6,227.3 L1215.6,228.0 L1216.6,229.2 L1217.6,230.6 L1218.6,232.6 L1219.6,235.0 L1220.6,237.5 L1221.6,240.0 L1222.6,242.6 L1223.6,245.4 L1224.6,248.7 L1225.6,252.5 L1226.6,257.0 L1227.6,262.0 L1228.6,267.0 L1229.6,272.3 L1230.6,277.9 L1231.6,283.5 L1232.6,289.1 L1233.6,294.6 L1234.6,300.2 L1235.6,305.8 L1236.6,311.4 L1237.6,317.2 L1238.6,323.1 L1239.6,329.1 L1240.6,335.1 L1241.6,341.2 L1242.6,347.2 L1243.6,353.2 L1244.6,359.3 L1245.3,363.5" stroke-dasharray="53.57 30.75"/>
<path d="M1245.3,363.5 L1246.3,369.5 L1247.3,375.4 L1248.3,381.3 L1249.3,387.3 L1250.3,393.2 L1251.3,398.9 L1252.3,404.5 L1253.3,409.9 L1254.3,415.3 L1255.3,420.6 L1256.3,425.7 L1257.3,430.2 L1258.3,434.1 L1259.3,437.6 L1260.3,440.8 L1261.3,443.7 L1262.3,446.3 L1262.5,446.7" stroke-dasharray="54.10 31.06"/>
<path d="M1262.5,446.7 L1263.5,449.1 L1264.5,451.3 L1265.5,453.3 L1266.5,455.1 L1267.5,456.6 L1268.5,458.1 L1269.5,459.6 L1270.5,460.8 L1271.5,461.4 L1272.5,461.4 L1273.5,460.8 L1274.5,459.9 L1275.5,458.8 L1276.5,457.6 L1277.5,456.4 L1278.5,455.2 L1279.5,453.9 L1280.5,452.5 L1281.5,451.0 L1282.5,449.3 L1283.5,447.6 L1284.5,445.7 L1285.5,443.5 L1286.5,441.1 L1287.5,438.5 L1288.5,435.8 L1289.5,433.2 L1290.5,430.7 L1291.5,428.2 L1292.5,425.6 L1293.5,423.0 L1294.5,420.2 L1295.5,417.2 L1296.5,414.1 L1297.5,410.9 L1298.5,407.7 L1299.5,404.7 L1300.2,402.6" stroke-dasharray="53.56 30.75"/>
<path d="M1300.2,402.6 L1301.2,399.5 L1302.2,396.6 L1303.2,393.8 L1304.2,391.4 L1305.2,389.4 L1306.2,387.5 L1307.2,385.8 L1308.2,384.4 L1309.2,383.2 L1310.2,382.2 L1311.2,381.3 L1312.2,380.4 L1313.2,379.6 L1314.2,378.9 L1315.2,378.4 L1316.2,378.1 L1317.2,378.0 L1318.2,378.1 L1319.2,378.4 L1320.2,378.9 L1321.2,379.5 L1322.2,380.1 L1323.2,380.9 L1324.2,381.8 L1325.2,383.2 L1326.2,385.0 L1327.2,387.0 L1328.2,389.1 L1329.2,391.2 L1330.2,393.6 L1331.2,396.2 L1332.2,399.0 L1333.2,401.9 L1334.2,404.9 L1335.2,408.0 L1336.2,411.4 L1337.2,415.0 L1338.2,418.6 L1339.2,422.3 L1339.6,423.7" stroke-dasharray="53.54 30.74"/>
<path d="M1339.6,423.7 L1340.6,427.3 L1341.6,430.9 L1342.6,434.6 L1343.6,438.3 L1344.6,442.0 L1345.6,445.8 L1346.6,449.6 L1347.6,453.6 L1348.6,457.6 L1349.6,461.6 L1350.6,465.5 L1351.6,469.2 L1352.6,473.0 L1353.6,476.8 L1354.6,480.5 L1355.6,484.1 L1356.6,487.5 L1357.6,490.6 L1358.6,493.6 L1359.6,496.5 L1360.6,499.3 L1361.6,501.9 L1362.6,504.3 L1363.6,506.4 L1363.7,506.6" stroke-dasharray="54.90 31.52"/>
<path d="M1363.7,506.6 L1364.7,508.6 L1365.7,510.5 L1366.7,512.3 L1367.7,513.9 L1368.7,515.2 L1369.7,516.3 L1370.7,517.3 L1371.7,518.3 L1372.7,519.1 L1373.7,519.7 L1374.7,520.0 L1375.7,519.9 L1376.7,519.5 L1377.7,518.8 L1378.7,518.0 L1379.7,517.1 L1380.7,516.2 L1381.7,515.2 L1382.7,513.9 L1383.7,512.5 L1384.7,510.9 L1385.7,509.2 L1386.7,507.5 L1387.7,505.5 L1388.7,503.3 L1389.7,500.9 L1390.7,498.4 L1391.7,495.8 L1392.7,493.2 L1393.7,490.5 L1394.7,487.7 L1395.7,484.8 L1396.7,481.9 L1397.7,479.0 L1398.7,476.1 L1399.7,473.2 L1400.7,470.3 L1401.7,467.4 L1402.7,464.6 L1403.7,461.8 L1403.8,461.6" stroke-dasharray="53.81 30.89"/>
<path d="M1403.8,461.6 L1404.8,459.0 L1405.8,456.5 L1406.8,454.1 L1407.8,451.8 L1408.8,449.7 L1409.8,447.7 L1410.8,445.8 L1411.8,444.0 L1412.8,442.4 L1413.8,441.1 L1414.8,440.2 L1415.8,439.4 L1416.8,438.7 L1417.8,438.2 L1418.8,437.9 L1419.8,437.8 L1420.8,438.1 L1421.8,438.5 L1422.8,439.1 L1423.8,439.8 L1424.8,440.7 L1425.8,442.0 L1426.8,443.5 L1427.8,445.2 L1428.8,447.5 L1429.8,450.2 L1430.8,453.1 L1431.8,456.3 L1432.8,459.9 L1433.8,463.9 L1434.8,468.1 L1435.8,472.1 L1436.8,476.0 L1437.8,480.0 L1438.8,484.2 L1439.4,487.0" stroke-dasharray="53.74 30.85"/>
<path d="M1439.4,487.0 L1440.4,492.1 L1441.4,497.8 L1442.4,503.8 L1443.4,510.0 L1444.4,516.0 L1445.4,521.9 L1446.4,527.9 L1447.4,533.9 L1448.4,539.9 L1449.4,546.0 L1450.4,552.1 L1451.4,558.3 L1452.4,564.6 L1453.4,570.8 L1454.4,577.0 L1455.4,583.2 L1456.4,589.5 L1457.4,595.7 L1458.4,601.9 L1459.4,608.0 L1460.4,614.0 L1461.4,619.9 L1462.4,625.7 L1463.4,631.4 L1464.4,637.0 L1465.4,642.7 L1466.4,648.4 L1467.4,653.0 L1467.8,654.5" stroke-dasharray="53.97 30.98"/>
<path d="M1467.8,654.5 L1468.8,657.8 L1469.8,660.7 L1470.8,663.4 L1471.8,666.1 L1472.8,668.7 L1473.8,671.2 L1474.8,673.6 L1475.8,675.9 L1476.8,678.6 L1477.8,681.0 L1478.8,682.7 L1479.8,682.9 L1480.8,681.6 L1481.8,679.5 L1482.8,677.0 L1483.8,674.7 L1484.8,672.8 L1485.8,671.1 L1486.8,669.2 L1487.8,667.2 L1488.8,664.9 L1489.8,662.2 L1490.8,659.1 L1491.8,655.1 L1492.8,649.3 L1493.8,642.0 L1494.8,634.4 L1495.8,627.2 L1496.8,619.9 L1497.8,612.6 L1498.8,605.6 L1499.8,599.4 L1500.8,593.9 L1501.8,588.6 L1502.8,582.9 L1503.8,576.2 L1504.8,568.5 L1505.8,560.1 L1506.8,551.2 L1507.8,541.9 L1508.8,532.6 L1509.8,523.3 L1510.8,514.0 L1511.8,504.4 L1512.8,493.9 L1513.8,482.0 L1514.8,469.3 L1515.1,465.6" stroke-dasharray="53.55 30.74"/>
<path d="M1515.1,465.6 L1516.1,453.7 L1517.1,442.2 L1518.1,432.2 L1519.1,423.4 L1520.1,415.2 L1521.1,407.5 L1522.1,400.1 L1523.1,393.1 L1524.1,386.5 L1525.1,380.4" stroke-dasharray="54.51 31.29"/>
<path d="M1525.1,380.4 L1526.1,374.5 L1527.1,368.7 L1528.1,363.5 L1529.1,359.3 L1530.1,356.3 L1531.1,353.7 L1532.1,351.6 L1533.1,349.9 L1534.1,348.6 L1535.1,347.5 L1536.1,347.0 L1537.1,347.6 L1538.1,349.0 L1539.1,351.0 L1540.1,353.0 L1541.1,355.2 L1542.1,357.9 L1543.1,360.8 L1544.1,363.9 L1545.1,367.3 L1546.1,370.9 L1547.1,374.6 L1548.1,378.4 L1549.1,382.3 L1550.1,386.2 L1551.1,390.1 L1552.1,393.9 L1552.4,395.0" stroke-dasharray="55.44 31.83"/>
<path d="M1552.4,395.0 L1553.4,398.8 L1554.4,402.5 L1555.4,406.2 L1556.4,410.0 L1557.4,413.9 L1558.4,418.0 L1559.4,421.7 L1560.4,424.9 L1561.4,427.7 L1562.4,430.2 L1563.4,432.2 L1564.4,433.7 L1565.4,435.0 L1566.4,435.5 L1567.4,435.3 L1568.4,434.9 L1569.4,434.3 L1570.4,433.4 L1571.4,432.2 L1572.4,430.7 L1573.4,428.7 L1574.4,426.2 L1575.4,423.2 L1576.4,419.4 L1577.4,414.0 L1578.4,407.5 L1579.4,401.1 L1579.7,399.2" stroke-dasharray="53.29 30.59"/>
<path d="M1579.7,399.2 L1580.7,392.7 L1581.7,386.0 L1582.7,379.5 L1583.7,373.3 L1584.7,367.3 L1585.7,361.3 L1586.7,355.4 L1587.7,349.4 L1588.7,343.5 L1589.7,337.5 L1590.7,331.5 L1591.7,325.2 L1592.7,318.7 L1593.7,312.2 L1594.7,305.6 L1595.7,299.1 L1596.7,292.5 L1597.7,285.9 L1598.7,279.5 L1599.7,273.2 L1600.7,266.6 L1601.7,260.3 L1602.7,254.7 L1603.7,250.4 L1604.7,247.0 L1605.7,244.0 L1606.7,241.1 L1607.7,238.2 L1608.7,235.3 L1609.7,232.8 L1610.4,231.4" stroke-dasharray="54.28 31.16"/>
<path d="M1610.4,231.4 L1611.4,229.6 L1612.4,228.0 L1613.4,227.2 L1614.4,227.3 L1615.4,228.1 L1616.4,229.4 L1617.4,230.8 L1618.4,232.8 L1619.4,235.3 L1620.4,237.7 L1621.4,240.2 L1622.4,242.8 L1623.4,245.7 L1624.4,249.0 L1625.4,252.9 L1626.4,257.5 L1627.4,262.5 L1628.4,267.5 L1629.4,272.8 L1630.4,278.4 L1631.4,284.1 L1632.4,289.7 L1633.4,295.2 L1634.4,300.7 L1635.4,306.3 L1636.4,312.0 L1637.4,317.7 L1638.4,323.7 L1639.4,329.7 L1640.4,335.7 L1641.4,341.8 L1642.4,347.8 L1643.4,353.8 L1644.4,359.9 L1645.4,365.9 L1646.4,371.9 L1647.4,377.8 L1648.4,383.7 L1648.6,384.9" stroke-dasharray="53.55 30.74"/>
<path d="M1648.6,384.9 L1649.6,390.8 L1650.6,396.6 L1651.6,402.3 L1652.6,407.7 L1653.6,413.2 L1654.6,418.6 L1655.6,423.7 L1656.6,428.4 L1657.6,432.6 L1658.6,436.3 L1659.6,439.6 L1660.6,442.5 L1661.6,445.3 L1662.6,447.7 L1663.6,450.0 L1664.6,452.1 L1665.6,454.1 L1666.6,455.8 L1667.6,457.2 L1668.6,458.7 L1669.6,460.1 L1670.6,461.1 L1671.6,461.5 L1672.6,461.2 L1673.6,460.5 L1674.6,459.5 L1675.6,458.3 L1676.6,457.1 L1677.6,455.9 L1678.6,454.7 L1679.6,453.4 L1680.6,451.9 L1681.6,450.3 L1682.6,448.7 L1683.6,446.9 L1684.6,444.9 L1685.6,442.6 L1686.6,440.0 L1687.6,437.4 L1688.6,434.8 L1689.6,432.2 L1690.6,429.7 L1691.6,427.2 L1692.6,424.6 L1693.6,421.9 L1694.6,419.1 L1695.6,416.0 L1696.6,412.8 L1697.6,409.6 L1698.6,406.5 L1699.6,403.5 L1700.6,400.5 L1701.6,397.4 L1702.6,394.6 L1703.6,392.1 L1704.6,390.0 L1705.6,388.1 L1706.6,386.3 L1707.6,384.8 L1708.6,383.5 L1709.6,382.5" stroke-dasharray="54.08 31.05"/>
<path d="M1709.6,382.5 L1710.6,381.6 L1711.6,380.7 L1712.6,379.8 L1713.6,379.1 L1714.6,378.5 L1715.6,378.2 L1716.6,378.0 L1717.6,378.1 L1718.6,378.3 L1719.6,378.7 L1720.6,379.3 L1721.6,379.9 L1722.6,380.6 L1723.6,381.4 L1724.6,382.7 L1725.6,384.4 L1726.6,386.4 L1727.6,388.5 L1728.6,390.6 L1729.6,392.9 L1730.6,395.4 L1731.6,398.1 L1732.6,401.0 L1733.6,404.0 L1734.6,407.1 L1735.6,410.4 L1736.6,413.9 L1737.6,417.5 L1738.6,421.2 L1739.6,424.8 L1740.6,428.4 L1741.6,432.0 L1742.6,435.7 L1743.6,439.4 L1744.6,443.1 L1745.1,445.0" stroke-dasharray="53.25 30.57"/>
<path d="M1745.1,445.0 L1746.1,448.9 L1747.1,452.8 L1748.1,456.8 L1749.1,460.8 L1750.1,464.7 L1751.1,468.5 L1752.1,472.3 L1753.1,476.0 L1754.1,479.8 L1755.1,483.4 L1756.1,486.8 L1757.1,490.0 L1758.1,493.0 L1759.1,496.0 L1760.1,498.8 L1761.1,501.4 L1762.1,503.8 L1763.1,506.0 L1764.1,508.0 L1765.1,510.0 L1766.1,511.8 L1767.1,513.4 L1768.1,514.9 L1769.1,516.0 L1770.1,517.0 L1771.1,518.0 L1772.1,518.9 L1773.1,519.5 L1774.1,519.9 L1775.1,520.0 L1776.1,519.7 L1777.1,519.1 L1777.6,518.7" stroke-dasharray="54.42 31.24"/>
<path d="M1777.6,518.7 L1778.6,517.9 L1779.6,516.9 L1780.6,516.0 L1781.6,514.9 L1782.6,513.6 L1783.6,512.2 L1784.6,510.6 L1785.6,508.9 L1786.6,507.1 L1787.6,505.0 L1788.6,502.8 L1789.6,500.4 L1790.6,497.9 L1791.6,495.3 L1792.6,492.7 L1793.6,490.0 L1794.6,487.1 L1795.6,484.2 L1796.6,481.3 L1797.6,478.4 L1798.6,475.6 L1799.6,472.7 L1800.6,469.7 L1801.6,466.8 L1802.6,464.0 L1803.6,461.3 L1804.6,458.7 L1805.6,456.3 L1806.6,453.8 L1807.6,451.6 L1808.6,449.5 L1809.6,447.5 L1810.6,445.6 L1811.6,443.8 L1812.6,442.2 L1813.6,441.0 L1813.9,440.7" stroke-dasharray="55.17 31.67"/>
<path d="M1813.9,440.7 L1814.9,439.9 L1815.9,439.1 L1816.9,438.5 L1817.9,438.0 L1818.9,437.8 L1819.9,437.9 L1820.9,438.2 L1821.9,438.8 L1822.9,439.4 L1823.9,440.1 L1824.9,441.2 L1825.9,442.6 L1826.9,444.2 L1827.9,446.1 L1828.9,448.5 L1829.9,451.3 L1830.9,454.4 L1831.9,457.7 L1832.9,461.5 L1833.9,465.6 L1834.4,467.7" stroke-dasharray="54.00 31.00"/>
</g>
<g stroke="#0000ff" stroke-width="8.1" transform="translate(0.3,0.3)">
<path d="M335.0,445.0 L336.0,436.5 L337.0,428.0 L338.0,419.4 L339.0,411.0 L340.0,402.8 L341.0,395.4 L342.0,390.0 L343.0,385.7 L344.0,382.5 L345.0,380.2 L346.0,378.5 L347.0,377.6 L348.0,377.1 L349.0,377.1 L350.0,377.7 L351.0,378.5 L352.0,379.7 L353.0,381.3 L354.0,383.0 L355.0,384.7 L356.0,386.5 L356.9,388.0" stroke-dasharray="53.94 30.96"/>
<path d="M356.9,388.0 L357.9,389.5 L358.9,390.8 L359.9,392.1 L360.9,393.4 L361.9,394.7 L362.9,396.1 L363.9,397.4 L364.9,398.6 L365.9,399.5 L366.9,399.4 L367.9,397.4 L368.9,395.1 L369.9,392.5 L370.9,389.7 L371.9,386.9 L372.9,383.9 L373.9,380.8 L374.9,377.8 L375.9,375.1 L376.9,372.7 L377.9,370.0 L378.9,366.6 L379.9,362.0 L380.9,356.1 L381.9,349.5 L382.9,342.7 L383.9,336.0 L384.0,335.4" stroke-dasharray="52.31 30.03"/>
<path d="M384.0,335.4 L385.0,328.9 L386.0,322.2 L387.0,315.5 L388.0,309.0 L389.0,302.8 L390.0,296.9 L391.0,290.8 L392.0,284.2 L393.0,276.6 L394.0,268.1 L395.0,259.4 L396.0,251.4" stroke-dasharray="53.92 30.95"/>
<path d="M396.0,251.4 L397.0,244.3 L398.0,237.6 L399.0,231.2 L400.0,225.0 L401.0,218.8 L402.0,212.5 L403.0,206.6 L404.0,201.4 L405.0,197.2 L406.0,193.7 L407.0,190.6 L408.0,188.0 L409.0,185.6 L410.0,183.4 L411.0,181.7 L412.0,180.4 L413.0,179.3 L414.0,178.6 L415.0,178.6 L416.0,179.4 L417.0,180.5 L418.0,182.1 L419.0,184.3 L419.5,185.6" stroke-dasharray="54.31 31.18"/>
<path d="M419.5,185.6 L420.5,188.5 L421.5,192.0 L422.5,196.0 L423.5,200.1 L424.5,204.6 L425.5,209.6 L426.5,215.0 L427.5,221.1 L428.5,227.8 L429.5,234.7 L430.5,241.2 L431.5,247.5 L432.5,253.8 L433.5,260.1 L434.5,266.7 L434.8,268.8" stroke-dasharray="53.80 30.89"/>
<path d="M434.8,268.8 L435.8,275.9 L436.8,283.5 L437.8,291.2 L438.8,299.1 L439.8,306.9 L440.8,314.6 L441.8,322.0 L442.8,329.1 L443.8,336.1 L444.8,343.0 L445.8,349.8 L446.3,353.1" stroke-dasharray="54.05 31.03"/>
<path d="M446.3,353.1 L447.3,359.6 L448.3,366.0 L449.3,372.4 L450.3,378.7 L451.3,385.3 L452.3,392.0 L453.3,398.7 L454.3,404.7 L455.3,410.1 L456.3,415.1 L457.3,419.7 L458.3,423.9 L459.3,427.5 L460.3,430.8 L461.3,433.8 L462.3,436.7 L462.4,437.0" stroke-dasharray="54.36 31.21"/>
<path d="M462.4,437.0 L463.4,439.9 L464.4,442.8 L465.4,445.5 L466.4,448.0 L467.4,450.5 L468.4,452.9 L469.4,454.8 L470.4,456.5 L471.4,458.1 L472.4,459.1 L473.4,459.3 L474.4,459.0 L475.4,458.5 L476.4,457.8 L477.4,457.0 L478.4,456.2 L479.4,455.1 L480.4,453.8 L481.4,452.3 L482.4,450.7 L483.4,448.9 L484.4,447.1 L485.4,445.1 L486.4,442.8 L487.4,440.3 L488.4,437.7 L489.4,435.0 L490.4,432.5 L491.4,430.0 L492.4,427.4 L493.4,424.9 L494.4,422.2 L495.4,419.3 L496.4,416.3 L497.4,413.0 L498.4,409.6 L499.4,406.3 L499.7,405.3" stroke-dasharray="55.18 31.68"/>
<path d="M499.7,405.3 L500.7,402.1 L501.7,398.9 L502.7,395.7 L503.7,392.7 L504.7,390.2 L505.7,388.0 L506.7,386.0 L507.7,384.2 L508.7,382.6 L509.7,381.3 L510.7,380.2 L511.7,379.2 L512.7,378.2 L513.7,377.3 L514.7,376.6 L515.7,376.0 L516.7,375.6 L517.7,375.5 L518.7,375.6 L519.7,375.9 L520.7,376.4 L521.7,377.1 L522.7,377.8 L523.7,378.6 L524.7,379.6 L525.7,381.1 L526.7,382.9 L527.7,385.0 L528.7,387.2 L529.7,389.5 L530.7,392.0 L531.7,394.7 L532.7,397.6 L533.7,400.6 L534.7,403.8 L535.7,407.1 L536.7,410.6 L537.7,414.3 L538.1,415.8" stroke-dasharray="52.96 30.40"/>
<path d="M538.1,415.8 L539.1,419.6 L540.1,423.3 L541.1,426.9 L542.1,430.6 L543.1,434.2 L544.1,437.9 L545.1,441.6 L546.1,445.4 L547.1,449.2 L548.1,453.2 L549.1,457.2 L550.1,461.2 L551.1,465.1 L552.1,468.9 L553.1,472.6 L554.1,476.4 L555.1,480.1 L556.1,483.7 L557.1,487.1 L558.1,490.3 L559.1,493.3 L560.1,496.2 L561.1,499.0" stroke-dasharray="54.87 31.50"/>
<path d="M561.1,499.0 L562.1,501.6 L563.1,504.1 L564.1,506.3 L565.1,508.5 L566.1,510.6 L567.1,512.5 L568.1,514.3 L569.1,515.8 L570.1,517.0 L571.1,518.2 L572.1,519.3 L573.1,520.2 L574.1,521.0 L575.1,521.4 L576.1,521.5 L577.1,521.1 L578.1,520.4 L579.1,519.5 L580.1,518.5 L581.1,517.5 L582.1,516.4 L583.1,515.1 L584.1,513.6 L585.1,511.9 L586.1,510.1 L587.1,508.2 L588.1,506.2 L589.1,503.9 L590.1,501.4 L591.1,498.9 L592.1,496.3 L593.1,493.7 L594.1,491.1 L595.1,488.3 L596.1,485.4 L597.1,482.5 L598.1,479.6 L599.1,476.7 L600.1,473.8 L600.4,473.0" stroke-dasharray="52.87 30.35"/>
<path d="M600.4,473.0 L601.4,470.0 L602.4,467.1 L603.4,464.3 L604.4,461.6 L605.4,459.0 L606.4,456.5 L607.4,454.1 L608.4,451.8 L609.4,449.7 L610.4,447.7 L611.4,445.8 L612.4,444.0 L613.4,442.4 L614.4,441.1 L615.4,440.2 L616.4,439.4 L617.4,438.7 L618.4,438.2 L619.4,437.9 L620.4,437.8 L621.4,438.1 L622.4,438.5 L623.4,439.1 L624.4,439.8 L625.4,440.7 L626.4,442.0 L627.4,443.5 L628.4,445.2 L629.4,447.5 L630.4,450.2 L631.4,453.1 L632.4,456.3 L633.4,459.9 L634.4,463.9 L635.4,468.1 L636.4,472.1 L637.4,476.0 L637.8,477.6" stroke-dasharray="55.25 31.72"/>
<path d="M637.8,477.6 L638.8,481.6 L639.8,486.1 L640.8,491.1 L641.8,496.7 L642.8,502.7 L643.8,508.9 L644.8,515.0 L645.8,521.1 L646.8,527.1 L647.8,533.3 L648.8,539.4 L649.8,545.7 L650.8,552.0 L651.8,558.3 L652.3,561.5" stroke-dasharray="54.15 31.09"/>
<path d="M652.3,561.5 L653.3,568.0 L654.3,574.4 L655.3,580.8 L656.3,587.3 L657.3,593.8 L658.3,600.2 L659.3,606.6 L660.3,612.9 L661.3,619.1 L662.3,625.3 L663.3,631.5 L664.3,637.6 L665.3,643.7 L665.6,645.5" stroke-dasharray="54.03 31.02"/>
<path d="M665.6,645.5 L666.6,651.8 L667.6,657.4 L668.6,661.8 L669.6,665.4 L670.6,668.7 L671.6,671.8 L672.6,674.8 L673.6,677.9 L674.6,680.8 L675.6,683.6 L676.6,686.3 L677.6,689.3 L678.6,691.9 L679.6,693.5 L680.6,693.4 L681.6,691.9 L682.6,689.5 L683.6,686.8 L684.6,684.4 L685.6,682.2 L686.6,680.2 L687.6,678.0 L688.6,675.5 L689.6,672.7 L690.6,669.4 L691.6,665.5 L691.9,664.2" stroke-dasharray="52.57 30.18"/>
<path d="M691.9,664.2 L692.9,658.8 L693.9,651.5 L694.9,643.3 L695.9,635.2 L696.9,627.6 L697.9,619.8 L698.9,612.3 L699.9,605.3 L700.9,599.2 L701.9,593.5 L702.9,587.8 L703.9,581.4 L704.2,579.2" stroke-dasharray="54.57 31.33"/>
<path d="M704.2,579.2 L705.2,571.4 L706.2,562.9 L707.2,553.8 L708.2,544.3 L709.2,534.6 L710.2,525.1 L711.2,515.6 L712.2,505.7 L713.2,495.2" stroke-dasharray="53.69 30.82"/>
<path d="M713.2,495.2 L714.2,483.3 L715.2,470.4 L716.2,457.9 L717.2,445.8 L718.2,434.7 L719.2,425.2 L720.2,416.4 L720.9,410.7" stroke-dasharray="53.89 30.94"/>
<path d="M720.9,410.7 L721.9,402.9 L722.9,395.4 L723.9,388.2 L724.9,381.6 L725.9,375.4 L726.9,369.4 L727.9,363.5 L728.9,358.4 L729.9,354.3 L730.9,351.2 L731.9,348.6 L732.9,346.5 L733.9,344.8 L734.9,343.5 L735.9,342.4 L736.9,342.0 L737.9,342.8 L738.9,344.3 L739.9,346.3 L740.9,348.3 L741.9,350.6 L742.9,353.3 L743.1,353.9" stroke-dasharray="54.18 31.10"/>
<path d="M743.1,353.9 L744.1,356.8 L745.1,360.0 L746.1,363.5 L747.1,367.2 L748.1,370.8 L749.1,374.6 L750.1,378.5 L751.1,382.4 L752.1,386.3 L753.1,390.1 L754.1,393.8 L755.1,397.5 L756.1,401.2 L757.1,405.0 L758.1,408.9 L759.1,413.0 L760.1,416.6 L761.1,419.7 L762.1,422.5 L763.1,425.0 L764.1,426.9 L765.1,428.3 L766.1,429.6 L767.1,430.0 L768.1,429.8 L769.1,429.3 L770.1,428.7 L771.1,427.7 L772.1,426.4 L772.4,426.0" stroke-dasharray="55.52 31.87"/>
<path d="M772.4,426.0 L773.4,424.3 L774.4,422.1 L775.4,419.5 L776.4,416.1 L777.4,411.8 L778.4,405.8 L779.4,399.2 L780.4,392.9 L781.4,386.3 L782.4,379.6 L783.4,373.1 L784.4,366.9 L785.4,360.9 L786.4,355.0 L787.4,349.0 L788.4,343.0 L788.5,342.4" stroke-dasharray="54.26 31.15"/>
<path d="M788.5,342.4 L789.5,336.5 L790.5,330.5 L791.5,324.4 L792.5,318.1 L793.5,311.6 L794.5,305.0 L795.5,298.4 L796.5,291.9 L797.5,285.3 L798.5,278.7 L799.5,272.3 L800.5,265.9 L801.5,259.4" stroke-dasharray="53.41 30.66"/>
<path d="M801.5,259.4 L802.5,253.2 L803.5,247.8 L804.5,243.7 L805.5,240.4 L806.5,237.4 L807.5,234.6 L808.5,231.7 L809.5,228.8 L810.5,226.4 L811.5,224.5 L812.5,222.7 L813.5,221.5 L814.5,221.1 L815.5,221.7 L816.5,222.8 L817.5,224.1 L818.5,225.9 L819.5,228.3 L820.5,231.0 L821.5,233.6 L822.5,236.3 L823.5,239.2 L824.5,242.4 L825.5,246.2 L826.5,250.7 L827.5,255.7 L828.5,260.9 L828.6,261.4" stroke-dasharray="53.74 30.85"/>
<path d="M828.6,261.4 L829.6,266.8 L830.6,272.4 L831.6,278.3 L832.6,284.0 L833.6,289.7 L834.6,295.4 L835.6,301.1 L836.6,306.9 L837.6,312.8 L838.6,318.8 L839.6,324.9 L840.6,331.1 L841.6,337.3 L842.6,343.5 L843.0,346.0" stroke-dasharray="54.48 31.28"/>
<path d="M843.0,346.0 L844.0,352.1 L845.0,358.3 L846.0,364.4 L847.0,370.5 L848.0,376.6 L849.0,382.6 L850.0,388.6 L851.0,394.6 L852.0,400.3 L853.0,405.9 L854.0,411.4 L855.0,416.9 L856.0,422.2 L857.0,427.2 L857.5,429.4" stroke-dasharray="53.82 30.90"/>
<path d="M857.5,429.4 L858.5,433.5 L859.5,437.1 L860.5,440.4 L861.5,443.3 L862.5,446.0 L863.5,448.4 L864.5,450.7 L865.5,452.7 L866.5,454.6 L867.5,456.2 L868.5,457.7 L869.5,459.2 L870.5,460.5 L871.5,461.3 L872.5,461.5 L873.5,461.1 L874.5,460.2 L875.5,459.1 L876.5,457.9 L877.5,456.7 L878.5,455.6 L879.5,454.3 L880.5,452.9 L881.5,451.4 L882.5,449.9 L883.5,448.1 L884.5,446.3 L885.5,444.2 L886.5,441.8 L887.5,439.3 L888.5,436.6 L889.5,434.0 L890.5,431.5 L891.5,429.0 L892.5,426.4 L893.5,423.8 L894.5,421.1 L894.8,420.2" stroke-dasharray="53.31 30.61"/>
<path d="M894.8,420.2 L895.8,417.2 L896.8,414.1 L897.8,410.9 L898.8,407.7 L899.8,404.7 L900.8,401.7 L901.8,398.6 L902.8,395.7 L903.8,393.0 L904.8,390.8 L905.8,388.8 L906.8,387.0 L907.8,385.4 L908.8,384.0 L909.8,382.9 L910.8,381.9 L911.8,381.0 L912.8,380.1 L913.8,379.4 L914.8,378.7 L915.8,378.3 L916.8,378.0 L917.8,378.0 L918.8,378.2 L919.8,378.6 L920.8,379.1 L921.8,379.7 L922.8,380.3 L923.8,381.1 L924.8,382.2 L925.8,383.7 L926.8,385.6 L927.8,387.6 L928.8,389.7 L929.8,391.9 L930.8,394.4 L931.8,397.0 L932.8,399.9 L933.8,402.8 L934.8,405.8 L935.1,406.7" stroke-dasharray="54.10 31.06"/>
<path d="M935.1,406.7 L936.1,410.0 L937.1,413.6 L938.1,417.2 L939.1,420.8 L940.1,424.4 L941.1,428.0 L942.1,431.7 L943.1,435.3 L944.1,439.0 L945.1,442.7 L946.1,446.5 L947.1,450.4 L948.1,454.4 L949.1,458.4 L950.1,462.3 L951.1,466.2 L952.1,470.0 L953.1,473.8 L954.1,477.5 L955.1,481.2 L956.1,484.8 L957.1,488.1 L957.4,489.1" stroke-dasharray="54.19 31.11"/>
<path d="M957.4,489.1 L958.4,492.1 L959.4,495.1 L960.4,497.9 L961.4,500.6 L962.4,503.1 L963.4,505.4 L964.4,507.4 L965.4,509.4 L966.4,511.3 L967.4,513.0 L968.4,514.5 L969.4,515.7 L970.4,516.7 L971.4,517.7 L972.4,518.6 L973.4,519.4 L974.4,519.8 L975.4,520.0 L976.4,519.8 L977.4,519.3 L978.4,518.5 L979.4,517.7 L980.4,516.8 L981.4,515.8 L982.4,514.7 L983.4,513.3 L984.4,511.9 L985.4,510.2 L986.4,508.5 L987.4,506.7 L988.4,504.6 L989.4,502.3 L990.4,499.9 L991.4,497.3 L992.4,494.8 L993.4,492.2 L994.4,489.4 L995.4,486.6 L996.4,483.7 L997.4,480.7 L998.0,479.0" stroke-dasharray="53.99 30.99"/>
<path d="M998.0,479.0 L999.0,476.1 L1000.0,473.2 L1001.0,470.3 L1002.0,467.4 L1003.0,464.6 L1004.0,461.8 L1005.0,459.2 L1006.0,456.7 L1007.0,454.3 L1008.0,452.0 L1009.0,449.9 L1010.0,447.9 L1011.0,446.0 L1012.0,444.2 L1013.0,442.5 L1014.0,441.2 L1015.0,440.3 L1016.0,439.5 L1017.0,438.8 L1018.0,438.2 L1019.0,437.9 L1020.0,437.8 L1021.0,438.0 L1022.0,438.5 L1023.0,439.1 L1024.0,439.7 L1025.0,440.6 L1026.0,441.9 L1027.0,443.4 L1028.0,445.0 L1029.0,447.2 L1030.0,449.9 L1031.0,452.8 L1032.0,456.0 L1033.0,459.6 L1034.0,463.5 L1035.0,467.7 L1035.4,469.3" stroke-dasharray="53.90 30.94"/>
<path d="M1035.4,469.3 L1036.4,473.3 L1037.4,477.2 L1038.4,481.2 L1039.4,485.6 L1040.4,490.5 L1041.4,496.1 L1042.4,502.0 L1043.4,508.1 L1044.4,514.2 L1045.4,520.1 L1046.4,526.1 L1047.4,532.1 L1048.4,538.1 L1049.4,544.2 L1050.4,550.3 L1051.4,556.5 L1052.4,562.7 L1053.4,568.9 L1054.4,575.1 L1055.4,581.4 L1056.4,587.6 L1057.4,593.9 L1058.4,600.2 L1059.4,606.4 L1060.4,612.4 L1061.4,618.5 L1062.4,624.4 L1063.4,630.3 L1064.4,636.0 L1064.5,636.6" stroke-dasharray="53.95 30.97"/>
<path d="M1064.5,636.6 L1065.5,642.4 L1066.5,648.2 L1067.5,653.2 L1068.5,657.0 L1069.5,660.2 L1070.5,663.0 L1071.5,665.8 L1072.5,668.5 L1073.5,671.2 L1074.5,673.8 L1075.5,676.2 L1076.5,678.7 L1077.5,681.4 L1078.5,683.6 L1079.5,684.8 L1080.5,684.3 L1081.5,682.6 L1082.5,680.2 L1083.5,677.6 L1084.5,675.5 L1085.5,673.5 L1086.5,671.7 L1087.5,669.7 L1088.5,667.4 L1089.5,664.9 L1090.5,662.0 L1091.5,658.5 L1092.3,654.9" stroke-dasharray="53.23 30.56"/>
<path d="M1092.3,654.9 L1093.3,648.7 L1094.3,641.2 L1095.3,633.4 L1096.3,626.2 L1097.3,618.8 L1098.3,611.4 L1099.3,604.5 L1100.3,598.4 L1101.3,592.9 L1102.3,587.5 L1103.3,581.6 L1104.3,574.7 L1105.3,566.9 L1106.3,558.4 L1107.3,549.3 L1108.3,540.0 L1109.3,530.7 L1110.3,521.5 L1111.3,512.2 L1112.3,502.3 L1113.3,491.6 L1113.8,485.7" stroke-dasharray="54.21 31.12"/>
<path d="M1113.8,485.7 L1114.8,473.1 L1115.8,460.8 L1116.8,449.0 L1117.8,438.0 L1118.8,428.6 L1119.8,420.0 L1120.8,412.1 L1121.8,404.5 L1122.2,401.6" stroke-dasharray="53.73 30.84"/>
<path d="M1122.2,401.6 L1123.2,394.5 L1124.2,387.8 L1125.2,381.6 L1126.2,375.7 L1127.2,369.8 L1128.2,364.5 L1129.2,360.1 L1130.2,356.8 L1131.2,354.2 L1132.2,352.0 L1133.2,350.2 L1134.2,348.9 L1135.2,347.7 L1136.2,347.0 L1137.2,347.4 L1138.2,348.7 L1139.2,350.6 L1140.2,352.6 L1141.2,354.7 L1142.2,357.3 L1143.2,360.2 L1144.2,363.2 L1145.2,366.6 L1146.2,370.2 L1147.0,373.2" stroke-dasharray="54.66 31.38"/>
<path d="M1147.0,373.2 L1148.0,376.9 L1149.0,380.7 L1150.0,384.6 L1151.0,388.5 L1152.0,392.4 L1153.0,396.2 L1154.0,399.9 L1155.0,403.6 L1156.0,407.4 L1157.0,411.1 L1158.0,415.2 L1159.0,419.1 L1160.0,422.8 L1161.0,425.8 L1162.0,428.5 L1163.0,430.9 L1164.0,432.6 L1165.0,434.1 L1166.0,435.2 L1167.0,435.5 L1168.0,435.2 L1169.0,434.7 L1170.0,434.1 L1171.0,433.0 L1172.0,431.7 L1173.0,430.1 L1174.0,428.0 L1175.0,425.4 L1176.0,422.1 L1176.6,419.8" stroke-dasharray="54.39 31.22"/>
<path d="M1176.6,419.8 L1177.6,414.6 L1178.6,408.2 L1179.6,401.7 L1180.6,395.3 L1181.6,388.7 L1182.6,382.1 L1183.6,375.8 L1184.6,369.7 L1185.6,363.7 L1186.6,357.8 L1187.6,351.8 L1188.6,345.9 L1189.6,339.9 L1190.3,335.7" stroke-dasharray="54.11 31.06"/>
<path d="M1190.3,335.7 L1191.3,329.6 L1192.3,323.3 L1193.3,316.8 L1194.3,310.2 L1195.3,303.7 L1196.3,297.1 L1197.3,290.5 L1198.3,284.0 L1199.3,277.6 L1200.3,271.2 L1201.3,264.7 L1202.3,258.5 L1203.3,253.3 L1203.6,252.0" stroke-dasharray="53.87 30.93"/>
<path d="M1203.6,252.0 L1204.6,248.3 L1205.6,245.1 L1206.6,242.3 L1207.6,239.4 L1208.6,236.5 L1209.6,233.7 L1210.6,231.6 L1211.6,229.8 L1212.6,228.1 L1213.6,227.2 L1214.6,227.3 L1215.6,228.0 L1216.6,229.2 L1217.6,230.6 L1218.6,232.6 L1219.6,235.0 L1220.6,237.5 L1221.6,240.0 L1222.6,242.6 L1223.6,245.4 L1224.6,248.7 L1225.6,252.5 L1226.6,257.0 L1227.6,262.0 L1228.6,267.0 L1229.6,272.3 L1230.6,277.9 L1231.6,283.5 L1232.6,289.1 L1233.6,294.6 L1234.6,300.2 L1235.6,305.8 L1236.6,311.4 L1237.6,317.2 L1238.6,323.1 L1239.6,329.1 L1240.6,335.1 L1241.6,341.2 L1242.6,347.2 L1243.6,353.2 L1244.6,359.3 L1245.3,363.5" stroke-dasharray="53.57 30.75"/>
<path d="M1245.3,363.5 L1246.3,369.5 L1247.3,375.4 L1248.3,381.3 L1249.3,387.3 L1250.3,393.2 L1251.3,398.9 L1252.3,404.5 L1253.3,409.9 L1254.3,415.3 L1255.3,420.6 L1256.3,425.7 L1257.3,430.2 L1258.3,434.1 L1259.3,437.6 L1260.3,440.8 L1261.3,443.7 L1262.3,446.3 L1262.5,446.7" stroke-dasharray="54.10 31.06"/>
<path d="M1262.5,446.7 L1263.5,449.1 L1264.5,451.3 L1265.5,453.3 L1266.5,455.1 L1267.5,456.6 L1268.5,458.1 L1269.5,459.6 L1270.5,460.8 L1271.5,461.4 L1272.5,461.4 L1273.5,460.8 L1274.5,459.9 L1275.5,458.8 L1276.5,457.6 L1277.5,456.4 L1278.5,455.2 L1279.5,453.9 L1280.5,452.5 L1281.5,451.0 L1282.5,449.3 L1283.5,447.6 L1284.5,445.7 L1285.5,443.5 L1286.5,441.1 L1287.5,438.5 L1288.5,435.8 L1289.5,433.2 L1290.5,430.7 L1291.5,428.2 L1292.5,425.6 L1293.5,423.0 L1294.5,420.2 L1295.5,417.2 L1296.5,414.1 L1297.5,410.9 L1298.5,407.7 L1299.5,404.7 L1300.2,402.6" stroke-dasharray="53.56 30.75"/>
<path d="M1300.2,402.6 L1301.2,399.5 L1302.2,396.6 L1303.2,393.8 L1304.2,391.4 L1305.2,389.4 L1306.2,387.5 L1307.2,385.8 L1308.2,384.4 L1309.2,383.2 L1310.2,382.2 L1311.2,381.3 L1312.2,380.4 L1313.2,379.6 L1314.2,378.9 L1315.2,378.4 L1316.2,378.1 L1317.2,378.0 L1318.2,378.1 L1319.2,378.4 L1320.2,378.9 L1321.2,379.5 L1322.2,380.1 L1323.2,380.9 L1324.2,381.8 L1325.2,383.2 L1326.2,385.0 L1327.2,387.0 L1328.2,389.1 L1329.2,391.2 L1330.2,393.6 L1331.2,396.2 L1332.2,399.0 L1333.2,401.9 L1334.2,404.9 L1335.2,408.0 L1336.2,411.4 L1337.2,415.0 L1338.2,418.6 L1339.2,422.3 L1339.6,423.7" stroke-dasharray="53.54 30.74"/>
<path d="M1339.6,423.7 L1340.6,427.3 L1341.6,430.9 L1342.6,434.6 L1343.6,438.3 L1344.6,442.0 L1345.6,445.8 L1346.6,449.6 L1347.6,453.6 L1348.6,457.6 L1349.6,461.6 L1350.6,465.5 L1351.6,469.2 L1352.6,473.0 L1353.6,476.8 L1354.6,480.5 L1355.6,484.1 L1356.6,487.5 L1357.6,490.6 L1358.6,493.6 L1359.6,496.5 L1360.6,499.3 L1361.6,501.9 L1362.6,504.3 L1363.6,506.4 L1363.7,506.6" stroke-dasharray="54.90 31.52"/>
<path d="M1363.7,506.6 L1364.7,508.6 L1365.7,510.5 L1366.7,512.3 L1367.7,513.9 L1368.7,515.2 L1369.7,516.3 L1370.7,517.3 L1371.7,518.3 L1372.7,519.1 L1373.7,519.7 L1374.7,520.0 L1375.7,519.9 L1376.7,519.5 L1377.7,518.8 L1378.7,518.0 L1379.7,517.1 L1380.7,516.2 L1381.7,515.2 L1382.7,513.9 L1383.7,512.5 L1384.7,510.9 L1385.7,509.2 L1386.7,507.5 L1387.7,505.5 L1388.7,503.3 L1389.7,500.9 L1390.7,498.4 L1391.7,495.8 L1392.7,493.2 L1393.7,490.5 L1394.7,487.7 L1395.7,484.8 L1396.7,481.9 L1397.7,479.0 L1398.7,476.1 L1399.7,473.2 L1400.7,470.3 L1401.7,467.4 L1402.7,464.6 L1403.7,461.8 L1403.8,461.6" stroke-dasharray="53.81 30.89"/>
<path d="M1403.8,461.6 L1404.8,459.0 L1405.8,456.5 L1406.8,454.1 L1407.8,451.8 L1408.8,449.7 L1409.8,447.7 L1410.8,445.8 L1411.8,444.0 L1412.8,442.4 L1413.8,441.1 L1414.8,440.2 L1415.8,439.4 L1416.8,438.7 L1417.8,438.2 L1418.8,437.9 L1419.8,437.8 L1420.8,438.1 L1421.8,438.5 L1422.8,439.1 L1423.8,439.8 L1424.8,440.7 L1425.8,442.0 L1426.8,443.5 L1427.8,445.2 L1428.8,447.5 L1429.8,450.2 L1430.8,453.1 L1431.8,456.3 L1432.8,459.9 L1433.8,463.9 L1434.8,468.1 L1435.8,472.1 L1436.8,476.0 L1437.8,480.0 L1438.8,484.2 L1439.4,487.0" stroke-dasharray="53.74 30.85"/>
<path d="M1439.4,487.0 L1440.4,492.1 L1441.4,497.8 L1442.4,503.8 L1443.4,510.0 L1444.4,516.0 L1445.4,521.9 L1446.4,527.9 L1447.4,533.9 L1448.4,539.9 L1449.4,546.0 L1450.4,552.1 L1451.4,558.3 L1452.4,564.6 L1453.4,570.8 L1454.4,577.0 L1455.4,583.2 L1456.4,589.5 L1457.4,595.7 L1458.4,601.9 L1459.4,608.0 L1460.4,614.0 L1461.4,619.9 L1462.4,625.7 L1463.4,631.4 L1464.4,637.0 L1465.4,642.7 L1466.4,648.4 L1467.4,653.0 L1467.8,654.5" stroke-dasharray="53.97 30.98"/>
<path d="M1467.8,654.5 L1468.8,657.8 L1469.8,660.7 L1470.8,663.4 L1471.8,666.1 L1472.8,668.7 L1473.8,671.2 L1474.8,673.6 L1475.8,675.9 L1476.8,678.6 L1477.8,681.0 L1478.8,682.7 L1479.8,682.9 L1480.8,681.6 L1481.8,679.5 L1482.8,677.0 L1483.8,674.7 L1484.8,672.8 L1485.8,671.1 L1486.8,669.2 L1487.8,667.2 L1488.8,664.9 L1489.8,662.2 L1490.8,659.1 L1491.8,655.1 L1492.8,649.3 L1493.8,642.0 L1494.8,634.4 L1495.8,627.2 L1496.8,619.9 L1497.8,612.6 L1498.8,605.6 L1499.8,599.4 L1500.8,593.9 L1501.8,588.6 L1502.8,582.9 L1503.8,576.2 L1504.8,568.5 L1505.8,560.1 L1506.8,551.2 L1507.8,541.9 L1508.8,532.6 L1509.8,523.3 L1510.8,514.0 L1511.8,504.4 L1512.8,493.9 L1513.8,482.0 L1514.8,469.3 L1515.1,465.6" stroke-dasharray="53.55 30.74"/>
<path d="M1515.1,465.6 L1516.1,453.7 L1517.1,442.2 L1518.1,432.2 L1519.1,423.4 L1520.1,415.2 L1521.1,407.5 L1522.1,400.1 L1523.1,393.1 L1524.1,386.5 L1525.1,380.4" stroke-dasharray="54.51 31.29"/>
<path d="M1525.1,380.4 L1526.1,374.5 L1527.1,368.7 L1528.1,363.5 L1529.1,359.3 L1530.1,356.3 L1531.1,353.7 L1532.1,351.6 L1533.1,349.9 L1534.1,348.6 L1535.1,347.5 L1536.1,347.0 L1537.1,347.6 L1538.1,349.0 L1539.1,351.0 L1540.1,353.0 L1541.1,355.2 L1542.1,357.9 L1543.1,360.8 L1544.1,363.9 L1545.1,367.3 L1546.1,370.9 L1547.1,374.6 L1548.1,378.4 L1549.1,382.3 L1550.1,386.2 L1551.1,390.1 L1552.1,393.9 L1552.4,395.0" stroke-dasharray="55.44 31.83"/>
<path d="M1552.4,395.0 L1553.4,398.8 L1554.4,402.5 L1555.4,406.2 L1556.4,410.0 L1557.4,413.9 L1558.4,418.0 L1559.4,421.7 L1560.4,424.9 L1561.4,427.7 L1562.4,430.2 L1563.4,432.2 L1564.4,433.7 L1565.4,435.0 L1566.4,435.5 L1567.4,435.3 L1568.4,434.9 L1569.4,434.3 L1570.4,433.4 L1571.4,432.2 L1572.4,430.7 L1573.4,428.7 L1574.4,426.2 L1575.4,423.2 L1576.4,419.4 L1577.4,414.0 L1578.4,407.5 L1579.4,401.1 L1579.7,399.2" stroke-dasharray="53.29 30.59"/>
<path d="M1579.7,399.2 L1580.7,392.7 L1581.7,386.0 L1582.7,379.5 L1583.7,373.3 L1584.7,367.3 L1585.7,361.3 L1586.7,355.4 L1587.7,349.4 L1588.7,343.5 L1589.7,337.5 L1590.7,331.5 L1591.7,325.2 L1592.7,318.7 L1593.7,312.2 L1594.7,305.6 L1595.7,299.1 L1596.7,292.5 L1597.7,285.9 L1598.7,279.5 L1599.7,273.2 L1600.7,266.6 L1601.7,260.3 L1602.7,254.7 L1603.7,250.4 L1604.7,247.0 L1605.7,244.0 L1606.7,241.1 L1607.7,238.2 L1608.7,235.3 L1609.7,232.8 L1610.4,231.4" stroke-dasharray="54.28 31.16"/>
<path d="M1610.4,231.4 L1611.4,229.6 L1612.4,228.0 L1613.4,227.2 L1614.4,227.3 L1615.4,228.1 L1616.4,229.4 L1617.4,230.8 L1618.4,232.8 L1619.4,235.3 L1620.4,237.7 L1621.4,240.2 L1622.4,242.8 L1623.4,245.7 L1624.4,249.0 L1625.4,252.9 L1626.4,257.5 L1627.4,262.5 L1628.4,267.5 L1629.4,272.8 L1630.4,278.4 L1631.4,284.1 L1632.4,289.7 L1633.4,295.2 L1634.4,300.7 L1635.4,306.3 L1636.4,312.0 L1637.4,317.7 L1638.4,323.7 L1639.4,329.7 L1640.4,335.7 L1641.4,341.8 L1642.4,347.8 L1643.4,353.8 L1644.4,359.9 L1645.4,365.9 L1646.4,371.9 L1647.4,377.8 L1648.4,383.7 L1648.6,384.9" stroke-dasharray="53.55 30.74"/>
<path d="M1648.6,384.9 L1649.6,390.8 L1650.6,396.6 L1651.6,402.3 L1652.6,407.7 L1653.6,413.2 L1654.6,418.6 L1655.6,423.7 L1656.6,428.4 L1657.6,432.6 L1658.6,436.3 L1659.6,439.6 L1660.6,442.5 L1661.6,445.3 L1662.6,447.7 L1663.6,450.0 L1664.6,452.1 L1665.6,454.1 L1666.6,455.8 L1667.6,457.2 L1668.6,458.7 L1669.6,460.1 L1670.6,461.1 L1671.6,461.5 L1672.6,461.2 L1673.6,460.5 L1674.6,459.5 L1675.6,458.3 L1676.6,457.1 L1677.6,455.9 L1678.6,454.7 L1679.6,453.4 L1680.6,451.9 L1681.6,450.3 L1682.6,448.7 L1683.6,446.9 L1684.6,444.9 L1685.6,442.6 L1686.6,440.0 L1687.6,437.4 L1688.6,434.8 L1689.6,432.2 L1690.6,429.7 L1691.6,427.2 L1692.6,424.6 L1693.6,421.9 L1694.6,419.1 L1695.6,416.0 L1696.6,412.8 L1697.6,409.6 L1698.6,406.5 L1699.6,403.5 L1700.6,400.5 L1701.6,397.4 L1702.6,394.6 L1703.6,392.1 L1704.6,390.0 L1705.6,388.1 L1706.6,386.3 L1707.6,384.8 L1708.6,383.5 L1709.6,382.5" stroke-dasharray="54.08 31.05"/>
<path d="M1709.6,382.5 L1710.6,381.6 L1711.6,380.7 L1712.6,379.8 L1713.6,379.1 L1714.6,378.5 L1715.6,378.2 L1716.6,378.0 L1717.6,378.1 L1718.6,378.3 L1719.6,378.7 L1720.6,379.3 L1721.6,379.9 L1722.6,380.6 L1723.6,381.4 L1724.6,382.7 L1725.6,384.4 L1726.6,386.4 L1727.6,388.5 L1728.6,390.6 L1729.6,392.9 L1730.6,395.4 L1731.6,398.1 L1732.6,401.0 L1733.6,404.0 L1734.6,407.1 L1735.6,410.4 L1736.6,413.9 L1737.6,417.5 L1738.6,421.2 L1739.6,424.8 L1740.6,428.4 L1741.6,432.0 L1742.6,435.7 L1743.6,439.4 L1744.6,443.1 L1745.1,445.0" stroke-dasharray="53.25 30.57"/>
<path d="M1745.1,445.0 L1746.1,448.9 L1747.1,452.8 L1748.1,456.8 L1749.1,460.8 L1750.1,464.7 L1751.1,468.5 L1752.1,472.3 L1753.1,476.0 L1754.1,479.8 L1755.1,483.4 L1756.1,486.8 L1757.1,490.0 L1758.1,493.0 L1759.1,496.0 L1760.1,498.8 L1761.1,501.4 L1762.1,503.8 L1763.1,506.0 L1764.1,508.0 L1765.1,510.0 L1766.1,511.8 L1767.1,513.4 L1768.1,514.9 L1769.1,516.0 L1770.1,517.0 L1771.1,518.0 L1772.1,518.9 L1773.1,519.5 L1774.1,519.9 L1775.1,520.0 L1776.1,519.7 L1777.1,519.1 L1777.6,518.7" stroke-dasharray="54.42 31.24"/>
<path d="M1777.6,518.7 L1778.6,517.9 L1779.6,516.9 L1780.6,516.0 L1781.6,514.9 L1782.6,513.6 L1783.6,512.2 L1784.6,510.6 L1785.6,508.9 L1786.6,507.1 L1787.6,505.0 L1788.6,502.8 L1789.6,500.4 L1790.6,497.9 L1791.6,495.3 L1792.6,492.7 L1793.6,490.0 L1794.6,487.1 L1795.6,484.2 L1796.6,481.3 L1797.6,478.4 L1798.6,475.6 L1799.6,472.7 L1800.6,469.7 L1801.6,466.8 L1802.6,464.0 L1803.6,461.3 L1804.6,458.7 L1805.6,456.3 L1806.6,453.8 L1807.6,451.6 L1808.6,449.5 L1809.6,447.5 L1810.6,445.6 L1811.6,443.8 L1812.6,442.2 L1813.6,441.0 L1813.9,440.7" stroke-dasharray="55.17 31.67"/>
<path d="M1813.9,440.7 L1814.9,439.9 L1815.9,439.1 L1816.9,438.5 L1817.9,438.0 L1818.9,437.8 L1819.9,437.9 L1820.9,438.2 L1821.9,438.8 L1822.9,439.4 L1823.9,440.1 L1824.9,441.2 L1825.9,442.6 L1826.9,444.2 L1827.9,446.1 L1828.9,448.5 L1829.9,451.3 L1830.9,454.4 L1831.9,457.7 L1832.9,461.5 L1833.9,465.6 L1834.4,467.7" stroke-dasharray="54.00 31.00"/>
</g>
</g>
<g shape-rendering="crispEdges">
<rect x="450" y="57" width="1455" height="100" fill="#262626"/>
<rect x="454" y="61" width="1447" height="91" fill="#ffffff"/>
<rect x="494" y="97" width="213" height="16" fill="#999999"/>
<rect x="812" y="101" width="214" height="8" fill="#ff0000"/>
<rect x="1216" y="101" width="43" height="8" fill="#0f4d14"/>
<rect x="1274" y="101" width="12" height="8" fill="#0f4d14"/>
<rect x="1301" y="101" width="43" height="8" fill="#0f4d14"/>
<rect x="1359" y="101" width="12" height="8" fill="#0f4d14"/>
<rect x="1386" y="101" width="43" height="8" fill="#0f4d14"/>
<rect x="1558" y="101" width="54" height="8" fill="#0000ff"/>
<rect x="1643" y="101" width="54" height="8" fill="#0000ff"/>
<rect x="1728" y="101" width="43" height="8" fill="#0000ff"/>
</g>
<text class="lg" y="117.7" aria-label="u_d"><tspan x="728.3" style="font-size:52px;font-style:italic;">u</tspan><tspan x="757.1" dy="6.4" style="font-size:37.6px;font-style:italic;">d</tspan></text>
<text class="lg" y="117.1" aria-label="CFAC"><tspan x="1046.8 1083.5 1108.2 1146.2">CFAC</tspan></text>
<text class="lg" y="117.1" aria-label="NC"><tspan x="1449.3 1488.0">NC</tspan></text>
<text class="lg" y="117.1" aria-label="PID"><tspan x="1793.6 1826.4 1843.4">PID</tspan></text>
<text class="tk" x="168.1" y="115.2">0.21</text>
<text class="tk" x="131.0" y="293.3">0.205</text>
<text class="tk" x="206.3" y="471.3">0.2</text>
<text class="tk" x="131.0" y="649.4">0.195</text>
<text class="tk" x="168.0" y="827.5">0.19</text>
<text class="tk" x="314.3" y="901.3">0</text>
<text class="tk" x="776.0" y="901.3">500</text>
<text class="tk" x="1257.0" y="901.3">1000</text>
<text class="tk" x="1756.3" y="901.3">1500</text>
<text class="lb" y="988.9" aria-label="Time(s)"><tspan x="954.6 1005.3 1030.6 1092.7">Time</tspan><tspan x="1126.6" dy="8.2" style="font-size:89.7px;font-family:'DejaVu Sans Light','DejaVu Sans',sans-serif;font-weight:200;">(</tspan><tspan x="1158.7" dy="-8.2" style="font-size:78px;">s</tspan><tspan x="1183.8" dy="8.2" style="font-size:89.7px;font-family:'DejaVu Sans Light','DejaVu Sans',sans-serif;font-weight:200;">)</tspan></text>
<text class="lb" transform="translate(82.3,558.2) rotate(-90)" y="0" aria-label="u(m/s)"><tspan x="-1.7" style="font-size:82px;font-style:italic;">u</tspan><tspan x="41.4" dy="8.2" style="font-size:89.7px;font-family:'DejaVu Sans Light','DejaVu Sans',sans-serif;font-weight:200;">(</tspan><tspan x="73.6" dy="-8.2" style="font-size:79px;">m</tspan><tspan x="139.4" dy="10.9" style="font-size:97.3px;font-family:'DejaVu Sans Light','DejaVu Sans',sans-serif;font-weight:200;">/</tspan><tspan x="175.8" dy="-10.9" style="font-size:78px;">s</tspan><tspan x="202.1" dy="8.2" style="font-size:89.7px;font-family:'DejaVu Sans Light','DejaVu Sans',sans-serif;font-weight:200;">)</tspan></text>
</svg></body></html>
